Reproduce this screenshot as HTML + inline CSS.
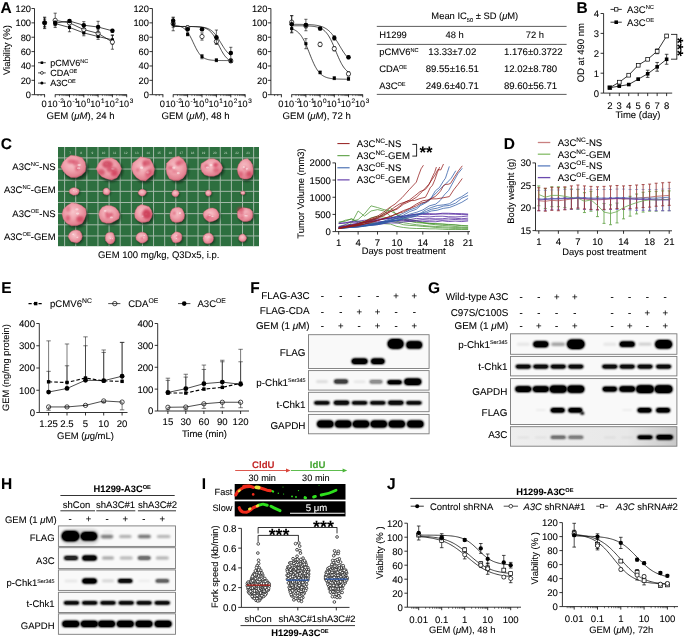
<!DOCTYPE html>
<html><head><meta charset="utf-8"><style>
html,body{margin:0;padding:0;background:#fff;}
svg{display:block;font-family:"Liberation Sans",sans-serif;will-change:transform;}
text{stroke-width:0.08px;text-rendering:geometricPrecision;}
</style></head><body>
<svg width="685" height="638" viewBox="0 0 685 638">
<defs>
<radialGradient id="tum" cx="0.45" cy="0.4" r="0.62">
<stop offset="0" stop-color="#f7c4ca"/><stop offset="0.5" stop-color="#efa2ad"/>
<stop offset="0.85" stop-color="#e28291"/><stop offset="1" stop-color="#cc6277"/></radialGradient>
<radialGradient id="tumd" cx="0.5" cy="0.45" r="0.6">
<stop offset="0" stop-color="#e86f82"/><stop offset="0.6" stop-color="#e0607a"/><stop offset="1" stop-color="#c24a5f"/></radialGradient>
<filter id="bl1" x="-30%" y="-30%" width="160%" height="160%"><feGaussianBlur stdDeviation="0.9"/></filter>
<filter id="bl05" x="-30%" y="-30%" width="160%" height="160%"><feGaussianBlur stdDeviation="0.45"/></filter>
<clipPath id="photoclip"><rect x="58" y="147" width="201" height="99.2"/></clipPath>
<filter id="wb1" x="-40%" y="-80%" width="180%" height="260%"><feGaussianBlur stdDeviation="0.85"/><feComponentTransfer><feFuncA type="linear" slope="1.5"/></feComponentTransfer></filter>
<filter id="wb2" x="-40%" y="-80%" width="180%" height="260%"><feGaussianBlur stdDeviation="1.2"/></filter>
<linearGradient id="a3cbg" x1="0" y1="0" x2="1" y2="0"><stop offset="0" stop-color="#eeeeee"/><stop offset="0.7" stop-color="#e8e8e8"/><stop offset="1" stop-color="#c8c8c8"/></linearGradient>
<filter id="fib" x="-20%" y="-50%" width="140%" height="200%"><feGaussianBlur stdDeviation="0.55"/></filter>
</defs>
<rect x="0" y="0" width="685" height="638" fill="#fff"/>
<text x="0.6" y="12.75" font-size="15.5" font-weight="bold" stroke="#000">A</text>
<line x1="34.5" y1="8.5" x2="34.5" y2="94.7" stroke="#000" stroke-width="0.8"/>
<line x1="31.5" y1="94.7" x2="34.5" y2="94.7" stroke="#000" stroke-width="0.8"/>
<text x="31" y="98.03" font-size="9.3" text-anchor="end" stroke="#000">0</text>
<line x1="31.5" y1="80.33" x2="34.5" y2="80.33" stroke="#000" stroke-width="0.8"/>
<text x="31" y="83.66" font-size="9.3" text-anchor="end" stroke="#000">20</text>
<line x1="31.5" y1="65.97" x2="34.5" y2="65.97" stroke="#000" stroke-width="0.8"/>
<text x="31" y="69.3" font-size="9.3" text-anchor="end" stroke="#000">40</text>
<line x1="31.5" y1="51.6" x2="34.5" y2="51.6" stroke="#000" stroke-width="0.8"/>
<text x="31" y="54.93" font-size="9.3" text-anchor="end" stroke="#000">60</text>
<line x1="31.5" y1="37.23" x2="34.5" y2="37.23" stroke="#000" stroke-width="0.8"/>
<text x="31" y="40.56" font-size="9.3" text-anchor="end" stroke="#000">80</text>
<line x1="31.5" y1="22.87" x2="34.5" y2="22.87" stroke="#000" stroke-width="0.8"/>
<text x="31" y="26.2" font-size="9.3" text-anchor="end" stroke="#000">100</text>
<line x1="31.5" y1="8.5" x2="34.5" y2="8.5" stroke="#000" stroke-width="0.8"/>
<text x="31" y="11.83" font-size="9.3" text-anchor="end" stroke="#000">120</text>
<line x1="34.5" y1="94.7" x2="45" y2="94.7" stroke="#000" stroke-width="0.8"/>
<line x1="44.6" y1="94.7" x2="44.6" y2="97.3" stroke="#000" stroke-width="0.8"/>
<line x1="38.03" y1="94.7" x2="38.03" y2="96.1" stroke="#000" stroke-width="0.6"/>
<line x1="41.06" y1="94.7" x2="41.06" y2="96.1" stroke="#000" stroke-width="0.6"/>
<line x1="55.2" y1="94.7" x2="126.7" y2="94.7" stroke="#000" stroke-width="0.8"/>
<line x1="55.2" y1="94.4" x2="55.2" y2="97.3" stroke="#000" stroke-width="0.8"/>
<line x1="59.5" y1="94.7" x2="59.5" y2="96.1" stroke="#000" stroke-width="0.5"/>
<line x1="62.02" y1="94.7" x2="62.02" y2="96.1" stroke="#000" stroke-width="0.5"/>
<line x1="63.81" y1="94.7" x2="63.81" y2="96.1" stroke="#000" stroke-width="0.5"/>
<line x1="65.2" y1="94.7" x2="65.2" y2="96.1" stroke="#000" stroke-width="0.5"/>
<line x1="66.33" y1="94.7" x2="66.33" y2="96.1" stroke="#000" stroke-width="0.5"/>
<line x1="67.28" y1="94.7" x2="67.28" y2="96.1" stroke="#000" stroke-width="0.5"/>
<line x1="68.11" y1="94.7" x2="68.11" y2="96.1" stroke="#000" stroke-width="0.5"/>
<line x1="68.85" y1="94.7" x2="68.85" y2="96.1" stroke="#000" stroke-width="0.5"/>
<line x1="69.5" y1="94.4" x2="69.5" y2="97.3" stroke="#000" stroke-width="0.8"/>
<line x1="73.8" y1="94.7" x2="73.8" y2="96.1" stroke="#000" stroke-width="0.5"/>
<line x1="76.32" y1="94.7" x2="76.32" y2="96.1" stroke="#000" stroke-width="0.5"/>
<line x1="78.11" y1="94.7" x2="78.11" y2="96.1" stroke="#000" stroke-width="0.5"/>
<line x1="79.5" y1="94.7" x2="79.5" y2="96.1" stroke="#000" stroke-width="0.5"/>
<line x1="80.63" y1="94.7" x2="80.63" y2="96.1" stroke="#000" stroke-width="0.5"/>
<line x1="81.58" y1="94.7" x2="81.58" y2="96.1" stroke="#000" stroke-width="0.5"/>
<line x1="82.41" y1="94.7" x2="82.41" y2="96.1" stroke="#000" stroke-width="0.5"/>
<line x1="83.15" y1="94.7" x2="83.15" y2="96.1" stroke="#000" stroke-width="0.5"/>
<line x1="83.8" y1="94.4" x2="83.8" y2="97.3" stroke="#000" stroke-width="0.8"/>
<line x1="88.1" y1="94.7" x2="88.1" y2="96.1" stroke="#000" stroke-width="0.5"/>
<line x1="90.62" y1="94.7" x2="90.62" y2="96.1" stroke="#000" stroke-width="0.5"/>
<line x1="92.41" y1="94.7" x2="92.41" y2="96.1" stroke="#000" stroke-width="0.5"/>
<line x1="93.8" y1="94.7" x2="93.8" y2="96.1" stroke="#000" stroke-width="0.5"/>
<line x1="94.93" y1="94.7" x2="94.93" y2="96.1" stroke="#000" stroke-width="0.5"/>
<line x1="95.88" y1="94.7" x2="95.88" y2="96.1" stroke="#000" stroke-width="0.5"/>
<line x1="96.71" y1="94.7" x2="96.71" y2="96.1" stroke="#000" stroke-width="0.5"/>
<line x1="97.45" y1="94.7" x2="97.45" y2="96.1" stroke="#000" stroke-width="0.5"/>
<line x1="98.1" y1="94.4" x2="98.1" y2="97.3" stroke="#000" stroke-width="0.8"/>
<line x1="102.4" y1="94.7" x2="102.4" y2="96.1" stroke="#000" stroke-width="0.5"/>
<line x1="104.92" y1="94.7" x2="104.92" y2="96.1" stroke="#000" stroke-width="0.5"/>
<line x1="106.71" y1="94.7" x2="106.71" y2="96.1" stroke="#000" stroke-width="0.5"/>
<line x1="108.1" y1="94.7" x2="108.1" y2="96.1" stroke="#000" stroke-width="0.5"/>
<line x1="109.23" y1="94.7" x2="109.23" y2="96.1" stroke="#000" stroke-width="0.5"/>
<line x1="110.18" y1="94.7" x2="110.18" y2="96.1" stroke="#000" stroke-width="0.5"/>
<line x1="111.01" y1="94.7" x2="111.01" y2="96.1" stroke="#000" stroke-width="0.5"/>
<line x1="111.75" y1="94.7" x2="111.75" y2="96.1" stroke="#000" stroke-width="0.5"/>
<line x1="112.4" y1="94.4" x2="112.4" y2="97.3" stroke="#000" stroke-width="0.8"/>
<line x1="116.7" y1="94.7" x2="116.7" y2="96.1" stroke="#000" stroke-width="0.5"/>
<line x1="119.22" y1="94.7" x2="119.22" y2="96.1" stroke="#000" stroke-width="0.5"/>
<line x1="121.01" y1="94.7" x2="121.01" y2="96.1" stroke="#000" stroke-width="0.5"/>
<line x1="122.4" y1="94.7" x2="122.4" y2="96.1" stroke="#000" stroke-width="0.5"/>
<line x1="123.53" y1="94.7" x2="123.53" y2="96.1" stroke="#000" stroke-width="0.5"/>
<line x1="124.48" y1="94.7" x2="124.48" y2="96.1" stroke="#000" stroke-width="0.5"/>
<line x1="125.31" y1="94.7" x2="125.31" y2="96.1" stroke="#000" stroke-width="0.5"/>
<line x1="126.05" y1="94.7" x2="126.05" y2="96.1" stroke="#000" stroke-width="0.5"/>
<line x1="126.7" y1="94.4" x2="126.7" y2="97.3" stroke="#000" stroke-width="0.8"/>
<text x="44.1" y="107.13" font-size="9.3" text-anchor="middle" stroke="#000">0</text>
<text x="47.4" y="107.06" font-size="9.1" stroke="#000">10<tspan font-size="6.4" dx="0.6" dy="-3.9">-2</tspan></text>
<text x="61.7" y="107.06" font-size="9.1" stroke="#000">10<tspan font-size="6.4" dx="0.6" dy="-3.9">-1</tspan></text>
<text x="76" y="107.06" font-size="9.1" stroke="#000">10<tspan font-size="6.4" dx="0.6" dy="-3.9">0</tspan></text>
<text x="90.3" y="107.06" font-size="9.1" stroke="#000">10<tspan font-size="6.4" dx="0.6" dy="-3.9">1</tspan></text>
<text x="104.6" y="107.06" font-size="9.1" stroke="#000">10<tspan font-size="6.4" dx="0.6" dy="-3.9">2</tspan></text>
<text x="118.9" y="107.06" font-size="9.1" stroke="#000">10<tspan font-size="6.4" dx="0.6" dy="-3.9">3</tspan></text>
<text x="80.6" y="119.44" font-size="9.6" text-anchor="middle" stroke="#000">GEM (<tspan font-style="italic">μM</tspan>), 24 h</text>
<polyline points="55.2,23.58 69.5,27.46 83.8,32.92 98.1,36.52 112.4,39.82" fill="none" stroke="#000" stroke-width="0.7"/>
<polyline points="55.2,20.35 69.5,22.87 83.8,29.62 98.1,33.35 112.4,42.05" fill="none" stroke="#000" stroke-width="0.7"/>
<polyline points="55.2,23.08 69.5,21 83.8,25.24 98.1,27.03 112.4,30.84" fill="none" stroke="#000" stroke-width="0.7"/>
<line x1="55.2" y1="21.43" x2="55.2" y2="25.74" stroke="#000" stroke-width="0.6"/>
<line x1="53.6" y1="21.43" x2="56.8" y2="21.43" stroke="#000" stroke-width="0.6"/>
<line x1="53.6" y1="25.74" x2="56.8" y2="25.74" stroke="#000" stroke-width="0.6"/>
<line x1="69.5" y1="23.15" x2="69.5" y2="31.77" stroke="#000" stroke-width="0.6"/>
<line x1="67.9" y1="23.15" x2="71.1" y2="23.15" stroke="#000" stroke-width="0.6"/>
<line x1="67.9" y1="31.77" x2="71.1" y2="31.77" stroke="#000" stroke-width="0.6"/>
<line x1="83.8" y1="30.05" x2="83.8" y2="35.8" stroke="#000" stroke-width="0.6"/>
<line x1="82.2" y1="30.05" x2="85.4" y2="30.05" stroke="#000" stroke-width="0.6"/>
<line x1="82.2" y1="35.8" x2="85.4" y2="35.8" stroke="#000" stroke-width="0.6"/>
<line x1="98.1" y1="33.64" x2="98.1" y2="39.39" stroke="#000" stroke-width="0.6"/>
<line x1="96.5" y1="33.64" x2="99.7" y2="33.64" stroke="#000" stroke-width="0.6"/>
<line x1="96.5" y1="39.39" x2="99.7" y2="39.39" stroke="#000" stroke-width="0.6"/>
<line x1="112.4" y1="35.51" x2="112.4" y2="44.13" stroke="#000" stroke-width="0.6"/>
<line x1="110.8" y1="35.51" x2="114" y2="35.51" stroke="#000" stroke-width="0.6"/>
<line x1="110.8" y1="44.13" x2="114" y2="44.13" stroke="#000" stroke-width="0.6"/>
<rect x="53.67" y="22.05" width="3.06" height="3.06" fill="#000"/>
<rect x="67.97" y="25.93" width="3.06" height="3.06" fill="#000"/>
<rect x="82.27" y="31.39" width="3.06" height="3.06" fill="#000"/>
<rect x="96.57" y="34.98" width="3.06" height="3.06" fill="#000"/>
<rect x="110.87" y="38.29" width="3.06" height="3.06" fill="#000"/>
<line x1="55.2" y1="13.17" x2="55.2" y2="27.54" stroke="#000" stroke-width="0.6"/>
<line x1="53.6" y1="13.17" x2="56.8" y2="13.17" stroke="#000" stroke-width="0.6"/>
<line x1="53.6" y1="27.54" x2="56.8" y2="27.54" stroke="#000" stroke-width="0.6"/>
<line x1="69.5" y1="20.71" x2="69.5" y2="25.02" stroke="#000" stroke-width="0.6"/>
<line x1="67.9" y1="20.71" x2="71.1" y2="20.71" stroke="#000" stroke-width="0.6"/>
<line x1="67.9" y1="25.02" x2="71.1" y2="25.02" stroke="#000" stroke-width="0.6"/>
<line x1="83.8" y1="26.03" x2="83.8" y2="33.21" stroke="#000" stroke-width="0.6"/>
<line x1="82.2" y1="26.03" x2="85.4" y2="26.03" stroke="#000" stroke-width="0.6"/>
<line x1="82.2" y1="33.21" x2="85.4" y2="33.21" stroke="#000" stroke-width="0.6"/>
<line x1="98.1" y1="29.76" x2="98.1" y2="36.95" stroke="#000" stroke-width="0.6"/>
<line x1="96.5" y1="29.76" x2="99.7" y2="29.76" stroke="#000" stroke-width="0.6"/>
<line x1="96.5" y1="36.95" x2="99.7" y2="36.95" stroke="#000" stroke-width="0.6"/>
<line x1="112.4" y1="34.86" x2="112.4" y2="49.23" stroke="#000" stroke-width="0.6"/>
<line x1="110.8" y1="34.86" x2="114" y2="34.86" stroke="#000" stroke-width="0.6"/>
<line x1="110.8" y1="49.23" x2="114" y2="49.23" stroke="#000" stroke-width="0.6"/>
<circle cx="55.2" cy="20.35" r="2.14" fill="#fff" stroke="#000" stroke-width="0.7"/>
<circle cx="69.5" cy="22.87" r="2.14" fill="#fff" stroke="#000" stroke-width="0.7"/>
<circle cx="83.8" cy="29.62" r="2.14" fill="#fff" stroke="#000" stroke-width="0.7"/>
<circle cx="98.1" cy="33.35" r="2.14" fill="#fff" stroke="#000" stroke-width="0.7"/>
<circle cx="112.4" cy="42.05" r="2.14" fill="#fff" stroke="#000" stroke-width="0.7"/>
<line x1="55.2" y1="20.93" x2="55.2" y2="25.24" stroke="#000" stroke-width="0.6"/>
<line x1="53.6" y1="20.93" x2="56.8" y2="20.93" stroke="#000" stroke-width="0.6"/>
<line x1="53.6" y1="25.24" x2="56.8" y2="25.24" stroke="#000" stroke-width="0.6"/>
<line x1="69.5" y1="19.56" x2="69.5" y2="22.44" stroke="#000" stroke-width="0.6"/>
<line x1="67.9" y1="19.56" x2="71.1" y2="19.56" stroke="#000" stroke-width="0.6"/>
<line x1="67.9" y1="22.44" x2="71.1" y2="22.44" stroke="#000" stroke-width="0.6"/>
<line x1="83.8" y1="21.65" x2="83.8" y2="28.83" stroke="#000" stroke-width="0.6"/>
<line x1="82.2" y1="21.65" x2="85.4" y2="21.65" stroke="#000" stroke-width="0.6"/>
<line x1="82.2" y1="28.83" x2="85.4" y2="28.83" stroke="#000" stroke-width="0.6"/>
<line x1="98.1" y1="21.29" x2="98.1" y2="32.78" stroke="#000" stroke-width="0.6"/>
<line x1="96.5" y1="21.29" x2="99.7" y2="21.29" stroke="#000" stroke-width="0.6"/>
<line x1="96.5" y1="32.78" x2="99.7" y2="32.78" stroke="#000" stroke-width="0.6"/>
<line x1="112.4" y1="29.4" x2="112.4" y2="32.28" stroke="#000" stroke-width="0.6"/>
<line x1="110.8" y1="29.4" x2="114" y2="29.4" stroke="#000" stroke-width="0.6"/>
<line x1="110.8" y1="32.28" x2="114" y2="32.28" stroke="#000" stroke-width="0.6"/>
<circle cx="55.2" cy="23.08" r="2.25" fill="#000"/>
<circle cx="69.5" cy="21" r="2.25" fill="#000"/>
<circle cx="83.8" cy="25.24" r="2.25" fill="#000"/>
<circle cx="98.1" cy="27.03" r="2.25" fill="#000"/>
<circle cx="112.4" cy="30.84" r="2.25" fill="#000"/>
<line x1="44.6" y1="17.84" x2="44.6" y2="27.89" stroke="#000" stroke-width="0.6"/>
<line x1="43" y1="17.84" x2="46.2" y2="17.84" stroke="#000" stroke-width="0.6"/>
<line x1="43" y1="27.89" x2="46.2" y2="27.89" stroke="#000" stroke-width="0.6"/>
<line x1="44.6" y1="17.12" x2="44.6" y2="28.61" stroke="#000" stroke-width="0.6"/>
<line x1="43" y1="17.12" x2="46.2" y2="17.12" stroke="#000" stroke-width="0.6"/>
<line x1="43" y1="28.61" x2="46.2" y2="28.61" stroke="#000" stroke-width="0.6"/>
<line x1="44.6" y1="19.27" x2="44.6" y2="26.46" stroke="#000" stroke-width="0.6"/>
<line x1="43" y1="19.27" x2="46.2" y2="19.27" stroke="#000" stroke-width="0.6"/>
<line x1="43" y1="26.46" x2="46.2" y2="26.46" stroke="#000" stroke-width="0.6"/>
<rect x="43.07" y="21.34" width="3.06" height="3.06" fill="#000"/>
<circle cx="44.6" cy="22.87" r="2.14" fill="#fff" stroke="#000" stroke-width="0.7"/>
<circle cx="44.6" cy="22.87" r="2.25" fill="#000"/>
<text x="6.4" y="53.5" font-size="9.5" text-anchor="middle" stroke="#000" transform="rotate(-90 6.4 50.1)">Viability (%)</text>
<line x1="38" y1="62.7" x2="45.8" y2="62.7" stroke="#000" stroke-width="0.7"/>
<rect x="40.62" y="61.43" width="2.55" height="2.55" fill="#000"/>
<text x="50.2" y="65.92" font-size="9" stroke="#000">pCMV6<tspan font-size="5.5" dy="-3.37">NC</tspan></text>
<line x1="38" y1="72.9" x2="45.8" y2="72.9" stroke="#000" stroke-width="0.7"/>
<circle cx="41.9" cy="72.9" r="1.42" fill="#fff" stroke="#000" stroke-width="0.7"/>
<text x="50.2" y="76.12" font-size="9" stroke="#000">CDA<tspan font-size="5.5" dy="-3.37">OE</tspan></text>
<line x1="38" y1="83.1" x2="45.8" y2="83.1" stroke="#000" stroke-width="0.7"/>
<circle cx="41.9" cy="83.1" r="1.5" fill="#000"/>
<text x="50.2" y="86.32" font-size="9" stroke="#000">A3C<tspan font-size="5.5" dy="-3.37">OE</tspan></text>
<line x1="152.4" y1="8.5" x2="152.4" y2="94.7" stroke="#000" stroke-width="0.8"/>
<line x1="149.4" y1="94.7" x2="152.4" y2="94.7" stroke="#000" stroke-width="0.8"/>
<text x="148.9" y="98.03" font-size="9.3" text-anchor="end" stroke="#000">0</text>
<line x1="149.4" y1="80.33" x2="152.4" y2="80.33" stroke="#000" stroke-width="0.8"/>
<text x="148.9" y="83.66" font-size="9.3" text-anchor="end" stroke="#000">20</text>
<line x1="149.4" y1="65.97" x2="152.4" y2="65.97" stroke="#000" stroke-width="0.8"/>
<text x="148.9" y="69.3" font-size="9.3" text-anchor="end" stroke="#000">40</text>
<line x1="149.4" y1="51.6" x2="152.4" y2="51.6" stroke="#000" stroke-width="0.8"/>
<text x="148.9" y="54.93" font-size="9.3" text-anchor="end" stroke="#000">60</text>
<line x1="149.4" y1="37.23" x2="152.4" y2="37.23" stroke="#000" stroke-width="0.8"/>
<text x="148.9" y="40.56" font-size="9.3" text-anchor="end" stroke="#000">80</text>
<line x1="149.4" y1="22.87" x2="152.4" y2="22.87" stroke="#000" stroke-width="0.8"/>
<text x="148.9" y="26.2" font-size="9.3" text-anchor="end" stroke="#000">100</text>
<line x1="149.4" y1="8.5" x2="152.4" y2="8.5" stroke="#000" stroke-width="0.8"/>
<text x="148.9" y="11.83" font-size="9.3" text-anchor="end" stroke="#000">120</text>
<line x1="152.4" y1="94.7" x2="163.3" y2="94.7" stroke="#000" stroke-width="0.8"/>
<line x1="162.9" y1="94.7" x2="162.9" y2="97.3" stroke="#000" stroke-width="0.8"/>
<line x1="156.08" y1="94.7" x2="156.08" y2="96.1" stroke="#000" stroke-width="0.6"/>
<line x1="159.22" y1="94.7" x2="159.22" y2="96.1" stroke="#000" stroke-width="0.6"/>
<line x1="173.2" y1="94.7" x2="245.2" y2="94.7" stroke="#000" stroke-width="0.8"/>
<line x1="173.2" y1="94.4" x2="173.2" y2="97.3" stroke="#000" stroke-width="0.8"/>
<line x1="177.53" y1="94.7" x2="177.53" y2="96.1" stroke="#000" stroke-width="0.5"/>
<line x1="180.07" y1="94.7" x2="180.07" y2="96.1" stroke="#000" stroke-width="0.5"/>
<line x1="181.87" y1="94.7" x2="181.87" y2="96.1" stroke="#000" stroke-width="0.5"/>
<line x1="183.27" y1="94.7" x2="183.27" y2="96.1" stroke="#000" stroke-width="0.5"/>
<line x1="184.41" y1="94.7" x2="184.41" y2="96.1" stroke="#000" stroke-width="0.5"/>
<line x1="185.37" y1="94.7" x2="185.37" y2="96.1" stroke="#000" stroke-width="0.5"/>
<line x1="186.2" y1="94.7" x2="186.2" y2="96.1" stroke="#000" stroke-width="0.5"/>
<line x1="186.94" y1="94.7" x2="186.94" y2="96.1" stroke="#000" stroke-width="0.5"/>
<line x1="187.6" y1="94.4" x2="187.6" y2="97.3" stroke="#000" stroke-width="0.8"/>
<line x1="191.93" y1="94.7" x2="191.93" y2="96.1" stroke="#000" stroke-width="0.5"/>
<line x1="194.47" y1="94.7" x2="194.47" y2="96.1" stroke="#000" stroke-width="0.5"/>
<line x1="196.27" y1="94.7" x2="196.27" y2="96.1" stroke="#000" stroke-width="0.5"/>
<line x1="197.67" y1="94.7" x2="197.67" y2="96.1" stroke="#000" stroke-width="0.5"/>
<line x1="198.81" y1="94.7" x2="198.81" y2="96.1" stroke="#000" stroke-width="0.5"/>
<line x1="199.77" y1="94.7" x2="199.77" y2="96.1" stroke="#000" stroke-width="0.5"/>
<line x1="200.6" y1="94.7" x2="200.6" y2="96.1" stroke="#000" stroke-width="0.5"/>
<line x1="201.34" y1="94.7" x2="201.34" y2="96.1" stroke="#000" stroke-width="0.5"/>
<line x1="202" y1="94.4" x2="202" y2="97.3" stroke="#000" stroke-width="0.8"/>
<line x1="206.33" y1="94.7" x2="206.33" y2="96.1" stroke="#000" stroke-width="0.5"/>
<line x1="208.87" y1="94.7" x2="208.87" y2="96.1" stroke="#000" stroke-width="0.5"/>
<line x1="210.67" y1="94.7" x2="210.67" y2="96.1" stroke="#000" stroke-width="0.5"/>
<line x1="212.07" y1="94.7" x2="212.07" y2="96.1" stroke="#000" stroke-width="0.5"/>
<line x1="213.21" y1="94.7" x2="213.21" y2="96.1" stroke="#000" stroke-width="0.5"/>
<line x1="214.17" y1="94.7" x2="214.17" y2="96.1" stroke="#000" stroke-width="0.5"/>
<line x1="215" y1="94.7" x2="215" y2="96.1" stroke="#000" stroke-width="0.5"/>
<line x1="215.74" y1="94.7" x2="215.74" y2="96.1" stroke="#000" stroke-width="0.5"/>
<line x1="216.4" y1="94.4" x2="216.4" y2="97.3" stroke="#000" stroke-width="0.8"/>
<line x1="220.73" y1="94.7" x2="220.73" y2="96.1" stroke="#000" stroke-width="0.5"/>
<line x1="223.27" y1="94.7" x2="223.27" y2="96.1" stroke="#000" stroke-width="0.5"/>
<line x1="225.07" y1="94.7" x2="225.07" y2="96.1" stroke="#000" stroke-width="0.5"/>
<line x1="226.47" y1="94.7" x2="226.47" y2="96.1" stroke="#000" stroke-width="0.5"/>
<line x1="227.61" y1="94.7" x2="227.61" y2="96.1" stroke="#000" stroke-width="0.5"/>
<line x1="228.57" y1="94.7" x2="228.57" y2="96.1" stroke="#000" stroke-width="0.5"/>
<line x1="229.4" y1="94.7" x2="229.4" y2="96.1" stroke="#000" stroke-width="0.5"/>
<line x1="230.14" y1="94.7" x2="230.14" y2="96.1" stroke="#000" stroke-width="0.5"/>
<line x1="230.8" y1="94.4" x2="230.8" y2="97.3" stroke="#000" stroke-width="0.8"/>
<line x1="235.13" y1="94.7" x2="235.13" y2="96.1" stroke="#000" stroke-width="0.5"/>
<line x1="237.67" y1="94.7" x2="237.67" y2="96.1" stroke="#000" stroke-width="0.5"/>
<line x1="239.47" y1="94.7" x2="239.47" y2="96.1" stroke="#000" stroke-width="0.5"/>
<line x1="240.87" y1="94.7" x2="240.87" y2="96.1" stroke="#000" stroke-width="0.5"/>
<line x1="242.01" y1="94.7" x2="242.01" y2="96.1" stroke="#000" stroke-width="0.5"/>
<line x1="242.97" y1="94.7" x2="242.97" y2="96.1" stroke="#000" stroke-width="0.5"/>
<line x1="243.8" y1="94.7" x2="243.8" y2="96.1" stroke="#000" stroke-width="0.5"/>
<line x1="244.54" y1="94.7" x2="244.54" y2="96.1" stroke="#000" stroke-width="0.5"/>
<line x1="245.2" y1="94.4" x2="245.2" y2="97.3" stroke="#000" stroke-width="0.8"/>
<text x="162.4" y="107.13" font-size="9.3" text-anchor="middle" stroke="#000">0</text>
<text x="165.4" y="107.06" font-size="9.1" stroke="#000">10<tspan font-size="6.4" dx="0.6" dy="-3.9">-2</tspan></text>
<text x="179.8" y="107.06" font-size="9.1" stroke="#000">10<tspan font-size="6.4" dx="0.6" dy="-3.9">-1</tspan></text>
<text x="194.2" y="107.06" font-size="9.1" stroke="#000">10<tspan font-size="6.4" dx="0.6" dy="-3.9">0</tspan></text>
<text x="208.6" y="107.06" font-size="9.1" stroke="#000">10<tspan font-size="6.4" dx="0.6" dy="-3.9">1</tspan></text>
<text x="223" y="107.06" font-size="9.1" stroke="#000">10<tspan font-size="6.4" dx="0.6" dy="-3.9">2</tspan></text>
<text x="237.4" y="107.06" font-size="9.1" stroke="#000">10<tspan font-size="6.4" dx="0.6" dy="-3.9">3</tspan></text>
<text x="195.6" y="119.44" font-size="9.6" text-anchor="middle" stroke="#000">GEM (<tspan font-style="italic">μM</tspan>), 48 h</text>
<polyline points="173.2,25.3 173.92,25.35 174.64,25.42 175.36,25.49 176.08,25.58 176.8,25.68 177.52,25.8 178.24,25.94 178.96,26.11 179.68,26.31 180.4,26.54 181.12,26.81 181.84,27.13 182.56,27.5 183.28,27.93 184,28.43 184.72,29 185.44,29.65 186.16,30.39 186.88,31.23 187.6,32.16 188.32,33.2 189.04,34.33 189.76,35.57 190.48,36.89 191.2,38.3 191.92,39.76 192.64,41.27 193.36,42.8 194.08,44.33 194.8,45.84 195.52,47.31 196.24,48.71 196.96,50.03 197.68,51.27 198.4,52.4 199.12,53.44 199.84,54.38 200.56,55.21 201.28,55.95 202,56.6 202.72,57.17 203.44,57.67 204.16,58.1 204.88,58.47 205.6,58.79 206.32,59.06 207.04,59.29 207.76,59.49 208.48,59.66 209.2,59.8 209.92,59.92 210.64,60.02 211.36,60.11 212.08,60.18 212.8,60.25 213.52,60.3 214.24,60.34 214.96,60.38 215.68,60.41 216.4,60.44 217.12,60.46 217.84,60.48 218.56,60.5 219.28,60.51 220,60.52 220.72,60.53 221.44,60.54 222.16,60.54 222.88,60.55 223.6,60.55 224.32,60.56 225.04,60.56 225.76,60.56 226.48,60.57 227.2,60.57 227.92,60.57 228.64,60.57 229.36,60.57 230.08,60.57 230.8,60.57" fill="none" stroke="#000" stroke-width="0.7"/>
<polyline points="173.2,26.46 173.92,26.46 174.64,26.46 175.36,26.46 176.08,26.46 176.8,26.46 177.52,26.46 178.24,26.46 178.96,26.46 179.68,26.46 180.4,26.47 181.12,26.47 181.84,26.47 182.56,26.47 183.28,26.47 184,26.47 184.72,26.48 185.44,26.48 186.16,26.48 186.88,26.49 187.6,26.49 188.32,26.5 189.04,26.51 189.76,26.52 190.48,26.53 191.2,26.54 191.92,26.55 192.64,26.57 193.36,26.59 194.08,26.61 194.8,26.64 195.52,26.67 196.24,26.7 196.96,26.75 197.68,26.8 198.4,26.86 199.12,26.92 199.84,27 200.56,27.1 201.28,27.21 202,27.34 202.72,27.49 203.44,27.66 204.16,27.86 204.88,28.1 205.6,28.37 206.32,28.68 207.04,29.04 207.76,29.46 208.48,29.93 209.2,30.47 209.92,31.08 210.64,31.78 211.36,32.55 212.08,33.42 212.8,34.37 213.52,35.41 214.24,36.55 214.96,37.77 215.68,39.07 216.4,40.43 217.12,41.85 217.84,43.3 218.56,44.78 219.28,46.25 220,47.7 220.72,49.12 221.44,50.48 222.16,51.78 222.88,53 223.6,54.14 224.32,55.18 225.04,56.14 225.76,57 226.48,57.78 227.2,58.47 227.92,59.08 228.64,59.62 229.36,60.1 230.08,60.51 230.8,60.87" fill="none" stroke="#000" stroke-width="0.7"/>
<polyline points="173.2,26.46 173.92,26.46 174.64,26.46 175.36,26.46 176.08,26.46 176.8,26.46 177.52,26.46 178.24,26.46 178.96,26.46 179.68,26.46 180.4,26.47 181.12,26.47 181.84,26.47 182.56,26.47 183.28,26.47 184,26.47 184.72,26.48 185.44,26.48 186.16,26.48 186.88,26.49 187.6,26.49 188.32,26.5 189.04,26.5 189.76,26.51 190.48,26.52 191.2,26.53 191.92,26.54 192.64,26.55 193.36,26.57 194.08,26.59 194.8,26.61 195.52,26.63 196.24,26.66 196.96,26.69 197.68,26.72 198.4,26.77 199.12,26.82 199.84,26.87 200.56,26.94 201.28,27.02 202,27.11 202.72,27.21 203.44,27.32 204.16,27.46 204.88,27.62 205.6,27.8 206.32,28 207.04,28.24 207.76,28.51 208.48,28.81 209.2,29.16 209.92,29.55 210.64,30 211.36,30.5 212.08,31.06 212.8,31.68 213.52,32.37 214.24,33.13 214.96,33.96 215.68,34.85 216.4,35.82 217.12,36.84 217.84,37.92 218.56,39.05 219.28,40.22 220,41.41 220.72,42.62 221.44,43.83 222.16,45.02 222.88,46.19 223.6,47.32 224.32,48.4 225.04,49.43 225.76,50.39 226.48,51.29 227.2,52.11 227.92,52.87 228.64,53.56 229.36,54.18 230.08,54.74 230.8,55.24" fill="none" stroke="#000" stroke-width="0.7"/>
<line x1="173.2" y1="19.99" x2="173.2" y2="27.18" stroke="#000" stroke-width="0.6"/>
<line x1="171.6" y1="19.99" x2="174.8" y2="19.99" stroke="#000" stroke-width="0.6"/>
<line x1="171.6" y1="27.18" x2="174.8" y2="27.18" stroke="#000" stroke-width="0.6"/>
<line x1="187.6" y1="25.74" x2="187.6" y2="30.05" stroke="#000" stroke-width="0.6"/>
<line x1="186" y1="25.74" x2="189.2" y2="25.74" stroke="#000" stroke-width="0.6"/>
<line x1="186" y1="30.05" x2="189.2" y2="30.05" stroke="#000" stroke-width="0.6"/>
<line x1="202" y1="32.92" x2="202" y2="40.11" stroke="#000" stroke-width="0.6"/>
<line x1="200.4" y1="32.92" x2="203.6" y2="32.92" stroke="#000" stroke-width="0.6"/>
<line x1="200.4" y1="40.11" x2="203.6" y2="40.11" stroke="#000" stroke-width="0.6"/>
<line x1="216.4" y1="39.39" x2="216.4" y2="43.7" stroke="#000" stroke-width="0.6"/>
<line x1="214.8" y1="39.39" x2="218" y2="39.39" stroke="#000" stroke-width="0.6"/>
<line x1="214.8" y1="43.7" x2="218" y2="43.7" stroke="#000" stroke-width="0.6"/>
<line x1="230.8" y1="59.5" x2="230.8" y2="62.38" stroke="#000" stroke-width="0.6"/>
<line x1="229.2" y1="59.5" x2="232.4" y2="59.5" stroke="#000" stroke-width="0.6"/>
<line x1="229.2" y1="62.38" x2="232.4" y2="62.38" stroke="#000" stroke-width="0.6"/>
<circle cx="173.2" cy="23.58" r="2.14" fill="#fff" stroke="#000" stroke-width="0.7"/>
<circle cx="187.6" cy="27.89" r="2.14" fill="#fff" stroke="#000" stroke-width="0.7"/>
<circle cx="202" cy="36.52" r="2.14" fill="#fff" stroke="#000" stroke-width="0.7"/>
<circle cx="216.4" cy="41.54" r="2.14" fill="#fff" stroke="#000" stroke-width="0.7"/>
<circle cx="230.8" cy="60.94" r="2.14" fill="#fff" stroke="#000" stroke-width="0.7"/>
<line x1="173.2" y1="17.84" x2="173.2" y2="30.77" stroke="#000" stroke-width="0.6"/>
<line x1="171.6" y1="17.84" x2="174.8" y2="17.84" stroke="#000" stroke-width="0.6"/>
<line x1="171.6" y1="30.77" x2="174.8" y2="30.77" stroke="#000" stroke-width="0.6"/>
<line x1="187.6" y1="32.92" x2="187.6" y2="35.8" stroke="#000" stroke-width="0.6"/>
<line x1="186" y1="32.92" x2="189.2" y2="32.92" stroke="#000" stroke-width="0.6"/>
<line x1="186" y1="35.8" x2="189.2" y2="35.8" stroke="#000" stroke-width="0.6"/>
<line x1="202" y1="54.47" x2="202" y2="58.78" stroke="#000" stroke-width="0.6"/>
<line x1="200.4" y1="54.47" x2="203.6" y2="54.47" stroke="#000" stroke-width="0.6"/>
<line x1="200.4" y1="58.78" x2="203.6" y2="58.78" stroke="#000" stroke-width="0.6"/>
<line x1="216.4" y1="58.78" x2="216.4" y2="61.66" stroke="#000" stroke-width="0.6"/>
<line x1="214.8" y1="58.78" x2="218" y2="58.78" stroke="#000" stroke-width="0.6"/>
<line x1="214.8" y1="61.66" x2="218" y2="61.66" stroke="#000" stroke-width="0.6"/>
<line x1="230.8" y1="59.5" x2="230.8" y2="62.38" stroke="#000" stroke-width="0.6"/>
<line x1="229.2" y1="59.5" x2="232.4" y2="59.5" stroke="#000" stroke-width="0.6"/>
<line x1="229.2" y1="62.38" x2="232.4" y2="62.38" stroke="#000" stroke-width="0.6"/>
<rect x="171.67" y="22.77" width="3.06" height="3.06" fill="#000"/>
<rect x="186.07" y="32.83" width="3.06" height="3.06" fill="#000"/>
<rect x="200.47" y="55.1" width="3.06" height="3.06" fill="#000"/>
<rect x="214.87" y="58.69" width="3.06" height="3.06" fill="#000"/>
<rect x="229.27" y="59.41" width="3.06" height="3.06" fill="#000"/>
<line x1="173.2" y1="17.12" x2="173.2" y2="24.3" stroke="#000" stroke-width="0.6"/>
<line x1="171.6" y1="17.12" x2="174.8" y2="17.12" stroke="#000" stroke-width="0.6"/>
<line x1="171.6" y1="24.3" x2="174.8" y2="24.3" stroke="#000" stroke-width="0.6"/>
<line x1="187.6" y1="27.89" x2="187.6" y2="30.77" stroke="#000" stroke-width="0.6"/>
<line x1="186" y1="27.89" x2="189.2" y2="27.89" stroke="#000" stroke-width="0.6"/>
<line x1="186" y1="30.77" x2="189.2" y2="30.77" stroke="#000" stroke-width="0.6"/>
<line x1="202" y1="27.89" x2="202" y2="30.77" stroke="#000" stroke-width="0.6"/>
<line x1="200.4" y1="27.89" x2="203.6" y2="27.89" stroke="#000" stroke-width="0.6"/>
<line x1="200.4" y1="30.77" x2="203.6" y2="30.77" stroke="#000" stroke-width="0.6"/>
<line x1="216.4" y1="30.05" x2="216.4" y2="44.42" stroke="#000" stroke-width="0.6"/>
<line x1="214.8" y1="30.05" x2="218" y2="30.05" stroke="#000" stroke-width="0.6"/>
<line x1="214.8" y1="44.42" x2="218" y2="44.42" stroke="#000" stroke-width="0.6"/>
<line x1="230.8" y1="47.29" x2="230.8" y2="58.78" stroke="#000" stroke-width="0.6"/>
<line x1="229.2" y1="47.29" x2="232.4" y2="47.29" stroke="#000" stroke-width="0.6"/>
<line x1="229.2" y1="58.78" x2="232.4" y2="58.78" stroke="#000" stroke-width="0.6"/>
<circle cx="173.2" cy="20.71" r="2.25" fill="#000"/>
<circle cx="187.6" cy="29.33" r="2.25" fill="#000"/>
<circle cx="202" cy="29.33" r="2.25" fill="#000"/>
<circle cx="216.4" cy="37.23" r="2.25" fill="#000"/>
<circle cx="230.8" cy="53.04" r="2.25" fill="#000"/>
<line x1="270.9" y1="8.5" x2="270.9" y2="94.7" stroke="#000" stroke-width="0.8"/>
<line x1="267.9" y1="94.7" x2="270.9" y2="94.7" stroke="#000" stroke-width="0.8"/>
<text x="267.4" y="98.03" font-size="9.3" text-anchor="end" stroke="#000">0</text>
<line x1="267.9" y1="80.33" x2="270.9" y2="80.33" stroke="#000" stroke-width="0.8"/>
<text x="267.4" y="83.66" font-size="9.3" text-anchor="end" stroke="#000">20</text>
<line x1="267.9" y1="65.97" x2="270.9" y2="65.97" stroke="#000" stroke-width="0.8"/>
<text x="267.4" y="69.3" font-size="9.3" text-anchor="end" stroke="#000">40</text>
<line x1="267.9" y1="51.6" x2="270.9" y2="51.6" stroke="#000" stroke-width="0.8"/>
<text x="267.4" y="54.93" font-size="9.3" text-anchor="end" stroke="#000">60</text>
<line x1="267.9" y1="37.23" x2="270.9" y2="37.23" stroke="#000" stroke-width="0.8"/>
<text x="267.4" y="40.56" font-size="9.3" text-anchor="end" stroke="#000">80</text>
<line x1="267.9" y1="22.87" x2="270.9" y2="22.87" stroke="#000" stroke-width="0.8"/>
<text x="267.4" y="26.2" font-size="9.3" text-anchor="end" stroke="#000">100</text>
<line x1="267.9" y1="8.5" x2="270.9" y2="8.5" stroke="#000" stroke-width="0.8"/>
<text x="267.4" y="11.83" font-size="9.3" text-anchor="end" stroke="#000">120</text>
<line x1="270.9" y1="94.7" x2="281.8" y2="94.7" stroke="#000" stroke-width="0.8"/>
<line x1="281.4" y1="94.7" x2="281.4" y2="97.3" stroke="#000" stroke-width="0.8"/>
<line x1="274.57" y1="94.7" x2="274.57" y2="96.1" stroke="#000" stroke-width="0.6"/>
<line x1="277.72" y1="94.7" x2="277.72" y2="96.1" stroke="#000" stroke-width="0.6"/>
<line x1="291.7" y1="94.7" x2="362.7" y2="94.7" stroke="#000" stroke-width="0.8"/>
<line x1="291.7" y1="94.4" x2="291.7" y2="97.3" stroke="#000" stroke-width="0.8"/>
<line x1="295.97" y1="94.7" x2="295.97" y2="96.1" stroke="#000" stroke-width="0.5"/>
<line x1="298.48" y1="94.7" x2="298.48" y2="96.1" stroke="#000" stroke-width="0.5"/>
<line x1="300.25" y1="94.7" x2="300.25" y2="96.1" stroke="#000" stroke-width="0.5"/>
<line x1="301.63" y1="94.7" x2="301.63" y2="96.1" stroke="#000" stroke-width="0.5"/>
<line x1="302.75" y1="94.7" x2="302.75" y2="96.1" stroke="#000" stroke-width="0.5"/>
<line x1="303.7" y1="94.7" x2="303.7" y2="96.1" stroke="#000" stroke-width="0.5"/>
<line x1="304.52" y1="94.7" x2="304.52" y2="96.1" stroke="#000" stroke-width="0.5"/>
<line x1="305.25" y1="94.7" x2="305.25" y2="96.1" stroke="#000" stroke-width="0.5"/>
<line x1="305.9" y1="94.4" x2="305.9" y2="97.3" stroke="#000" stroke-width="0.8"/>
<line x1="310.17" y1="94.7" x2="310.17" y2="96.1" stroke="#000" stroke-width="0.5"/>
<line x1="312.68" y1="94.7" x2="312.68" y2="96.1" stroke="#000" stroke-width="0.5"/>
<line x1="314.45" y1="94.7" x2="314.45" y2="96.1" stroke="#000" stroke-width="0.5"/>
<line x1="315.83" y1="94.7" x2="315.83" y2="96.1" stroke="#000" stroke-width="0.5"/>
<line x1="316.95" y1="94.7" x2="316.95" y2="96.1" stroke="#000" stroke-width="0.5"/>
<line x1="317.9" y1="94.7" x2="317.9" y2="96.1" stroke="#000" stroke-width="0.5"/>
<line x1="318.72" y1="94.7" x2="318.72" y2="96.1" stroke="#000" stroke-width="0.5"/>
<line x1="319.45" y1="94.7" x2="319.45" y2="96.1" stroke="#000" stroke-width="0.5"/>
<line x1="320.1" y1="94.4" x2="320.1" y2="97.3" stroke="#000" stroke-width="0.8"/>
<line x1="324.37" y1="94.7" x2="324.37" y2="96.1" stroke="#000" stroke-width="0.5"/>
<line x1="326.88" y1="94.7" x2="326.88" y2="96.1" stroke="#000" stroke-width="0.5"/>
<line x1="328.65" y1="94.7" x2="328.65" y2="96.1" stroke="#000" stroke-width="0.5"/>
<line x1="330.03" y1="94.7" x2="330.03" y2="96.1" stroke="#000" stroke-width="0.5"/>
<line x1="331.15" y1="94.7" x2="331.15" y2="96.1" stroke="#000" stroke-width="0.5"/>
<line x1="332.1" y1="94.7" x2="332.1" y2="96.1" stroke="#000" stroke-width="0.5"/>
<line x1="332.92" y1="94.7" x2="332.92" y2="96.1" stroke="#000" stroke-width="0.5"/>
<line x1="333.65" y1="94.7" x2="333.65" y2="96.1" stroke="#000" stroke-width="0.5"/>
<line x1="334.3" y1="94.4" x2="334.3" y2="97.3" stroke="#000" stroke-width="0.8"/>
<line x1="338.57" y1="94.7" x2="338.57" y2="96.1" stroke="#000" stroke-width="0.5"/>
<line x1="341.08" y1="94.7" x2="341.08" y2="96.1" stroke="#000" stroke-width="0.5"/>
<line x1="342.85" y1="94.7" x2="342.85" y2="96.1" stroke="#000" stroke-width="0.5"/>
<line x1="344.23" y1="94.7" x2="344.23" y2="96.1" stroke="#000" stroke-width="0.5"/>
<line x1="345.35" y1="94.7" x2="345.35" y2="96.1" stroke="#000" stroke-width="0.5"/>
<line x1="346.3" y1="94.7" x2="346.3" y2="96.1" stroke="#000" stroke-width="0.5"/>
<line x1="347.12" y1="94.7" x2="347.12" y2="96.1" stroke="#000" stroke-width="0.5"/>
<line x1="347.85" y1="94.7" x2="347.85" y2="96.1" stroke="#000" stroke-width="0.5"/>
<line x1="348.5" y1="94.4" x2="348.5" y2="97.3" stroke="#000" stroke-width="0.8"/>
<line x1="352.77" y1="94.7" x2="352.77" y2="96.1" stroke="#000" stroke-width="0.5"/>
<line x1="355.28" y1="94.7" x2="355.28" y2="96.1" stroke="#000" stroke-width="0.5"/>
<line x1="357.05" y1="94.7" x2="357.05" y2="96.1" stroke="#000" stroke-width="0.5"/>
<line x1="358.43" y1="94.7" x2="358.43" y2="96.1" stroke="#000" stroke-width="0.5"/>
<line x1="359.55" y1="94.7" x2="359.55" y2="96.1" stroke="#000" stroke-width="0.5"/>
<line x1="360.5" y1="94.7" x2="360.5" y2="96.1" stroke="#000" stroke-width="0.5"/>
<line x1="361.32" y1="94.7" x2="361.32" y2="96.1" stroke="#000" stroke-width="0.5"/>
<line x1="362.05" y1="94.7" x2="362.05" y2="96.1" stroke="#000" stroke-width="0.5"/>
<line x1="362.7" y1="94.4" x2="362.7" y2="97.3" stroke="#000" stroke-width="0.8"/>
<text x="280.9" y="107.13" font-size="9.3" text-anchor="middle" stroke="#000">0</text>
<text x="283.9" y="107.06" font-size="9.1" stroke="#000">10<tspan font-size="6.4" dx="0.6" dy="-3.9">-2</tspan></text>
<text x="298.1" y="107.06" font-size="9.1" stroke="#000">10<tspan font-size="6.4" dx="0.6" dy="-3.9">-1</tspan></text>
<text x="312.3" y="107.06" font-size="9.1" stroke="#000">10<tspan font-size="6.4" dx="0.6" dy="-3.9">0</tspan></text>
<text x="326.5" y="107.06" font-size="9.1" stroke="#000">10<tspan font-size="6.4" dx="0.6" dy="-3.9">1</tspan></text>
<text x="340.7" y="107.06" font-size="9.1" stroke="#000">10<tspan font-size="6.4" dx="0.6" dy="-3.9">2</tspan></text>
<text x="354.9" y="107.06" font-size="9.1" stroke="#000">10<tspan font-size="6.4" dx="0.6" dy="-3.9">3</tspan></text>
<text x="316.7" y="119.44" font-size="9.6" text-anchor="middle" stroke="#000">GEM (<tspan font-style="italic">μM</tspan>), 72 h</text>
<polyline points="291.7,28.77 292.41,29 293.12,29.26 293.83,29.56 294.54,29.89 295.25,30.27 295.96,30.69 296.67,31.18 297.38,31.72 298.09,32.32 298.8,33 299.51,33.75 300.22,34.59 300.93,35.51 301.64,36.53 302.35,37.63 303.06,38.83 303.77,40.13 304.48,41.52 305.19,43 305.9,44.56 306.61,46.2 307.32,47.9 308.03,49.64 308.74,51.42 309.45,53.22 310.16,55.01 310.87,56.79 311.58,58.54 312.29,60.23 313,61.87 313.71,63.43 314.42,64.91 315.13,66.3 315.84,67.6 316.55,68.8 317.26,69.91 317.97,70.92 318.68,71.84 319.39,72.68 320.1,73.43 320.81,74.11 321.52,74.72 322.23,75.26 322.94,75.74 323.65,76.16 324.36,76.54 325.07,76.88 325.78,77.17 326.49,77.43 327.2,77.66 327.91,77.86 328.62,78.04 329.33,78.19 330.04,78.33 330.75,78.44 331.46,78.55 332.17,78.64 332.88,78.72 333.59,78.79 334.3,78.85 335.01,78.9 335.72,78.94 336.43,78.98 337.14,79.02 337.85,79.05 338.56,79.08 339.27,79.1 339.98,79.12 340.69,79.14 341.4,79.15 342.11,79.17 342.82,79.18 343.53,79.19 344.24,79.2 344.95,79.2 345.66,79.21 346.37,79.22 347.08,79.22 347.79,79.23 348.5,79.23" fill="none" stroke="#000" stroke-width="0.7"/>
<polyline points="291.7,25.75 292.41,25.75 293.12,25.75 293.83,25.75 294.54,25.76 295.25,25.76 295.96,25.76 296.67,25.77 297.38,25.77 298.09,25.77 298.8,25.78 299.51,25.78 300.22,25.79 300.93,25.8 301.64,25.81 302.35,25.82 303.06,25.83 303.77,25.84 304.48,25.85 305.19,25.87 305.9,25.89 306.61,25.91 307.32,25.94 308.03,25.97 308.74,26 309.45,26.04 310.16,26.09 310.87,26.14 311.58,26.19 312.29,26.26 313,26.34 313.71,26.42 314.42,26.52 315.13,26.64 315.84,26.77 316.55,26.92 317.26,27.09 317.97,27.28 318.68,27.5 319.39,27.75 320.1,28.04 320.81,28.36 321.52,28.72 322.23,29.14 322.94,29.6 323.65,30.12 324.36,30.71 325.07,31.36 325.78,32.09 326.49,32.9 327.2,33.79 327.91,34.77 328.62,35.83 329.33,37 330.04,38.25 330.75,39.59 331.46,41.02 332.17,42.53 332.88,44.11 333.59,45.74 334.3,47.43 335.01,49.15 335.72,50.88 336.43,52.62 337.14,54.33 337.85,56.02 338.56,57.66 339.27,59.24 339.98,60.74 340.69,62.17 341.4,63.51 342.11,64.77 342.82,65.93 343.53,67 344.24,67.98 344.95,68.87 345.66,69.67 346.37,70.4 347.08,71.05 347.79,71.64 348.5,72.16" fill="none" stroke="#000" stroke-width="0.7"/>
<polyline points="291.7,24.32 292.41,24.32 293.12,24.33 293.83,24.33 294.54,24.33 295.25,24.34 295.96,24.34 296.67,24.34 297.38,24.35 298.09,24.36 298.8,24.36 299.51,24.37 300.22,24.38 300.93,24.39 301.64,24.4 302.35,24.41 303.06,24.42 303.77,24.43 304.48,24.45 305.19,24.47 305.9,24.49 306.61,24.51 307.32,24.54 308.03,24.56 308.74,24.6 309.45,24.63 310.16,24.67 310.87,24.72 311.58,24.77 312.29,24.82 313,24.88 313.71,24.95 314.42,25.03 315.13,25.12 315.84,25.22 316.55,25.32 317.26,25.45 317.97,25.58 318.68,25.73 319.39,25.9 320.1,26.08 320.81,26.29 321.52,26.52 322.23,26.78 322.94,27.06 323.65,27.37 324.36,27.71 325.07,28.09 325.78,28.51 326.49,28.96 327.2,29.46 327.91,30 328.62,30.59 329.33,31.23 330.04,31.92 330.75,32.67 331.46,33.46 332.17,34.31 332.88,35.21 333.59,36.17 334.3,37.17 335.01,38.21 335.72,39.3 336.43,40.42 337.14,41.57 337.85,42.75 338.56,43.94 339.27,45.13 339.98,46.33 340.69,47.52 341.4,48.7 342.11,49.85 342.82,50.97 343.53,52.06 344.24,53.1 344.95,54.1 345.66,55.06 346.37,55.96 347.08,56.81 347.79,57.6 348.5,58.35" fill="none" stroke="#000" stroke-width="0.7"/>
<line x1="291.7" y1="15.68" x2="291.7" y2="28.61" stroke="#000" stroke-width="0.6"/>
<line x1="290.1" y1="15.68" x2="293.3" y2="15.68" stroke="#000" stroke-width="0.6"/>
<line x1="290.1" y1="28.61" x2="293.3" y2="28.61" stroke="#000" stroke-width="0.6"/>
<line x1="305.9" y1="23.58" x2="305.9" y2="27.89" stroke="#000" stroke-width="0.6"/>
<line x1="304.3" y1="23.58" x2="307.5" y2="23.58" stroke="#000" stroke-width="0.6"/>
<line x1="304.3" y1="27.89" x2="307.5" y2="27.89" stroke="#000" stroke-width="0.6"/>
<line x1="320.1" y1="42.26" x2="320.1" y2="46.57" stroke="#000" stroke-width="0.6"/>
<line x1="318.5" y1="42.26" x2="321.7" y2="42.26" stroke="#000" stroke-width="0.6"/>
<line x1="318.5" y1="46.57" x2="321.7" y2="46.57" stroke="#000" stroke-width="0.6"/>
<line x1="334.3" y1="46.57" x2="334.3" y2="50.88" stroke="#000" stroke-width="0.6"/>
<line x1="332.7" y1="46.57" x2="335.9" y2="46.57" stroke="#000" stroke-width="0.6"/>
<line x1="332.7" y1="50.88" x2="335.9" y2="50.88" stroke="#000" stroke-width="0.6"/>
<line x1="348.5" y1="71.71" x2="348.5" y2="76.02" stroke="#000" stroke-width="0.6"/>
<line x1="346.9" y1="71.71" x2="350.1" y2="71.71" stroke="#000" stroke-width="0.6"/>
<line x1="346.9" y1="76.02" x2="350.1" y2="76.02" stroke="#000" stroke-width="0.6"/>
<circle cx="291.7" cy="22.15" r="2.14" fill="#fff" stroke="#000" stroke-width="0.7"/>
<circle cx="305.9" cy="25.74" r="2.14" fill="#fff" stroke="#000" stroke-width="0.7"/>
<circle cx="320.1" cy="44.42" r="2.14" fill="#fff" stroke="#000" stroke-width="0.7"/>
<circle cx="334.3" cy="48.73" r="2.14" fill="#fff" stroke="#000" stroke-width="0.7"/>
<circle cx="348.5" cy="73.87" r="2.14" fill="#fff" stroke="#000" stroke-width="0.7"/>
<line x1="291.7" y1="25.02" x2="291.7" y2="32.2" stroke="#000" stroke-width="0.6"/>
<line x1="290.1" y1="25.02" x2="293.3" y2="25.02" stroke="#000" stroke-width="0.6"/>
<line x1="290.1" y1="32.2" x2="293.3" y2="32.2" stroke="#000" stroke-width="0.6"/>
<line x1="305.9" y1="38.67" x2="305.9" y2="48.73" stroke="#000" stroke-width="0.6"/>
<line x1="304.3" y1="38.67" x2="307.5" y2="38.67" stroke="#000" stroke-width="0.6"/>
<line x1="304.3" y1="48.73" x2="307.5" y2="48.73" stroke="#000" stroke-width="0.6"/>
<line x1="320.1" y1="71" x2="320.1" y2="73.87" stroke="#000" stroke-width="0.6"/>
<line x1="318.5" y1="71" x2="321.7" y2="71" stroke="#000" stroke-width="0.6"/>
<line x1="318.5" y1="73.87" x2="321.7" y2="73.87" stroke="#000" stroke-width="0.6"/>
<line x1="334.3" y1="76.74" x2="334.3" y2="79.62" stroke="#000" stroke-width="0.6"/>
<line x1="332.7" y1="76.74" x2="335.9" y2="76.74" stroke="#000" stroke-width="0.6"/>
<line x1="332.7" y1="79.62" x2="335.9" y2="79.62" stroke="#000" stroke-width="0.6"/>
<line x1="348.5" y1="77.46" x2="348.5" y2="80.33" stroke="#000" stroke-width="0.6"/>
<line x1="346.9" y1="77.46" x2="350.1" y2="77.46" stroke="#000" stroke-width="0.6"/>
<line x1="346.9" y1="80.33" x2="350.1" y2="80.33" stroke="#000" stroke-width="0.6"/>
<rect x="290.17" y="27.08" width="3.06" height="3.06" fill="#000"/>
<rect x="304.37" y="42.17" width="3.06" height="3.06" fill="#000"/>
<rect x="318.57" y="70.9" width="3.06" height="3.06" fill="#000"/>
<rect x="332.77" y="76.65" width="3.06" height="3.06" fill="#000"/>
<rect x="346.97" y="77.37" width="3.06" height="3.06" fill="#000"/>
<line x1="291.7" y1="15.68" x2="291.7" y2="32.92" stroke="#000" stroke-width="0.6"/>
<line x1="290.1" y1="15.68" x2="293.3" y2="15.68" stroke="#000" stroke-width="0.6"/>
<line x1="290.1" y1="32.92" x2="293.3" y2="32.92" stroke="#000" stroke-width="0.6"/>
<line x1="305.9" y1="19.27" x2="305.9" y2="30.77" stroke="#000" stroke-width="0.6"/>
<line x1="304.3" y1="19.27" x2="307.5" y2="19.27" stroke="#000" stroke-width="0.6"/>
<line x1="304.3" y1="30.77" x2="307.5" y2="30.77" stroke="#000" stroke-width="0.6"/>
<line x1="320.1" y1="27.18" x2="320.1" y2="30.05" stroke="#000" stroke-width="0.6"/>
<line x1="318.5" y1="27.18" x2="321.7" y2="27.18" stroke="#000" stroke-width="0.6"/>
<line x1="318.5" y1="30.05" x2="321.7" y2="30.05" stroke="#000" stroke-width="0.6"/>
<line x1="334.3" y1="35.8" x2="334.3" y2="40.11" stroke="#000" stroke-width="0.6"/>
<line x1="332.7" y1="35.8" x2="335.9" y2="35.8" stroke="#000" stroke-width="0.6"/>
<line x1="332.7" y1="40.11" x2="335.9" y2="40.11" stroke="#000" stroke-width="0.6"/>
<line x1="348.5" y1="55.91" x2="348.5" y2="58.78" stroke="#000" stroke-width="0.6"/>
<line x1="346.9" y1="55.91" x2="350.1" y2="55.91" stroke="#000" stroke-width="0.6"/>
<line x1="346.9" y1="58.78" x2="350.1" y2="58.78" stroke="#000" stroke-width="0.6"/>
<circle cx="291.7" cy="24.3" r="2.25" fill="#000"/>
<circle cx="305.9" cy="25.02" r="2.25" fill="#000"/>
<circle cx="320.1" cy="28.61" r="2.25" fill="#000"/>
<circle cx="334.3" cy="37.95" r="2.25" fill="#000"/>
<circle cx="348.5" cy="57.35" r="2.25" fill="#000"/>
<line x1="376.8" y1="26.4" x2="566.6" y2="26.4" stroke="#333" stroke-width="0.8"/>
<line x1="376.8" y1="44.4" x2="566.6" y2="44.4" stroke="#333" stroke-width="0.8"/>
<line x1="376.8" y1="94.4" x2="566.6" y2="94.4" stroke="#333" stroke-width="0.8"/>
<text x="474.8" y="18.97" font-size="9.4" text-anchor="middle" stroke="#000">Mean IC<tspan font-size="5.6" dy="2.6">50</tspan><tspan dy="-2.6"> ± SD (</tspan><tspan font-style="italic">μ</tspan>M)</text>
<text x="379.2" y="38.07" font-size="9.4" stroke="#000">H1299</text>
<text x="454.6" y="38.07" font-size="9.4" text-anchor="middle" stroke="#000">48 h</text>
<text x="534.9" y="38.07" font-size="9.4" text-anchor="middle" stroke="#000">72 h</text>
<text x="379.2" y="55.37" font-size="9.4" stroke="#000">pCMV6<tspan font-size="5.6" dy="-3.43">NC</tspan></text>
<text x="452.3" y="55.44" font-size="9.6" text-anchor="middle" stroke="#000">13.33±7.02</text>
<text x="503.9" y="55.44" font-size="9.6" stroke="#000">1.176±0.3722</text>
<text x="379.2" y="72.22" font-size="9.4" stroke="#000">CDA<tspan font-size="5.6" dy="-3.43">OE</tspan></text>
<text x="452.3" y="72.29" font-size="9.6" text-anchor="middle" stroke="#000">89.55±16.51</text>
<text x="503.9" y="72.29" font-size="9.6" stroke="#000">12.02±8.780</text>
<text x="379.2" y="89.07" font-size="9.4" stroke="#000">A3C<tspan font-size="5.6" dy="-3.43">OE</tspan></text>
<text x="452.3" y="89.14" font-size="9.6" text-anchor="middle" stroke="#000">249.6±40.71</text>
<text x="503.9" y="89.14" font-size="9.6" stroke="#000">89.60±56.71</text>
<text x="576.6" y="12.55" font-size="15.5" font-weight="bold" stroke="#000">B</text>
<line x1="603.6" y1="13.5" x2="603.6" y2="93.1" stroke="#000" stroke-width="0.8"/>
<line x1="603.6" y1="93.1" x2="672.2" y2="93.1" stroke="#000" stroke-width="0.8"/>
<line x1="600.6" y1="93.1" x2="603.6" y2="93.1" stroke="#000" stroke-width="0.8"/>
<text x="599" y="96.5" font-size="9.5" text-anchor="end" stroke="#000">0</text>
<line x1="600.6" y1="73.2" x2="603.6" y2="73.2" stroke="#000" stroke-width="0.8"/>
<text x="599" y="76.6" font-size="9.5" text-anchor="end" stroke="#000">1</text>
<line x1="600.6" y1="53.3" x2="603.6" y2="53.3" stroke="#000" stroke-width="0.8"/>
<text x="599" y="56.7" font-size="9.5" text-anchor="end" stroke="#000">2</text>
<line x1="600.6" y1="33.4" x2="603.6" y2="33.4" stroke="#000" stroke-width="0.8"/>
<text x="599" y="36.8" font-size="9.5" text-anchor="end" stroke="#000">3</text>
<line x1="600.6" y1="13.5" x2="603.6" y2="13.5" stroke="#000" stroke-width="0.8"/>
<text x="599" y="16.9" font-size="9.5" text-anchor="end" stroke="#000">4</text>
<line x1="609.8" y1="93.1" x2="609.8" y2="96.1" stroke="#000" stroke-width="0.8"/>
<text x="609.8" y="109.4" font-size="9.5" text-anchor="middle" stroke="#000">2</text>
<line x1="619.27" y1="93.1" x2="619.27" y2="96.1" stroke="#000" stroke-width="0.8"/>
<text x="619.27" y="109.4" font-size="9.5" text-anchor="middle" stroke="#000">3</text>
<line x1="628.74" y1="93.1" x2="628.74" y2="96.1" stroke="#000" stroke-width="0.8"/>
<text x="628.74" y="109.4" font-size="9.5" text-anchor="middle" stroke="#000">4</text>
<line x1="638.21" y1="93.1" x2="638.21" y2="96.1" stroke="#000" stroke-width="0.8"/>
<text x="638.21" y="109.4" font-size="9.5" text-anchor="middle" stroke="#000">5</text>
<line x1="647.68" y1="93.1" x2="647.68" y2="96.1" stroke="#000" stroke-width="0.8"/>
<text x="647.68" y="109.4" font-size="9.5" text-anchor="middle" stroke="#000">6</text>
<line x1="657.15" y1="93.1" x2="657.15" y2="96.1" stroke="#000" stroke-width="0.8"/>
<text x="657.15" y="109.4" font-size="9.5" text-anchor="middle" stroke="#000">7</text>
<line x1="666.62" y1="93.1" x2="666.62" y2="96.1" stroke="#000" stroke-width="0.8"/>
<text x="666.62" y="109.4" font-size="9.5" text-anchor="middle" stroke="#000">8</text>
<text x="637.9" y="118.3" font-size="9.5" text-anchor="middle" stroke="#000">Time (day)</text>
<text x="580.9" y="56.1" font-size="9.5" text-anchor="middle" stroke="#000" transform="rotate(-90 580.9 52.7)">OD at 490 nm</text>
<polyline points="609.8,87.73 619.27,82.16 628.74,75.19 638.21,65.24 647.68,59.27 657.15,51.31 666.62,35.99" fill="none" stroke="#000" stroke-width="0.8"/>
<polyline points="609.8,87.73 619.27,86.13 628.74,84.54 638.21,79.17 647.68,73.8 657.15,66.83 666.62,59.27" fill="none" stroke="#000" stroke-width="0.8"/>
<line x1="609.8" y1="87.33" x2="609.8" y2="88.12" stroke="#000" stroke-width="0.7"/>
<line x1="608" y1="87.33" x2="611.6" y2="87.33" stroke="#000" stroke-width="0.7"/>
<line x1="608" y1="88.12" x2="611.6" y2="88.12" stroke="#000" stroke-width="0.7"/>
<line x1="619.27" y1="81.16" x2="619.27" y2="83.15" stroke="#000" stroke-width="0.7"/>
<line x1="617.47" y1="81.16" x2="621.07" y2="81.16" stroke="#000" stroke-width="0.7"/>
<line x1="617.47" y1="83.15" x2="621.07" y2="83.15" stroke="#000" stroke-width="0.7"/>
<line x1="628.74" y1="74.19" x2="628.74" y2="76.19" stroke="#000" stroke-width="0.7"/>
<line x1="626.94" y1="74.19" x2="630.54" y2="74.19" stroke="#000" stroke-width="0.7"/>
<line x1="626.94" y1="76.19" x2="630.54" y2="76.19" stroke="#000" stroke-width="0.7"/>
<line x1="638.21" y1="64.25" x2="638.21" y2="66.23" stroke="#000" stroke-width="0.7"/>
<line x1="636.41" y1="64.25" x2="640.01" y2="64.25" stroke="#000" stroke-width="0.7"/>
<line x1="636.41" y1="66.23" x2="640.01" y2="66.23" stroke="#000" stroke-width="0.7"/>
<line x1="647.68" y1="58.27" x2="647.68" y2="60.27" stroke="#000" stroke-width="0.7"/>
<line x1="645.88" y1="58.27" x2="649.48" y2="58.27" stroke="#000" stroke-width="0.7"/>
<line x1="645.88" y1="60.27" x2="649.48" y2="60.27" stroke="#000" stroke-width="0.7"/>
<line x1="657.15" y1="48.92" x2="657.15" y2="53.7" stroke="#000" stroke-width="0.7"/>
<line x1="655.35" y1="48.92" x2="658.95" y2="48.92" stroke="#000" stroke-width="0.7"/>
<line x1="655.35" y1="53.7" x2="658.95" y2="53.7" stroke="#000" stroke-width="0.7"/>
<line x1="666.62" y1="34.39" x2="666.62" y2="37.58" stroke="#000" stroke-width="0.7"/>
<line x1="664.82" y1="34.39" x2="668.42" y2="34.39" stroke="#000" stroke-width="0.7"/>
<line x1="664.82" y1="37.58" x2="668.42" y2="37.58" stroke="#000" stroke-width="0.7"/>
<line x1="609.8" y1="87.33" x2="609.8" y2="88.12" stroke="#000" stroke-width="0.7"/>
<line x1="608" y1="87.33" x2="611.6" y2="87.33" stroke="#000" stroke-width="0.7"/>
<line x1="608" y1="88.12" x2="611.6" y2="88.12" stroke="#000" stroke-width="0.7"/>
<line x1="619.27" y1="85.54" x2="619.27" y2="86.73" stroke="#000" stroke-width="0.7"/>
<line x1="617.47" y1="85.54" x2="621.07" y2="85.54" stroke="#000" stroke-width="0.7"/>
<line x1="617.47" y1="86.73" x2="621.07" y2="86.73" stroke="#000" stroke-width="0.7"/>
<line x1="628.74" y1="83.95" x2="628.74" y2="85.14" stroke="#000" stroke-width="0.7"/>
<line x1="626.94" y1="83.95" x2="630.54" y2="83.95" stroke="#000" stroke-width="0.7"/>
<line x1="626.94" y1="85.14" x2="630.54" y2="85.14" stroke="#000" stroke-width="0.7"/>
<line x1="638.21" y1="78.17" x2="638.21" y2="80.16" stroke="#000" stroke-width="0.7"/>
<line x1="636.41" y1="78.17" x2="640.01" y2="78.17" stroke="#000" stroke-width="0.7"/>
<line x1="636.41" y1="80.16" x2="640.01" y2="80.16" stroke="#000" stroke-width="0.7"/>
<line x1="647.68" y1="70.22" x2="647.68" y2="77.38" stroke="#000" stroke-width="0.7"/>
<line x1="645.88" y1="70.22" x2="649.48" y2="70.22" stroke="#000" stroke-width="0.7"/>
<line x1="645.88" y1="77.38" x2="649.48" y2="77.38" stroke="#000" stroke-width="0.7"/>
<line x1="657.15" y1="62.45" x2="657.15" y2="71.21" stroke="#000" stroke-width="0.7"/>
<line x1="655.35" y1="62.45" x2="658.95" y2="62.45" stroke="#000" stroke-width="0.7"/>
<line x1="655.35" y1="71.21" x2="658.95" y2="71.21" stroke="#000" stroke-width="0.7"/>
<line x1="666.62" y1="54.29" x2="666.62" y2="64.25" stroke="#000" stroke-width="0.7"/>
<line x1="664.82" y1="54.29" x2="668.42" y2="54.29" stroke="#000" stroke-width="0.7"/>
<line x1="664.82" y1="64.25" x2="668.42" y2="64.25" stroke="#000" stroke-width="0.7"/>
<rect x="607.91" y="85.84" width="3.78" height="3.78" fill="#fff" stroke="#000" stroke-width="0.7"/>
<rect x="617.38" y="80.27" width="3.78" height="3.78" fill="#fff" stroke="#000" stroke-width="0.7"/>
<rect x="626.85" y="73.3" width="3.78" height="3.78" fill="#fff" stroke="#000" stroke-width="0.7"/>
<rect x="636.32" y="63.35" width="3.78" height="3.78" fill="#fff" stroke="#000" stroke-width="0.7"/>
<rect x="645.79" y="57.38" width="3.78" height="3.78" fill="#fff" stroke="#000" stroke-width="0.7"/>
<rect x="655.26" y="49.42" width="3.78" height="3.78" fill="#fff" stroke="#000" stroke-width="0.7"/>
<rect x="664.73" y="34.1" width="3.78" height="3.78" fill="#fff" stroke="#000" stroke-width="0.7"/>
<rect x="608.01" y="85.94" width="3.57" height="3.57" fill="#000"/>
<rect x="617.49" y="84.35" width="3.57" height="3.57" fill="#000"/>
<rect x="626.96" y="82.76" width="3.57" height="3.57" fill="#000"/>
<rect x="636.42" y="77.39" width="3.57" height="3.57" fill="#000"/>
<rect x="645.89" y="72.01" width="3.57" height="3.57" fill="#000"/>
<rect x="655.37" y="65.05" width="3.57" height="3.57" fill="#000"/>
<rect x="664.84" y="57.48" width="3.57" height="3.57" fill="#000"/>
<line x1="610.5" y1="9.4" x2="621.8" y2="9.4" stroke="#000" stroke-width="0.8"/>
<rect x="614.49" y="7.69" width="3.42" height="3.42" fill="#fff" stroke="#000" stroke-width="0.7"/>
<text x="627" y="12.84" font-size="9.6" stroke="#000">A3C<tspan font-size="5.8" dy="-3.55">NC</tspan></text>
<line x1="610.5" y1="22.2" x2="621.8" y2="22.2" stroke="#000" stroke-width="0.8"/>
<rect x="614.42" y="20.42" width="3.57" height="3.57" fill="#000"/>
<text x="627" y="25.64" font-size="9.6" stroke="#000">A3C<tspan font-size="5.8" dy="-3.55">OE</tspan></text>
<line x1="671" y1="34.4" x2="677.2" y2="34.4" stroke="#000" stroke-width="0.8"/>
<line x1="671" y1="59.2" x2="677.2" y2="59.2" stroke="#000" stroke-width="0.8"/>
<line x1="676.8" y1="34.4" x2="676.8" y2="59.2" stroke="#000" stroke-width="0.8"/>
<text x="680.7" y="55.16" font-size="16.2" font-weight="bold" text-anchor="middle" transform="rotate(90 680.7 46.9)">***</text>
<text x="0.8" y="148.95" font-size="15.5" font-weight="bold" stroke="#000">C</text>
<text x="55.6" y="169.5" font-size="9.5" text-anchor="end" stroke="#000">A3C<tspan font-size="5.8" dy="-3.55">NC</tspan><tspan dy="3.55">-NS</tspan></text>
<text x="55.6" y="192.6" font-size="9.5" text-anchor="end" stroke="#000">A3C<tspan font-size="5.8" dy="-3.55">NC</tspan><tspan dy="3.55">-GEM</tspan></text>
<text x="55.6" y="216.9" font-size="9.5" text-anchor="end" stroke="#000">A3C<tspan font-size="5.8" dy="-3.55">OE</tspan><tspan dy="3.55">-NS</tspan></text>
<text x="55.6" y="239.8" font-size="9.5" text-anchor="end" stroke="#000">A3C<tspan font-size="5.8" dy="-3.55">OE</tspan><tspan dy="3.55">-GEM</tspan></text>
<text x="158.7" y="257.8" font-size="9.5" text-anchor="middle" stroke="#000">GEM 100 mg/kg, Q3Dx5, i.p.</text>
<rect x="58" y="147" width="201" height="99.2" fill="#2d6f3f"/>
<g clip-path="url(#photoclip)">
<line x1="64.6" y1="147" x2="64.6" y2="246.2" stroke="#a3b9a8" stroke-width="1"/>
<line x1="75.72" y1="147" x2="75.72" y2="246.2" stroke="#a3b9a8" stroke-width="1"/>
<line x1="86.84" y1="147" x2="86.84" y2="246.2" stroke="#a3b9a8" stroke-width="1"/>
<line x1="97.96" y1="147" x2="97.96" y2="246.2" stroke="#a3b9a8" stroke-width="1"/>
<line x1="109.08" y1="147" x2="109.08" y2="246.2" stroke="#a3b9a8" stroke-width="1"/>
<line x1="120.2" y1="147" x2="120.2" y2="246.2" stroke="#a3b9a8" stroke-width="1"/>
<line x1="131.32" y1="147" x2="131.32" y2="246.2" stroke="#a3b9a8" stroke-width="1"/>
<line x1="142.44" y1="147" x2="142.44" y2="246.2" stroke="#a3b9a8" stroke-width="1"/>
<line x1="153.56" y1="147" x2="153.56" y2="246.2" stroke="#a3b9a8" stroke-width="1"/>
<line x1="164.68" y1="147" x2="164.68" y2="246.2" stroke="#a3b9a8" stroke-width="1"/>
<line x1="175.8" y1="147" x2="175.8" y2="246.2" stroke="#a3b9a8" stroke-width="1"/>
<line x1="186.92" y1="147" x2="186.92" y2="246.2" stroke="#a3b9a8" stroke-width="1"/>
<line x1="198.04" y1="147" x2="198.04" y2="246.2" stroke="#a3b9a8" stroke-width="1"/>
<line x1="209.16" y1="147" x2="209.16" y2="246.2" stroke="#a3b9a8" stroke-width="1"/>
<line x1="220.28" y1="147" x2="220.28" y2="246.2" stroke="#a3b9a8" stroke-width="1"/>
<line x1="231.4" y1="147" x2="231.4" y2="246.2" stroke="#a3b9a8" stroke-width="1"/>
<line x1="242.52" y1="147" x2="242.52" y2="246.2" stroke="#a3b9a8" stroke-width="1"/>
<line x1="253.64" y1="147" x2="253.64" y2="246.2" stroke="#a3b9a8" stroke-width="1"/>
<line x1="58" y1="157.9" x2="259" y2="157.9" stroke="#a3b9a8" stroke-width="1"/>
<line x1="58" y1="169.05" x2="259" y2="169.05" stroke="#a3b9a8" stroke-width="1"/>
<line x1="58" y1="180.2" x2="259" y2="180.2" stroke="#a3b9a8" stroke-width="1"/>
<line x1="58" y1="191.35" x2="259" y2="191.35" stroke="#a3b9a8" stroke-width="1"/>
<line x1="58" y1="202.5" x2="259" y2="202.5" stroke="#a3b9a8" stroke-width="1"/>
<line x1="58" y1="213.65" x2="259" y2="213.65" stroke="#a3b9a8" stroke-width="1"/>
<line x1="58" y1="224.8" x2="259" y2="224.8" stroke="#a3b9a8" stroke-width="1"/>
<line x1="58" y1="235.95" x2="259" y2="235.95" stroke="#a3b9a8" stroke-width="1"/>
<text x="70.1" y="153.8" font-size="3.2" fill="#c8d8c8" text-anchor="middle">7</text>
<text x="81.22" y="153.8" font-size="3.2" fill="#c8d8c8" text-anchor="middle">8</text>
<text x="92.34" y="153.8" font-size="3.2" fill="#c8d8c8" text-anchor="middle">9</text>
<text x="103.46" y="153.8" font-size="3.2" fill="#c8d8c8" text-anchor="middle">10</text>
<text x="114.58" y="153.8" font-size="3.2" fill="#c8d8c8" text-anchor="middle">11</text>
<text x="125.7" y="153.8" font-size="3.2" fill="#c8d8c8" text-anchor="middle">12</text>
<text x="136.82" y="153.8" font-size="3.2" fill="#c8d8c8" text-anchor="middle">13</text>
<text x="147.94" y="153.8" font-size="3.2" fill="#c8d8c8" text-anchor="middle">14</text>
<text x="159.06" y="153.8" font-size="3.2" fill="#c8d8c8" text-anchor="middle">15</text>
<text x="170.18" y="153.8" font-size="3.2" fill="#c8d8c8" text-anchor="middle">16</text>
<text x="181.3" y="153.8" font-size="3.2" fill="#c8d8c8" text-anchor="middle">17</text>
<text x="192.42" y="153.8" font-size="3.2" fill="#c8d8c8" text-anchor="middle">18</text>
<text x="203.54" y="153.8" font-size="3.2" fill="#c8d8c8" text-anchor="middle">19</text>
<text x="214.66" y="153.8" font-size="3.2" fill="#c8d8c8" text-anchor="middle">20</text>
<text x="225.78" y="153.8" font-size="3.2" fill="#c8d8c8" text-anchor="middle">21</text>
<text x="236.9" y="153.8" font-size="3.2" fill="#c8d8c8" text-anchor="middle">22</text>
<text x="248.02" y="153.8" font-size="3.2" fill="#c8d8c8" text-anchor="middle">23</text>
<ellipse cx="75.9" cy="168.9" rx="12.5" ry="11" fill="#0d2614" opacity="0.75" filter="url(#bl1)"/>
<path d="M85.94,166.7 85.23,171.5 81.55,175.14 76.72,177.58 71.07,177.61 66.58,174.78 63.41,171.15 60.81,166.7 63.02,162.09 66.4,158.42 70.93,155.23 76.67,156.02 82.06,157.69 85.12,161.94Z" fill="url(#tum)" stroke="#d46878" stroke-width="0.4" stroke-linejoin="round" filter="url(#bl05)"/>
<ellipse cx="75.85" cy="162.86" rx="3.27" ry="2.88" fill="#d23c5a" opacity="0.53" filter="url(#bl1)"/>
<ellipse cx="77.28" cy="168.59" rx="2.13" ry="2.71" fill="#d23c5a" opacity="0.56" filter="url(#bl1)"/>
<ellipse cx="71.12" cy="161.54" rx="3.73" ry="2.27" fill="#d23c5a" opacity="0.6" filter="url(#bl1)"/>
<ellipse cx="78.64" cy="168.27" rx="1.75" ry="1.1" fill="#fff" opacity="0.45" filter="url(#bl05)"/>
<ellipse cx="79.16" cy="165.11" rx="1.75" ry="1.1" fill="#fff" opacity="0.45" filter="url(#bl05)"/>
<ellipse cx="110.92" cy="170.9" rx="12" ry="11" fill="#0d2614" opacity="0.75" filter="url(#bl1)"/>
<path d="M121.51,168.7 119.73,173.44 116.94,177.82 111.81,179.99 106.48,178.82 101.9,176.86 98.62,173.28 96.22,168.7 98.29,163.97 101.39,159.95 106.4,158.27 111.67,157.96 116.36,160.24 119.59,164.03Z" fill="url(#tum)" stroke="#d46878" stroke-width="0.4" stroke-linejoin="round" filter="url(#bl05)"/>
<ellipse cx="110.14" cy="169.63" rx="3.66" ry="2.59" fill="#d23c5a" opacity="0.68" filter="url(#bl1)"/>
<ellipse cx="113.79" cy="174.1" rx="3.21" ry="1.79" fill="#d23c5a" opacity="0.65" filter="url(#bl1)"/>
<ellipse cx="115.24" cy="173.15" rx="3.01" ry="2.64" fill="#d23c5a" opacity="0.42" filter="url(#bl1)"/>
<ellipse cx="112.98" cy="168.88" rx="1.68" ry="1.1" fill="#fff" opacity="0.45" filter="url(#bl05)"/>
<ellipse cx="106.42" cy="163.83" rx="1.68" ry="1.1" fill="#fff" opacity="0.45" filter="url(#bl05)"/>
<ellipse cx="144.76" cy="171.1" rx="11" ry="12" fill="#0d2614" opacity="0.75" filter="url(#bl1)"/>
<path d="M154.55,168.7 153.59,174.26 149.46,177.54 145.55,180.89 140.58,180.25 136.48,177.62 133.38,173.76 131.59,168.7 132.57,163.22 136.58,159.92 140.51,156.81 145.29,157.75 150.07,159.03 152.68,163.62Z" fill="url(#tum)" stroke="#d46878" stroke-width="0.4" stroke-linejoin="round" filter="url(#bl05)"/>
<ellipse cx="147.69" cy="174.47" rx="2.65" ry="3.36" fill="#d23c5a" opacity="0.46" filter="url(#bl1)"/>
<ellipse cx="137.79" cy="169.9" rx="1.82" ry="2.01" fill="#d23c5a" opacity="0.49" filter="url(#bl1)"/>
<ellipse cx="144.36" cy="164.57" rx="1.83" ry="3.14" fill="#d23c5a" opacity="0.46" filter="url(#bl1)"/>
<ellipse cx="148.05" cy="172.38" rx="1.54" ry="1.2" fill="#fff" opacity="0.45" filter="url(#bl05)"/>
<ellipse cx="141.66" cy="167.67" rx="1.54" ry="1.2" fill="#fff" opacity="0.45" filter="url(#bl05)"/>
<ellipse cx="178.08" cy="171.1" rx="10.5" ry="12" fill="#0d2614" opacity="0.75" filter="url(#bl1)"/>
<path d="M186.93,168.7 186.05,174.01 183.03,178.21 178.76,180.5 174.02,180.6 169.45,178.66 166.93,173.91 166,168.7 166.65,163.33 170.09,159.66 174.13,157.33 178.89,156.22 182.97,159.29 185.92,163.46Z" fill="url(#tum)" stroke="#d46878" stroke-width="0.4" stroke-linejoin="round" filter="url(#bl05)"/>
<ellipse cx="170.65" cy="167.68" rx="2.65" ry="1.71" fill="#d23c5a" opacity="0.57" filter="url(#bl1)"/>
<ellipse cx="177.95" cy="163.42" rx="2.73" ry="2.46" fill="#d23c5a" opacity="0.59" filter="url(#bl1)"/>
<ellipse cx="174.67" cy="171.18" rx="2.92" ry="1.72" fill="#d23c5a" opacity="0.37" filter="url(#bl1)"/>
<ellipse cx="178.25" cy="173.1" rx="1.47" ry="1.2" fill="#fff" opacity="0.45" filter="url(#bl05)"/>
<ellipse cx="173.79" cy="167.63" rx="1.47" ry="1.2" fill="#fff" opacity="0.45" filter="url(#bl05)"/>
<ellipse cx="213.26" cy="169.5" rx="11" ry="9" fill="#0d2614" opacity="0.75" filter="url(#bl1)"/>
<path d="M222.64,167.7 221.16,171.51 218.23,174.6 213.88,176.24 209.1,176.31 204.55,174.83 201.87,171.5 200.69,167.7 201.21,163.65 205.1,161.13 209.03,158.84 214.03,158.64 218.18,160.85 221.03,163.95Z" fill="url(#tum)" stroke="#d46878" stroke-width="0.4" stroke-linejoin="round" filter="url(#bl05)"/>
<ellipse cx="215.24" cy="165.35" rx="2.09" ry="1.81" fill="#d23c5a" opacity="0.59" filter="url(#bl1)"/>
<ellipse cx="206.59" cy="166.1" rx="2.35" ry="2.31" fill="#d23c5a" opacity="0.5" filter="url(#bl1)"/>
<ellipse cx="215.88" cy="164.72" rx="2.35" ry="2.08" fill="#d23c5a" opacity="0.66" filter="url(#bl1)"/>
<ellipse cx="210.96" cy="165.02" rx="1.54" ry="0.9" fill="#fff" opacity="0.45" filter="url(#bl05)"/>
<ellipse cx="207.33" cy="167.49" rx="1.54" ry="0.9" fill="#fff" opacity="0.45" filter="url(#bl05)"/>
<ellipse cx="246.78" cy="171.3" rx="8" ry="10.5" fill="#0d2614" opacity="0.75" filter="url(#bl1)"/>
<path d="M253.15,169.2 253.02,173.95 250.72,177.8 247.2,178.98 243.78,179.12 240.3,177.76 238.15,173.85 237.16,169.2 238.45,164.74 240.77,161.42 243.77,159.26 247.35,158.54 250.33,161.25 252.55,164.74Z" fill="url(#tum)" stroke="#d46878" stroke-width="0.4" stroke-linejoin="round" filter="url(#bl05)"/>
<ellipse cx="244.76" cy="168.36" rx="1.8" ry="2.82" fill="#d23c5a" opacity="0.4" filter="url(#bl1)"/>
<ellipse cx="241.06" cy="173.85" rx="2.41" ry="2.92" fill="#d23c5a" opacity="0.5" filter="url(#bl1)"/>
<ellipse cx="249.53" cy="173.69" rx="1.56" ry="2.57" fill="#d23c5a" opacity="0.64" filter="url(#bl1)"/>
<ellipse cx="246.8" cy="168.85" rx="1.12" ry="1.05" fill="#fff" opacity="0.45" filter="url(#bl05)"/>
<ellipse cx="243.81" cy="167.17" rx="1.12" ry="1.05" fill="#fff" opacity="0.45" filter="url(#bl05)"/>
<ellipse cx="75.2" cy="192.25" rx="5" ry="3.75" fill="#0d2614" opacity="0.75" filter="url(#bl1)"/>
<path d="M79.21,191.5 78.63,193.03 77.56,194.47 75.48,195.05 73.24,195.31 71.48,194.25 69.64,193.22 69.26,191.5 69.63,189.78 71.11,188.41 73.23,187.64 75.52,187.8 77.3,188.77 79.06,189.82Z" fill="url(#tum)" stroke="#d46878" stroke-width="0.4" stroke-linejoin="round" filter="url(#bl05)"/>
<ellipse cx="72.56" cy="190.75" rx="1.33" ry="0.8" fill="#d23c5a" opacity="0.49" filter="url(#bl1)"/>
<ellipse cx="76.6" cy="191.69" rx="0.7" ry="0.38" fill="#fff" opacity="0.45" filter="url(#bl05)"/>
<ellipse cx="73.61" cy="190.48" rx="0.7" ry="0.38" fill="#fff" opacity="0.45" filter="url(#bl05)"/>
<ellipse cx="107.06" cy="192.3" rx="3.5" ry="3.5" fill="#0d2614" opacity="0.75" filter="url(#bl1)"/>
<path d="M110.18,191.6 109.64,193.11 108.77,194.44 107.26,194.94 105.75,194.87 104.31,194.35 103.21,193.19 103.16,191.6 103.22,190.02 104.19,188.7 105.69,188.04 107.31,188.03 108.53,189.05 109.71,190.05Z" fill="url(#tum)" stroke="#d46878" stroke-width="0.4" stroke-linejoin="round" filter="url(#bl05)"/>
<ellipse cx="142.84" cy="193.3" rx="4" ry="3.5" fill="#0d2614" opacity="0.75" filter="url(#bl1)"/>
<path d="M146.4,192.6 145.58,194.02 144.61,195.25 143.06,195.9 141.31,196.03 139.73,195.31 138.61,194.11 138.05,192.6 138.85,191.19 139.86,190.03 141.36,189.37 143.04,189.37 144.54,190.03 146.04,190.98Z" fill="url(#tum)" stroke="#d46878" stroke-width="0.4" stroke-linejoin="round" filter="url(#bl05)"/>
<ellipse cx="175.96" cy="194.1" rx="3.5" ry="3.5" fill="#0d2614" opacity="0.75" filter="url(#bl1)"/>
<path d="M179.07,193.4 178.37,194.83 177.58,196.14 176.16,196.72 174.64,196.72 173.26,196.08 172.18,194.95 171.86,193.4 172.31,191.91 173.31,190.78 174.64,190.07 176.14,190.17 177.6,190.64 178.65,191.84Z" fill="url(#tum)" stroke="#d46878" stroke-width="0.4" stroke-linejoin="round" filter="url(#bl05)"/>
<ellipse cx="208.98" cy="193.7" rx="3" ry="3" fill="#0d2614" opacity="0.75" filter="url(#bl1)"/>
<path d="M211.45,193.1 211.04,194.33 210.29,195.34 209.16,195.97 207.82,196.07 206.56,195.54 205.84,194.38 205.37,193.1 205.75,191.78 206.65,190.78 207.84,190.23 209.17,190.18 210.42,190.69 211.17,191.81Z" fill="url(#tum)" stroke="#d46878" stroke-width="0.4" stroke-linejoin="round" filter="url(#bl05)"/>
<ellipse cx="243.26" cy="193.37" rx="2.25" ry="1.85" fill="#0d2614" opacity="0.75" filter="url(#bl1)"/>
<path d="M245.21,193 244.92,193.8 244.25,194.39 243.4,194.81 242.39,194.85 241.58,194.36 240.89,193.79 240.67,193 240.77,192.15 241.41,191.47 242.41,191.23 243.43,191.1 244.36,191.49 244.86,192.22Z" fill="url(#tum)" stroke="#d46878" stroke-width="0.4" stroke-linejoin="round" filter="url(#bl05)"/>
<ellipse cx="76.32" cy="216.3" rx="12" ry="11.5" fill="#0d2614" opacity="0.75" filter="url(#bl1)"/>
<path d="M86.34,214 84.64,218.73 82.21,223.39 77.13,225.47 71.58,225.82 66.61,223.36 63.33,219.11 62.01,214 63.49,208.97 67.33,205.51 71.7,202.65 76.89,203.57 81.51,205.46 85.63,208.82Z" fill="url(#tum)" stroke="#d46878" stroke-width="0.4" stroke-linejoin="round" filter="url(#bl05)"/>
<ellipse cx="68.28" cy="209.31" rx="2.11" ry="3.03" fill="#d23c5a" opacity="0.41" filter="url(#bl1)"/>
<ellipse cx="68" cy="217.93" rx="2.15" ry="2.97" fill="#d23c5a" opacity="0.59" filter="url(#bl1)"/>
<ellipse cx="78.92" cy="219.2" rx="3.03" ry="2.9" fill="#d23c5a" opacity="0.36" filter="url(#bl1)"/>
<ellipse cx="77.61" cy="213.54" rx="1.68" ry="1.15" fill="#fff" opacity="0.45" filter="url(#bl05)"/>
<ellipse cx="76.98" cy="209.35" rx="1.68" ry="1.15" fill="#fff" opacity="0.45" filter="url(#bl05)"/>
<ellipse cx="110.48" cy="216.3" rx="10.5" ry="9" fill="#0d2614" opacity="0.75" filter="url(#bl1)"/>
<path d="M119.67,214.5 118.84,218.64 114.94,221.1 111.08,223.06 106.44,223.35 101.95,221.86 99.68,218.26 98.77,214.5 99.67,210.73 102.15,207.35 106.38,205.41 111.1,205.86 115.23,207.59 118.12,210.65Z" fill="url(#tum)" stroke="#d46878" stroke-width="0.4" stroke-linejoin="round" filter="url(#bl05)"/>
<ellipse cx="107.04" cy="213.76" rx="1.82" ry="1.89" fill="#d23c5a" opacity="0.69" filter="url(#bl1)"/>
<ellipse cx="107.77" cy="216.73" rx="1.95" ry="2.13" fill="#d23c5a" opacity="0.61" filter="url(#bl1)"/>
<ellipse cx="110.84" cy="214.65" rx="2.49" ry="2.07" fill="#d23c5a" opacity="0.66" filter="url(#bl1)"/>
<ellipse cx="105.12" cy="210.78" rx="1.47" ry="0.9" fill="#fff" opacity="0.45" filter="url(#bl05)"/>
<ellipse cx="111.41" cy="217.42" rx="1.47" ry="0.9" fill="#fff" opacity="0.45" filter="url(#bl05)"/>
<ellipse cx="144.74" cy="215.7" rx="9" ry="9" fill="#0d2614" opacity="0.75" filter="url(#bl1)"/>
<path d="M152.32,213.9 151.34,217.77 149.08,221.15 145.21,222.29 141.36,222.39 137.92,220.64 135.09,217.85 134.53,213.9 135.5,210.14 137.54,206.68 141.17,204.57 145.25,205.38 149.07,206.66 151.31,210.04Z" fill="url(#tum)" stroke="#d46878" stroke-width="0.4" stroke-linejoin="round" filter="url(#bl05)"/>
<ellipse cx="146.86" cy="214.66" rx="1.82" ry="1.53" fill="#d23c5a" opacity="0.36" filter="url(#bl1)"/>
<ellipse cx="143.09" cy="212.84" rx="1.69" ry="1.71" fill="#d23c5a" opacity="0.46" filter="url(#bl1)"/>
<ellipse cx="146.06" cy="210.69" rx="2.87" ry="1.86" fill="#d23c5a" opacity="0.56" filter="url(#bl1)"/>
<ellipse cx="143.01" cy="216.16" rx="1.26" ry="0.9" fill="#fff" opacity="0.45" filter="url(#bl05)"/>
<ellipse cx="146.19" cy="213.91" rx="1.26" ry="0.9" fill="#fff" opacity="0.45" filter="url(#bl05)"/>
<ellipse cx="178.3" cy="216.5" rx="7.5" ry="7.5" fill="#0d2614" opacity="0.75" filter="url(#bl1)"/>
<path d="M184.58,215 184.07,218.35 182.01,221.16 178.75,222.21 175.38,222.55 172.12,221.24 170.37,218.24 169.88,215 170.59,211.87 172.28,208.96 175.39,207.51 178.88,207.22 182.01,208.85 183.61,211.86Z" fill="url(#tum)" stroke="#d46878" stroke-width="0.4" stroke-linejoin="round" filter="url(#bl05)"/>
<ellipse cx="174.49" cy="213.19" rx="1.42" ry="1.79" fill="#d23c5a" opacity="0.65" filter="url(#bl1)"/>
<ellipse cx="180.1" cy="212.97" rx="1.05" ry="0.75" fill="#fff" opacity="0.45" filter="url(#bl05)"/>
<ellipse cx="179.84" cy="213.37" rx="1.05" ry="0.75" fill="#fff" opacity="0.45" filter="url(#bl05)"/>
<ellipse cx="212.48" cy="216.2" rx="8" ry="7" fill="#0d2614" opacity="0.75" filter="url(#bl1)"/>
<path d="M219.11,214.8 218.64,217.93 215.9,219.96 212.88,221.24 209.34,221.94 206.36,220.11 204.14,217.78 203.11,214.8 203.82,211.69 206.56,209.71 209.46,208.13 212.96,208.04 216.18,209.34 218.12,211.89Z" fill="url(#tum)" stroke="#d46878" stroke-width="0.4" stroke-linejoin="round" filter="url(#bl05)"/>
<ellipse cx="211.96" cy="217.99" rx="1.78" ry="1.51" fill="#d23c5a" opacity="0.39" filter="url(#bl1)"/>
<ellipse cx="209.18" cy="215.96" rx="1.42" ry="1.85" fill="#d23c5a" opacity="0.67" filter="url(#bl1)"/>
<ellipse cx="207.59" cy="217.89" rx="1.76" ry="1.74" fill="#d23c5a" opacity="0.62" filter="url(#bl1)"/>
<ellipse cx="209.56" cy="215.56" rx="1.12" ry="0.7" fill="#fff" opacity="0.45" filter="url(#bl05)"/>
<ellipse cx="212.43" cy="216.38" rx="1.12" ry="0.7" fill="#fff" opacity="0.45" filter="url(#bl05)"/>
<ellipse cx="246.38" cy="216" rx="8" ry="7" fill="#0d2614" opacity="0.75" filter="url(#bl1)"/>
<path d="M252.84,214.6 252.56,217.75 250.41,220.43 246.92,221.59 243.31,221.46 240.38,219.78 237.9,217.63 237.27,214.6 237.67,211.47 239.99,208.99 243.3,207.71 246.8,208.08 250.19,209.02 252.44,211.51Z" fill="url(#tum)" stroke="#d46878" stroke-width="0.4" stroke-linejoin="round" filter="url(#bl05)"/>
<ellipse cx="242.22" cy="217.33" rx="2.12" ry="1.1" fill="#d23c5a" opacity="0.68" filter="url(#bl1)"/>
<ellipse cx="241.89" cy="213.42" rx="2.2" ry="1.57" fill="#d23c5a" opacity="0.54" filter="url(#bl1)"/>
<ellipse cx="246.42" cy="214.3" rx="1.68" ry="1.15" fill="#d23c5a" opacity="0.37" filter="url(#bl1)"/>
<ellipse cx="246.83" cy="215.85" rx="1.12" ry="0.7" fill="#fff" opacity="0.45" filter="url(#bl05)"/>
<ellipse cx="245.45" cy="215.76" rx="1.12" ry="0.7" fill="#fff" opacity="0.45" filter="url(#bl05)"/>
<ellipse cx="76.52" cy="237.7" rx="7" ry="6.5" fill="#0d2614" opacity="0.75" filter="url(#bl1)"/>
<path d="M82.26,236.4 81.5,239.13 79.69,241.4 77.04,243.07 73.94,242.33 71.03,241.49 69.32,239.12 68.14,236.4 69.22,233.64 71.14,231.44 73.86,230.15 76.97,230.03 79.93,231.12 81.58,233.64Z" fill="url(#tum)" stroke="#d46878" stroke-width="0.4" stroke-linejoin="round" filter="url(#bl05)"/>
<ellipse cx="78.12" cy="233.88" rx="1.42" ry="1" fill="#d23c5a" opacity="0.39" filter="url(#bl1)"/>
<ellipse cx="77.35" cy="237.4" rx="0.98" ry="0.65" fill="#fff" opacity="0.45" filter="url(#bl05)"/>
<ellipse cx="73.19" cy="234.26" rx="0.98" ry="0.65" fill="#fff" opacity="0.45" filter="url(#bl05)"/>
<ellipse cx="110.8" cy="239.2" rx="5" ry="6" fill="#0d2614" opacity="0.75" filter="url(#bl1)"/>
<path d="M114.94,238 114.66,240.69 113.26,242.9 111.15,244.05 108.87,243.92 107.04,242.46 105.56,240.57 105.21,238 105.48,235.39 106.85,233.26 108.93,232.39 111.07,232.36 113.24,233.12 114.21,235.57Z" fill="url(#tum)" stroke="#d46878" stroke-width="0.4" stroke-linejoin="round" filter="url(#bl05)"/>
<ellipse cx="111.7" cy="240.35" rx="1.56" ry="1.16" fill="#d23c5a" opacity="0.54" filter="url(#bl1)"/>
<ellipse cx="110.42" cy="238.42" rx="0.7" ry="0.6" fill="#fff" opacity="0.45" filter="url(#bl05)"/>
<ellipse cx="112.38" cy="238.71" rx="0.7" ry="0.6" fill="#fff" opacity="0.45" filter="url(#bl05)"/>
<ellipse cx="142.96" cy="238.6" rx="6" ry="5.5" fill="#0d2614" opacity="0.75" filter="url(#bl1)"/>
<path d="M147.83,237.5 147.68,240.01 145.73,241.79 143.35,242.94 140.62,243.03 138.52,241.5 136.39,239.98 135.86,237.5 136.6,235.12 138.25,233.19 140.67,232.17 143.28,232.37 145.76,233.18 147.06,235.27Z" fill="url(#tum)" stroke="#d46878" stroke-width="0.4" stroke-linejoin="round" filter="url(#bl05)"/>
<ellipse cx="142" cy="238.3" rx="1.39" ry="1.21" fill="#d23c5a" opacity="0.69" filter="url(#bl1)"/>
<ellipse cx="144.35" cy="235.42" rx="0.84" ry="0.55" fill="#fff" opacity="0.45" filter="url(#bl05)"/>
<ellipse cx="143.75" cy="237.84" rx="0.84" ry="0.55" fill="#fff" opacity="0.45" filter="url(#bl05)"/>
<ellipse cx="177.58" cy="238.6" rx="5.5" ry="5.5" fill="#0d2614" opacity="0.75" filter="url(#bl1)"/>
<path d="M181.85,237.5 181.56,239.84 180,241.64 177.85,242.55 175.47,242.89 173.06,242.06 171.87,239.83 170.91,237.5 171.61,235.05 173.45,233.42 175.41,231.87 177.94,232.06 180.33,232.94 181.81,235.04Z" fill="url(#tum)" stroke="#d46878" stroke-width="0.4" stroke-linejoin="round" filter="url(#bl05)"/>
<ellipse cx="178.18" cy="236.64" rx="1.59" ry="1.49" fill="#d23c5a" opacity="0.65" filter="url(#bl1)"/>
<ellipse cx="176.35" cy="238.5" rx="0.77" ry="0.55" fill="#fff" opacity="0.45" filter="url(#bl05)"/>
<ellipse cx="176.62" cy="235.29" rx="0.77" ry="0.55" fill="#fff" opacity="0.45" filter="url(#bl05)"/>
<ellipse cx="209.28" cy="239.6" rx="5.5" ry="5.5" fill="#0d2614" opacity="0.75" filter="url(#bl1)"/>
<path d="M213.55,238.5 213.06,240.75 211.69,242.62 209.57,243.61 207.18,243.86 204.88,242.92 203.42,240.9 202.96,238.5 203.34,236.06 205.06,234.32 207.18,233.16 209.67,232.94 211.78,234.26 213.13,236.22Z" fill="url(#tum)" stroke="#d46878" stroke-width="0.4" stroke-linejoin="round" filter="url(#bl05)"/>
<ellipse cx="210.86" cy="239.71" rx="1.2" ry="1.06" fill="#d23c5a" opacity="0.54" filter="url(#bl1)"/>
<ellipse cx="208.93" cy="236.86" rx="0.77" ry="0.55" fill="#fff" opacity="0.45" filter="url(#bl05)"/>
<ellipse cx="205.66" cy="236.78" rx="0.77" ry="0.55" fill="#fff" opacity="0.45" filter="url(#bl05)"/>
<ellipse cx="243.14" cy="238.8" rx="4" ry="4" fill="#0d2614" opacity="0.75" filter="url(#bl1)"/>
<path d="M246.66,238 245.92,239.65 244.98,241.11 243.35,241.73 241.65,241.74 240.12,240.98 238.94,239.71 238.69,238 239.13,236.38 240.14,235.04 241.65,234.28 243.39,234.11 244.84,235.07 245.86,236.38Z" fill="url(#tum)" stroke="#d46878" stroke-width="0.4" stroke-linejoin="round" filter="url(#bl05)"/>
<ellipse cx="107.5" cy="164.5" rx="5.5" ry="4" fill="#c8304e" opacity="0.75" filter="url(#bl1)"/>
<ellipse cx="101.5" cy="172" rx="3.5" ry="3" fill="#c8304e" opacity="0.6" filter="url(#bl1)"/>
<ellipse cx="114.5" cy="170.5" rx="3" ry="3.5" fill="#c8304e" opacity="0.5" filter="url(#bl1)"/>
<ellipse cx="146.5" cy="163" rx="4" ry="3" fill="#c8304e" opacity="0.55" filter="url(#bl1)"/>
<ellipse cx="150" cy="172" rx="2.5" ry="3" fill="#c8304e" opacity="0.5" filter="url(#bl1)"/>
<ellipse cx="147" cy="214.5" rx="4.5" ry="4.5" fill="#c8304e" opacity="0.8" filter="url(#bl1)"/>
<ellipse cx="80.5" cy="219" rx="3.5" ry="3" fill="#c8304e" opacity="0.55" filter="url(#bl1)"/>
<ellipse cx="240.5" cy="209.5" rx="3.5" ry="2.5" fill="#c8304e" opacity="0.6" filter="url(#bl1)"/>
<ellipse cx="216" cy="170" rx="3" ry="2.5" fill="#c8304e" opacity="0.45" filter="url(#bl1)"/>
<ellipse cx="248" cy="174" rx="3" ry="3" fill="#c8304e" opacity="0.45" filter="url(#bl1)"/>
<ellipse cx="181" cy="162" rx="3" ry="2.5" fill="#c8304e" opacity="0.35" filter="url(#bl1)"/>
</g>
<line x1="335.5" y1="162.9" x2="335.5" y2="231.6" stroke="#000" stroke-width="0.8"/>
<line x1="335.5" y1="231.6" x2="470" y2="231.6" stroke="#000" stroke-width="0.8"/>
<line x1="332.5" y1="231.6" x2="335.5" y2="231.6" stroke="#000" stroke-width="0.8"/>
<text x="330.9" y="235.04" font-size="9.6" text-anchor="end" stroke="#000">0</text>
<line x1="332.5" y1="214.42" x2="335.5" y2="214.42" stroke="#000" stroke-width="0.8"/>
<text x="330.9" y="217.86" font-size="9.6" text-anchor="end" stroke="#000">500</text>
<line x1="332.5" y1="197.25" x2="335.5" y2="197.25" stroke="#000" stroke-width="0.8"/>
<text x="330.9" y="200.69" font-size="9.6" text-anchor="end" stroke="#000">1000</text>
<line x1="332.5" y1="180.07" x2="335.5" y2="180.07" stroke="#000" stroke-width="0.8"/>
<text x="330.9" y="183.51" font-size="9.6" text-anchor="end" stroke="#000">1500</text>
<line x1="332.5" y1="162.9" x2="335.5" y2="162.9" stroke="#000" stroke-width="0.8"/>
<text x="330.9" y="166.34" font-size="9.6" text-anchor="end" stroke="#000">2000</text>
<line x1="338.7" y1="231.6" x2="338.7" y2="234.6" stroke="#000" stroke-width="0.8"/>
<text x="338.7" y="245.84" font-size="9.6" text-anchor="middle" stroke="#000">1</text>
<line x1="358.11" y1="231.6" x2="358.11" y2="234.6" stroke="#000" stroke-width="0.8"/>
<text x="358.11" y="245.84" font-size="9.6" text-anchor="middle" stroke="#000">4</text>
<line x1="377.52" y1="231.6" x2="377.52" y2="234.6" stroke="#000" stroke-width="0.8"/>
<text x="377.52" y="245.84" font-size="9.6" text-anchor="middle" stroke="#000">7</text>
<line x1="396.93" y1="231.6" x2="396.93" y2="234.6" stroke="#000" stroke-width="0.8"/>
<text x="396.93" y="245.84" font-size="9.6" text-anchor="middle" stroke="#000">10</text>
<line x1="422.81" y1="231.6" x2="422.81" y2="234.6" stroke="#000" stroke-width="0.8"/>
<text x="422.81" y="245.84" font-size="9.6" text-anchor="middle" stroke="#000">14</text>
<line x1="448.69" y1="231.6" x2="448.69" y2="234.6" stroke="#000" stroke-width="0.8"/>
<text x="448.69" y="245.84" font-size="9.6" text-anchor="middle" stroke="#000">18</text>
<line x1="468.1" y1="231.6" x2="468.1" y2="234.6" stroke="#000" stroke-width="0.8"/>
<text x="468.1" y="245.84" font-size="9.6" text-anchor="middle" stroke="#000">21</text>
<text x="403.6" y="254.27" font-size="9.4" text-anchor="middle" stroke="#000">Days post treatment</text>
<text x="300.9" y="196.87" font-size="9.4" text-anchor="middle" stroke="#000" transform="rotate(-90 300.9 193.5)">Tumor Volume (mm3)</text>
<line x1="337.4" y1="143.6" x2="349.6" y2="143.6" stroke="#931a1a" stroke-width="1"/>
<text x="356.8" y="147.04" font-size="9.6" stroke="#000">A3C<tspan font-size="6.5" dy="-3.98">NC</tspan><tspan dy="3.98">-NS</tspan></text>
<line x1="337.4" y1="155.7" x2="349.6" y2="155.7" stroke="#4b9631" stroke-width="1"/>
<text x="356.8" y="159.14" font-size="9.6" stroke="#000">A3C<tspan font-size="6.5" dy="-3.98">NC</tspan><tspan dy="3.98">-GEM</tspan></text>
<line x1="337.4" y1="167.8" x2="349.6" y2="167.8" stroke="#2d59a6" stroke-width="1"/>
<text x="356.8" y="171.24" font-size="9.6" stroke="#000">A3C<tspan font-size="6.5" dy="-3.98">OE</tspan><tspan dy="3.98">-NS</tspan></text>
<line x1="337.4" y1="179.9" x2="349.6" y2="179.9" stroke="#4c1f9c" stroke-width="1"/>
<text x="356.8" y="183.34" font-size="9.6" stroke="#000">A3C<tspan font-size="6.5" dy="-3.98">OE</tspan><tspan dy="3.98">-GEM</tspan></text>
<line x1="412.3" y1="144.4" x2="417" y2="144.4" stroke="#000" stroke-width="0.85"/>
<line x1="412.3" y1="156.1" x2="417" y2="156.1" stroke="#000" stroke-width="0.85"/>
<line x1="416.6" y1="144.4" x2="416.6" y2="156.1" stroke="#000" stroke-width="0.85"/>
<text x="426" y="157.87" font-size="16.8" font-weight="bold" text-anchor="middle">**</text>
<polyline points="338.7,228.16 345.17,227.48 351.64,223.01 358.11,210.99 364.58,216.14 371.05,210.99 377.52,209.62 383.99,210.99 390.46,216.14 396.93,218.55 403.4,219.92 409.87,221.29 416.34,221.98 422.81,222.67 429.28,223.36 435.75,223.7 442.22,224.04 448.69,224.73 455.16,225.07 461.63,225.76 468.1,226.1" fill="none" stroke="#4b9631" stroke-width="0.75"/>
<polyline points="338.7,226.45 345.17,224.73 351.64,221.29 358.11,219.58 364.58,213.74 371.05,205.84 377.52,207.56 383.99,209.62 390.46,210.99 396.93,214.42 403.4,217.17 409.87,219.58 416.34,220.61 422.81,222.67 429.28,224.04 435.75,224.73 442.22,225.42 448.69,225.76 455.16,226.45 461.63,227.13 468.1,227.48" fill="none" stroke="#4b9631" stroke-width="0.75"/>
<polyline points="338.7,221.98 345.17,221.29 351.64,218.55 358.11,223.01 364.58,221.29 371.05,217.86 377.52,216.14 383.99,217.17 390.46,218.55 396.93,221.29 403.4,222.67 409.87,223.7 416.34,224.73 422.81,225.42 429.28,226.1 435.75,226.45 442.22,226.79 448.69,227.13 455.16,227.48 461.63,227.82 468.1,228.16" fill="none" stroke="#4b9631" stroke-width="0.75"/>
<polyline points="338.7,223.01 345.17,220.26 351.64,219.23 358.11,221.29 364.58,222.67 371.05,223.36 377.52,223.01 383.99,221.98 390.46,221.29 396.93,222.67 403.4,224.73 409.87,225.42 416.34,225.76 422.81,226.45 429.28,226.79 435.75,227.48 442.22,227.82 448.69,228.16 455.16,228.51 461.63,228.85 468.1,228.85" fill="none" stroke="#4b9631" stroke-width="0.75"/>
<polyline points="338.7,227.48 345.17,226.45 351.64,225.42 358.11,224.73 364.58,224.04 371.05,223.01 377.52,223.36 383.99,223.7 390.46,224.04 396.93,226.45 403.4,227.48 409.87,228.16 416.34,228.51 422.81,228.51 429.28,228.85 435.75,228.85 442.22,229.2 448.69,229.54 455.16,229.54 461.63,229.54 468.1,229.54" fill="none" stroke="#4b9631" stroke-width="0.75"/>
<polyline points="338.7,228.16 345.17,227.13 351.64,226.1 358.11,224.73 364.58,222.67 371.05,220.26 377.52,217.86 383.99,213.74 390.46,207.56 396.93,215.11 403.4,218.55 409.87,221.29 416.34,222.67 422.81,223.01 429.28,223.36 435.75,223.7 442.22,224.04 448.69,224.39 455.16,224.73 461.63,225.42 468.1,225.76" fill="none" stroke="#4b9631" stroke-width="0.75"/>
<polyline points="338.7,227.53 345.17,225.95 351.64,224.3 358.11,223.57 364.58,222.36 371.05,221.14 377.52,220.44 383.99,219.01 390.46,217.81 396.93,216.57 403.4,216.24 409.87,214.98 416.34,214.16 422.81,213.42 429.28,213.54 435.75,214.21 442.22,213.24 448.69,213.26 455.16,213.58 461.63,213.62 468.1,214.09" fill="none" stroke="#4c1f9c" stroke-width="0.75"/>
<polyline points="338.7,226.95 345.17,225.13 351.64,224.5 358.11,223.31 364.58,222.24 371.05,221.46 377.52,220.04 383.99,219.11 390.46,217.75 396.93,217.15 403.4,216.1 409.87,215.33 416.34,214.26 422.81,214.47 429.28,214.65 435.75,213.91 442.22,213.91 448.69,214.07 455.16,214.21 461.63,214.62 468.1,214.7" fill="none" stroke="#4c1f9c" stroke-width="0.75"/>
<polyline points="338.7,223.23 345.17,222.76 351.64,221.44 358.11,221.24 364.58,220.23 371.05,220.16 377.52,219.04 383.99,218.64 390.46,219 396.93,218.27 403.4,217.05 409.87,217.01 416.34,215.99 422.81,216.59 429.28,216.93 435.75,216.35 442.22,216.2 448.69,216.72 455.16,216.91 461.63,216.66 468.1,216.01" fill="none" stroke="#4c1f9c" stroke-width="0.75"/>
<polyline points="338.7,226.87 345.17,226.61 351.64,225.68 358.11,225.08 364.58,224.39 371.05,222.92 377.52,222.86 383.99,221.79 390.46,221.23 396.93,220.82 403.4,219.61 409.87,219.57 416.34,218.4 422.81,218.94 429.28,218.63 435.75,218.84 442.22,218.78 448.69,218.06 455.16,218.23 461.63,218.75 468.1,218.15" fill="none" stroke="#4c1f9c" stroke-width="0.75"/>
<polyline points="338.7,223.65 345.17,223.1 351.64,222.31 358.11,222.22 364.58,222.49 371.05,221.29 377.52,221.81 383.99,221.49 390.46,220.69 396.93,220.88 403.4,220.65 409.87,220.62 416.34,220.34 422.81,219.84 429.28,220.19 435.75,219.82 442.22,220.05 448.69,219.97 455.16,219.45 461.63,219.94 468.1,219.84" fill="none" stroke="#4c1f9c" stroke-width="0.75"/>
<polyline points="338.7,227.44 345.17,227.45 351.64,226.88 358.11,225.53 364.58,225.07 371.05,225.11 377.52,224.64 383.99,223.56 390.46,222.84 396.93,223.1 403.4,221.82 409.87,221.39 416.34,221.19 422.81,221.38 429.28,221.7 435.75,221.77 442.22,220.82 448.69,221.56 455.16,221.08 461.63,221.55 468.1,220.96" fill="none" stroke="#4c1f9c" stroke-width="0.75"/>
<polyline points="338.7,228.16 345.17,227.56 351.64,227.1 358.11,226.45 364.58,225.47 371.05,224.03 377.52,223.01 383.99,221.1 390.46,218.72 396.93,216.14 403.4,213.19 409.87,209.82 416.34,207.56 421.3,204.05 426.26,201.59 431.22,197.8 435.32,190.85 439.42,187.6 443.51,180.9 445.45,178.22 447.4,172.35 449.34,166.4" fill="none" stroke="#2d59a6" stroke-width="0.75"/>
<polyline points="338.7,227.82 345.17,227.27 351.64,226.85 358.11,226.1 364.58,225.35 371.05,224.35 377.52,223.36 383.99,221.47 390.46,220.04 396.93,217.86 403.4,215.18 409.87,211.53 416.34,209.27 420.65,205.44 424.97,203.2 429.28,200.69 433.59,195.56 437.91,191.25 442.22,186.94 446.75,182.97 451.28,178.18 455.81,170.7" fill="none" stroke="#2d59a6" stroke-width="0.75"/>
<polyline points="338.7,228.51 345.17,228.08 351.64,227.22 358.11,226.79 364.58,225.78 371.05,224.71 377.52,224.04 383.99,222.57 390.46,220.26 396.93,218.55 403.4,216.51 409.87,214.11 416.34,212.36 422.81,209.93 429.28,205.88 435.75,204.12 440.06,200.63 444.38,194.82 448.69,190.38 453.22,182.1 457.75,173.86 462.28,168.29" fill="none" stroke="#2d59a6" stroke-width="0.75"/>
<polyline points="338.7,228.16 345.17,227.75 351.64,227.41 358.11,227.13 364.58,226.21 371.05,225.33 377.52,224.73 383.99,223.34 390.46,221.61 396.93,220.26 403.4,218.13 409.87,216.39 416.34,215.11 421.3,212.71 426.26,209.55 431.22,207.52 437.26,205.55 443.3,204.89 449.34,203.81 455.59,199.69 461.85,196.54 468.1,192.41" fill="none" stroke="#2d59a6" stroke-width="0.75"/>
<polyline points="338.7,228.34 345.17,227.8 351.64,227.27 358.11,226.79 364.58,226.18 371.05,225.12 377.52,224.39 383.99,222.79 390.46,221.57 396.93,220.61 403.4,218.89 409.87,217.76 416.34,216.14 421.3,213.52 426.26,211.43 431.22,209.27 437.26,208.13 443.3,206.08 449.34,205.49 455.59,203.15 461.85,198.2 468.1,195.53" fill="none" stroke="#2d59a6" stroke-width="0.75"/>
<polyline points="338.7,227.99 345.17,227.69 351.64,227.04 358.11,226.62 364.58,225.77 371.05,225.05 377.52,224.04 383.99,222.41 390.46,221.07 396.93,219.58 403.4,217.73 409.87,215.62 416.34,214.42 421.3,213.64 426.26,212.9 431.22,210.99 437.26,210.19 443.3,208.37 449.34,207.56 455.59,205.15 461.85,202.26 468.1,198.42" fill="none" stroke="#2d59a6" stroke-width="0.75"/>
<polyline points="338.7,228.51 345.17,226.87 351.64,225.45 358.11,224.04 364.58,221.46 371.05,218.37 377.52,216.14 383.34,212.4 389.17,207.82 394.99,204.12 402.11,197.62 409.22,189.67 416.34,182.1 418.71,175.12 421.08,168.82 423.46,165.2" fill="none" stroke="#931a1a" stroke-width="0.75"/>
<polyline points="338.7,228.16 345.17,226.88 351.64,225.93 358.11,224.73 364.58,222.61 371.05,220.77 377.52,218.55 383.99,215.59 390.46,211.68 396.93,208.24 401.03,204.86 405.13,202.08 409.22,200.2 414.61,196.02 420.01,191.62 425.4,189.42 427.34,186.99 429.28,184.23 431.22,179.7 432.95,175.69 434.67,172.33 436.4,167.02" fill="none" stroke="#931a1a" stroke-width="0.75"/>
<polyline points="338.7,227.82 345.17,226.57 351.64,225.12 358.11,223.7 364.58,221.42 371.05,219.35 377.52,217.17 383.99,214.79 390.46,211.37 396.93,209.27 403.4,204.25 409.87,201.37 416.34,197.25 422.59,191.23 428.85,184.21 435.1,174.92 437.91,169.48 440.71,169.99 443.51,164" fill="none" stroke="#931a1a" stroke-width="0.75"/>
<polyline points="338.7,228.34 345.17,227.29 351.64,226.36 358.11,225.42 364.58,223.82 371.05,221.76 377.52,220.26 383.99,218.61 390.46,216.37 396.93,213.74 403.4,210.61 409.87,208.25 416.34,204.12 422.59,200.82 428.85,199.79 435.1,196.6 437.91,194.03 440.71,190.78 443.51,185.57 445.89,184.33 448.26,184.26 450.63,183.3 454.51,176.91 458.39,170.9 462.28,165.82" fill="none" stroke="#931a1a" stroke-width="0.75"/>
<polyline points="338.7,228.68 345.17,227.61 351.64,226.56 358.11,225.76 364.58,223.93 371.05,222.55 377.52,220.61 383.99,218.34 390.46,216.43 396.93,213.74 403.4,211.91 409.87,208.52 416.34,205.84 421.08,203.07 425.83,202.04 430.57,198.97 436.83,198.79 443.08,197.81 449.34,196.6 453.65,189.92 457.96,184.45 462.28,178.49" fill="none" stroke="#931a1a" stroke-width="0.75"/>
<polyline points="338.7,228.16 345.17,226.86 351.64,225.52 358.11,224.39 364.58,222.29 371.05,219.77 377.52,217.86 383.34,213.63 389.17,211.23 394.99,206.87 399.73,203.88 404.48,202.23 409.22,200.69 414.61,200.49 420.01,198.52 425.4,197.25 427.77,192.86 430.14,187.85 432.51,185.23 434.89,179.68 437.26,172.77 439.63,167.02" fill="none" stroke="#931a1a" stroke-width="0.75"/>
<text x="503.8" y="149.05" font-size="15.5" font-weight="bold" stroke="#000">D</text>
<line x1="535.5" y1="162.91" x2="535.5" y2="230.8" stroke="#000" stroke-width="0.8"/>
<line x1="535.5" y1="230.8" x2="672" y2="230.8" stroke="#000" stroke-width="0.8"/>
<line x1="532.5" y1="230.6" x2="535.5" y2="230.6" stroke="#000" stroke-width="0.8"/>
<text x="531.1" y="234.04" font-size="9.6" text-anchor="end" stroke="#000">15</text>
<line x1="532.5" y1="208.03" x2="535.5" y2="208.03" stroke="#000" stroke-width="0.8"/>
<text x="531.1" y="211.47" font-size="9.6" text-anchor="end" stroke="#000">20</text>
<line x1="532.5" y1="185.47" x2="535.5" y2="185.47" stroke="#000" stroke-width="0.8"/>
<text x="531.1" y="188.91" font-size="9.6" text-anchor="end" stroke="#000">25</text>
<line x1="532.5" y1="162.91" x2="535.5" y2="162.91" stroke="#000" stroke-width="0.8"/>
<text x="531.1" y="166.34" font-size="9.6" text-anchor="end" stroke="#000">30</text>
<line x1="538.8" y1="230.8" x2="538.8" y2="233.8" stroke="#000" stroke-width="0.8"/>
<text x="538.8" y="244.84" font-size="9.6" text-anchor="middle" stroke="#000">1</text>
<line x1="558.36" y1="230.8" x2="558.36" y2="233.8" stroke="#000" stroke-width="0.8"/>
<text x="558.36" y="244.84" font-size="9.6" text-anchor="middle" stroke="#000">4</text>
<line x1="577.92" y1="230.8" x2="577.92" y2="233.8" stroke="#000" stroke-width="0.8"/>
<text x="577.92" y="244.84" font-size="9.6" text-anchor="middle" stroke="#000">7</text>
<line x1="597.48" y1="230.8" x2="597.48" y2="233.8" stroke="#000" stroke-width="0.8"/>
<text x="597.48" y="244.84" font-size="9.6" text-anchor="middle" stroke="#000">10</text>
<line x1="623.56" y1="230.8" x2="623.56" y2="233.8" stroke="#000" stroke-width="0.8"/>
<text x="623.56" y="244.84" font-size="9.6" text-anchor="middle" stroke="#000">14</text>
<line x1="649.64" y1="230.8" x2="649.64" y2="233.8" stroke="#000" stroke-width="0.8"/>
<text x="649.64" y="244.84" font-size="9.6" text-anchor="middle" stroke="#000">18</text>
<line x1="669.2" y1="230.8" x2="669.2" y2="233.8" stroke="#000" stroke-width="0.8"/>
<text x="669.2" y="244.84" font-size="9.6" text-anchor="middle" stroke="#000">21</text>
<text x="604.3" y="254.67" font-size="9.4" text-anchor="middle" stroke="#000">Days post treatment</text>
<text x="510.8" y="194.57" font-size="9.4" text-anchor="middle" stroke="#000" transform="rotate(-90 510.8 191.2)">Body weight (g)</text>
<line x1="537.8" y1="142.5" x2="550.3" y2="142.5" stroke="#c98080" stroke-width="1.3"/>
<text x="557.7" y="145.94" font-size="9.6" stroke="#000">A3C<tspan font-size="6.5" dy="-3.98">NC</tspan><tspan dy="3.98">-NS</tspan></text>
<line x1="537.8" y1="154.2" x2="550.3" y2="154.2" stroke="#86bd6a" stroke-width="1.3"/>
<text x="557.7" y="157.64" font-size="9.6" stroke="#000">A3C<tspan font-size="6.5" dy="-3.98">NC</tspan><tspan dy="3.98">-GEM</tspan></text>
<line x1="537.8" y1="165.9" x2="550.3" y2="165.9" stroke="#5d7fbf" stroke-width="1.3"/>
<text x="557.7" y="169.34" font-size="9.6" stroke="#000">A3C<tspan font-size="6.5" dy="-3.98">OE</tspan><tspan dy="3.98">-NS</tspan></text>
<line x1="537.8" y1="177.6" x2="550.3" y2="177.6" stroke="#6a4aae" stroke-width="1.3"/>
<text x="557.7" y="181.04" font-size="9.6" stroke="#000">A3C<tspan font-size="6.5" dy="-3.98">OE</tspan><tspan dy="3.98">-GEM</tspan></text>
<line x1="538.8" y1="185.92" x2="538.8" y2="205.78" stroke="#62a246" stroke-width="0.85"/>
<line x1="537.3" y1="185.92" x2="540.3" y2="185.92" stroke="#62a246" stroke-width="0.85"/>
<line x1="537.3" y1="205.78" x2="540.3" y2="205.78" stroke="#62a246" stroke-width="0.85"/>
<line x1="538.8" y1="199.01" x2="538.8" y2="210.74" stroke="#7356c4" stroke-width="0.85"/>
<line x1="537.3" y1="199.01" x2="540.3" y2="199.01" stroke="#7356c4" stroke-width="0.85"/>
<line x1="537.3" y1="210.74" x2="540.3" y2="210.74" stroke="#7356c4" stroke-width="0.85"/>
<line x1="537.3" y1="190.43" x2="540.3" y2="190.43" stroke="#8299d0" stroke-width="0.8"/>
<line x1="538.8" y1="187.73" x2="538.8" y2="210.74" stroke="#9a3434" stroke-width="0.85"/>
<line x1="537.3" y1="187.73" x2="540.3" y2="187.73" stroke="#9a3434" stroke-width="0.85"/>
<line x1="537.3" y1="210.74" x2="540.3" y2="210.74" stroke="#9a3434" stroke-width="0.85"/>
<line x1="545.32" y1="188.63" x2="545.32" y2="208.49" stroke="#62a246" stroke-width="0.85"/>
<line x1="543.82" y1="188.63" x2="546.82" y2="188.63" stroke="#62a246" stroke-width="0.85"/>
<line x1="543.82" y1="208.49" x2="546.82" y2="208.49" stroke="#62a246" stroke-width="0.85"/>
<line x1="545.32" y1="198.56" x2="545.32" y2="210.29" stroke="#7356c4" stroke-width="0.85"/>
<line x1="543.82" y1="198.56" x2="546.82" y2="198.56" stroke="#7356c4" stroke-width="0.85"/>
<line x1="543.82" y1="210.29" x2="546.82" y2="210.29" stroke="#7356c4" stroke-width="0.85"/>
<line x1="543.82" y1="190.43" x2="546.82" y2="190.43" stroke="#8299d0" stroke-width="0.8"/>
<line x1="545.32" y1="188.18" x2="545.32" y2="211.19" stroke="#9a3434" stroke-width="0.85"/>
<line x1="543.82" y1="188.18" x2="546.82" y2="188.18" stroke="#9a3434" stroke-width="0.85"/>
<line x1="543.82" y1="211.19" x2="546.82" y2="211.19" stroke="#9a3434" stroke-width="0.85"/>
<line x1="551.84" y1="186.82" x2="551.84" y2="206.68" stroke="#62a246" stroke-width="0.85"/>
<line x1="550.34" y1="186.82" x2="553.34" y2="186.82" stroke="#62a246" stroke-width="0.85"/>
<line x1="550.34" y1="206.68" x2="553.34" y2="206.68" stroke="#62a246" stroke-width="0.85"/>
<line x1="551.84" y1="198.11" x2="551.84" y2="209.84" stroke="#7356c4" stroke-width="0.85"/>
<line x1="550.34" y1="198.11" x2="553.34" y2="198.11" stroke="#7356c4" stroke-width="0.85"/>
<line x1="550.34" y1="209.84" x2="553.34" y2="209.84" stroke="#7356c4" stroke-width="0.85"/>
<line x1="550.34" y1="189.98" x2="553.34" y2="189.98" stroke="#8299d0" stroke-width="0.8"/>
<line x1="551.84" y1="187.28" x2="551.84" y2="210.29" stroke="#9a3434" stroke-width="0.85"/>
<line x1="550.34" y1="187.28" x2="553.34" y2="187.28" stroke="#9a3434" stroke-width="0.85"/>
<line x1="550.34" y1="210.29" x2="553.34" y2="210.29" stroke="#9a3434" stroke-width="0.85"/>
<line x1="558.36" y1="186.82" x2="558.36" y2="206.68" stroke="#62a246" stroke-width="0.85"/>
<line x1="556.86" y1="186.82" x2="559.86" y2="186.82" stroke="#62a246" stroke-width="0.85"/>
<line x1="556.86" y1="206.68" x2="559.86" y2="206.68" stroke="#62a246" stroke-width="0.85"/>
<line x1="558.36" y1="198.11" x2="558.36" y2="209.84" stroke="#7356c4" stroke-width="0.85"/>
<line x1="556.86" y1="198.11" x2="559.86" y2="198.11" stroke="#7356c4" stroke-width="0.85"/>
<line x1="556.86" y1="209.84" x2="559.86" y2="209.84" stroke="#7356c4" stroke-width="0.85"/>
<line x1="556.86" y1="189.98" x2="559.86" y2="189.98" stroke="#8299d0" stroke-width="0.8"/>
<line x1="558.36" y1="187.73" x2="558.36" y2="210.74" stroke="#9a3434" stroke-width="0.85"/>
<line x1="556.86" y1="187.73" x2="559.86" y2="187.73" stroke="#9a3434" stroke-width="0.85"/>
<line x1="556.86" y1="210.74" x2="559.86" y2="210.74" stroke="#9a3434" stroke-width="0.85"/>
<line x1="564.88" y1="187.73" x2="564.88" y2="207.58" stroke="#62a246" stroke-width="0.85"/>
<line x1="563.38" y1="187.73" x2="566.38" y2="187.73" stroke="#62a246" stroke-width="0.85"/>
<line x1="563.38" y1="207.58" x2="566.38" y2="207.58" stroke="#62a246" stroke-width="0.85"/>
<line x1="564.88" y1="197.66" x2="564.88" y2="209.39" stroke="#7356c4" stroke-width="0.85"/>
<line x1="563.38" y1="197.66" x2="566.38" y2="197.66" stroke="#7356c4" stroke-width="0.85"/>
<line x1="563.38" y1="209.39" x2="566.38" y2="209.39" stroke="#7356c4" stroke-width="0.85"/>
<line x1="563.38" y1="189.53" x2="566.38" y2="189.53" stroke="#8299d0" stroke-width="0.8"/>
<line x1="564.88" y1="186.82" x2="564.88" y2="209.84" stroke="#9a3434" stroke-width="0.85"/>
<line x1="563.38" y1="186.82" x2="566.38" y2="186.82" stroke="#9a3434" stroke-width="0.85"/>
<line x1="563.38" y1="209.84" x2="566.38" y2="209.84" stroke="#9a3434" stroke-width="0.85"/>
<line x1="571.4" y1="189.08" x2="571.4" y2="208.94" stroke="#62a246" stroke-width="0.85"/>
<line x1="569.9" y1="189.08" x2="572.9" y2="189.08" stroke="#62a246" stroke-width="0.85"/>
<line x1="569.9" y1="208.94" x2="572.9" y2="208.94" stroke="#62a246" stroke-width="0.85"/>
<line x1="571.4" y1="197.66" x2="571.4" y2="209.39" stroke="#7356c4" stroke-width="0.85"/>
<line x1="569.9" y1="197.66" x2="572.9" y2="197.66" stroke="#7356c4" stroke-width="0.85"/>
<line x1="569.9" y1="209.39" x2="572.9" y2="209.39" stroke="#7356c4" stroke-width="0.85"/>
<line x1="569.9" y1="189.53" x2="572.9" y2="189.53" stroke="#8299d0" stroke-width="0.8"/>
<line x1="571.4" y1="185.92" x2="571.4" y2="208.94" stroke="#9a3434" stroke-width="0.85"/>
<line x1="569.9" y1="185.92" x2="572.9" y2="185.92" stroke="#9a3434" stroke-width="0.85"/>
<line x1="569.9" y1="208.94" x2="572.9" y2="208.94" stroke="#9a3434" stroke-width="0.85"/>
<line x1="577.92" y1="189.53" x2="577.92" y2="209.39" stroke="#62a246" stroke-width="0.85"/>
<line x1="576.42" y1="189.53" x2="579.42" y2="189.53" stroke="#62a246" stroke-width="0.85"/>
<line x1="576.42" y1="209.39" x2="579.42" y2="209.39" stroke="#62a246" stroke-width="0.85"/>
<line x1="577.92" y1="197.2" x2="577.92" y2="208.94" stroke="#7356c4" stroke-width="0.85"/>
<line x1="576.42" y1="197.2" x2="579.42" y2="197.2" stroke="#7356c4" stroke-width="0.85"/>
<line x1="576.42" y1="208.94" x2="579.42" y2="208.94" stroke="#7356c4" stroke-width="0.85"/>
<line x1="576.42" y1="189.08" x2="579.42" y2="189.08" stroke="#8299d0" stroke-width="0.8"/>
<line x1="577.92" y1="185.02" x2="577.92" y2="208.03" stroke="#9a3434" stroke-width="0.85"/>
<line x1="576.42" y1="185.02" x2="579.42" y2="185.02" stroke="#9a3434" stroke-width="0.85"/>
<line x1="576.42" y1="208.03" x2="579.42" y2="208.03" stroke="#9a3434" stroke-width="0.85"/>
<line x1="584.44" y1="192.69" x2="584.44" y2="212.55" stroke="#62a246" stroke-width="0.85"/>
<line x1="582.94" y1="192.69" x2="585.94" y2="192.69" stroke="#62a246" stroke-width="0.85"/>
<line x1="582.94" y1="212.55" x2="585.94" y2="212.55" stroke="#62a246" stroke-width="0.85"/>
<line x1="584.44" y1="197.66" x2="584.44" y2="209.39" stroke="#7356c4" stroke-width="0.85"/>
<line x1="582.94" y1="197.66" x2="585.94" y2="197.66" stroke="#7356c4" stroke-width="0.85"/>
<line x1="582.94" y1="209.39" x2="585.94" y2="209.39" stroke="#7356c4" stroke-width="0.85"/>
<line x1="582.94" y1="189.08" x2="585.94" y2="189.08" stroke="#8299d0" stroke-width="0.8"/>
<line x1="584.44" y1="185.92" x2="584.44" y2="208.94" stroke="#9a3434" stroke-width="0.85"/>
<line x1="582.94" y1="185.92" x2="585.94" y2="185.92" stroke="#9a3434" stroke-width="0.85"/>
<line x1="582.94" y1="208.94" x2="585.94" y2="208.94" stroke="#9a3434" stroke-width="0.85"/>
<line x1="590.96" y1="191.34" x2="590.96" y2="211.19" stroke="#62a246" stroke-width="0.85"/>
<line x1="589.46" y1="191.34" x2="592.46" y2="191.34" stroke="#62a246" stroke-width="0.85"/>
<line x1="589.46" y1="211.19" x2="592.46" y2="211.19" stroke="#62a246" stroke-width="0.85"/>
<line x1="590.96" y1="198.11" x2="590.96" y2="209.84" stroke="#7356c4" stroke-width="0.85"/>
<line x1="589.46" y1="198.11" x2="592.46" y2="198.11" stroke="#7356c4" stroke-width="0.85"/>
<line x1="589.46" y1="209.84" x2="592.46" y2="209.84" stroke="#7356c4" stroke-width="0.85"/>
<line x1="589.46" y1="189.53" x2="592.46" y2="189.53" stroke="#8299d0" stroke-width="0.8"/>
<line x1="590.96" y1="186.37" x2="590.96" y2="209.39" stroke="#9a3434" stroke-width="0.85"/>
<line x1="589.46" y1="186.37" x2="592.46" y2="186.37" stroke="#9a3434" stroke-width="0.85"/>
<line x1="589.46" y1="209.39" x2="592.46" y2="209.39" stroke="#9a3434" stroke-width="0.85"/>
<line x1="597.48" y1="196.75" x2="597.48" y2="216.61" stroke="#62a246" stroke-width="0.85"/>
<line x1="595.98" y1="196.75" x2="598.98" y2="196.75" stroke="#62a246" stroke-width="0.85"/>
<line x1="595.98" y1="216.61" x2="598.98" y2="216.61" stroke="#62a246" stroke-width="0.85"/>
<line x1="597.48" y1="198.11" x2="597.48" y2="209.84" stroke="#7356c4" stroke-width="0.85"/>
<line x1="595.98" y1="198.11" x2="598.98" y2="198.11" stroke="#7356c4" stroke-width="0.85"/>
<line x1="595.98" y1="209.84" x2="598.98" y2="209.84" stroke="#7356c4" stroke-width="0.85"/>
<line x1="595.98" y1="189.53" x2="598.98" y2="189.53" stroke="#8299d0" stroke-width="0.8"/>
<line x1="597.48" y1="186.82" x2="597.48" y2="209.84" stroke="#9a3434" stroke-width="0.85"/>
<line x1="595.98" y1="186.82" x2="598.98" y2="186.82" stroke="#9a3434" stroke-width="0.85"/>
<line x1="595.98" y1="209.84" x2="598.98" y2="209.84" stroke="#9a3434" stroke-width="0.85"/>
<line x1="604" y1="203.52" x2="604" y2="223.38" stroke="#62a246" stroke-width="0.85"/>
<line x1="602.5" y1="203.52" x2="605.5" y2="203.52" stroke="#62a246" stroke-width="0.85"/>
<line x1="602.5" y1="223.38" x2="605.5" y2="223.38" stroke="#62a246" stroke-width="0.85"/>
<line x1="604" y1="198.11" x2="604" y2="209.84" stroke="#7356c4" stroke-width="0.85"/>
<line x1="602.5" y1="198.11" x2="605.5" y2="198.11" stroke="#7356c4" stroke-width="0.85"/>
<line x1="602.5" y1="209.84" x2="605.5" y2="209.84" stroke="#7356c4" stroke-width="0.85"/>
<line x1="602.5" y1="189.53" x2="605.5" y2="189.53" stroke="#8299d0" stroke-width="0.8"/>
<line x1="604" y1="186.37" x2="604" y2="209.39" stroke="#9a3434" stroke-width="0.85"/>
<line x1="602.5" y1="186.37" x2="605.5" y2="186.37" stroke="#9a3434" stroke-width="0.85"/>
<line x1="602.5" y1="209.39" x2="605.5" y2="209.39" stroke="#9a3434" stroke-width="0.85"/>
<line x1="610.52" y1="204.88" x2="610.52" y2="224.73" stroke="#62a246" stroke-width="0.85"/>
<line x1="609.02" y1="204.88" x2="612.02" y2="204.88" stroke="#62a246" stroke-width="0.85"/>
<line x1="609.02" y1="224.73" x2="612.02" y2="224.73" stroke="#62a246" stroke-width="0.85"/>
<line x1="610.52" y1="197.66" x2="610.52" y2="209.39" stroke="#7356c4" stroke-width="0.85"/>
<line x1="609.02" y1="197.66" x2="612.02" y2="197.66" stroke="#7356c4" stroke-width="0.85"/>
<line x1="609.02" y1="209.39" x2="612.02" y2="209.39" stroke="#7356c4" stroke-width="0.85"/>
<line x1="609.02" y1="189.53" x2="612.02" y2="189.53" stroke="#8299d0" stroke-width="0.8"/>
<line x1="610.52" y1="185.92" x2="610.52" y2="208.94" stroke="#9a3434" stroke-width="0.85"/>
<line x1="609.02" y1="185.92" x2="612.02" y2="185.92" stroke="#9a3434" stroke-width="0.85"/>
<line x1="609.02" y1="208.94" x2="612.02" y2="208.94" stroke="#9a3434" stroke-width="0.85"/>
<line x1="617.04" y1="203.07" x2="617.04" y2="222.93" stroke="#62a246" stroke-width="0.85"/>
<line x1="615.54" y1="203.07" x2="618.54" y2="203.07" stroke="#62a246" stroke-width="0.85"/>
<line x1="615.54" y1="222.93" x2="618.54" y2="222.93" stroke="#62a246" stroke-width="0.85"/>
<line x1="617.04" y1="197.66" x2="617.04" y2="209.39" stroke="#7356c4" stroke-width="0.85"/>
<line x1="615.54" y1="197.66" x2="618.54" y2="197.66" stroke="#7356c4" stroke-width="0.85"/>
<line x1="615.54" y1="209.39" x2="618.54" y2="209.39" stroke="#7356c4" stroke-width="0.85"/>
<line x1="615.54" y1="189.08" x2="618.54" y2="189.08" stroke="#8299d0" stroke-width="0.8"/>
<line x1="617.04" y1="185.47" x2="617.04" y2="208.49" stroke="#9a3434" stroke-width="0.85"/>
<line x1="615.54" y1="185.47" x2="618.54" y2="185.47" stroke="#9a3434" stroke-width="0.85"/>
<line x1="615.54" y1="208.49" x2="618.54" y2="208.49" stroke="#9a3434" stroke-width="0.85"/>
<line x1="623.56" y1="199.01" x2="623.56" y2="218.87" stroke="#62a246" stroke-width="0.85"/>
<line x1="622.06" y1="199.01" x2="625.06" y2="199.01" stroke="#62a246" stroke-width="0.85"/>
<line x1="622.06" y1="218.87" x2="625.06" y2="218.87" stroke="#62a246" stroke-width="0.85"/>
<line x1="623.56" y1="197.66" x2="623.56" y2="209.39" stroke="#7356c4" stroke-width="0.85"/>
<line x1="622.06" y1="197.66" x2="625.06" y2="197.66" stroke="#7356c4" stroke-width="0.85"/>
<line x1="622.06" y1="209.39" x2="625.06" y2="209.39" stroke="#7356c4" stroke-width="0.85"/>
<line x1="622.06" y1="189.08" x2="625.06" y2="189.08" stroke="#8299d0" stroke-width="0.8"/>
<line x1="623.56" y1="185.92" x2="623.56" y2="208.94" stroke="#9a3434" stroke-width="0.85"/>
<line x1="622.06" y1="185.92" x2="625.06" y2="185.92" stroke="#9a3434" stroke-width="0.85"/>
<line x1="622.06" y1="208.94" x2="625.06" y2="208.94" stroke="#9a3434" stroke-width="0.85"/>
<line x1="630.08" y1="196.3" x2="630.08" y2="216.16" stroke="#62a246" stroke-width="0.85"/>
<line x1="628.58" y1="196.3" x2="631.58" y2="196.3" stroke="#62a246" stroke-width="0.85"/>
<line x1="628.58" y1="216.16" x2="631.58" y2="216.16" stroke="#62a246" stroke-width="0.85"/>
<line x1="630.08" y1="198.11" x2="630.08" y2="209.84" stroke="#7356c4" stroke-width="0.85"/>
<line x1="628.58" y1="198.11" x2="631.58" y2="198.11" stroke="#7356c4" stroke-width="0.85"/>
<line x1="628.58" y1="209.84" x2="631.58" y2="209.84" stroke="#7356c4" stroke-width="0.85"/>
<line x1="628.58" y1="189.53" x2="631.58" y2="189.53" stroke="#8299d0" stroke-width="0.8"/>
<line x1="630.08" y1="185.47" x2="630.08" y2="208.49" stroke="#9a3434" stroke-width="0.85"/>
<line x1="628.58" y1="185.47" x2="631.58" y2="185.47" stroke="#9a3434" stroke-width="0.85"/>
<line x1="628.58" y1="208.49" x2="631.58" y2="208.49" stroke="#9a3434" stroke-width="0.85"/>
<line x1="636.6" y1="194.04" x2="636.6" y2="213.9" stroke="#62a246" stroke-width="0.85"/>
<line x1="635.1" y1="194.04" x2="638.1" y2="194.04" stroke="#62a246" stroke-width="0.85"/>
<line x1="635.1" y1="213.9" x2="638.1" y2="213.9" stroke="#62a246" stroke-width="0.85"/>
<line x1="636.6" y1="198.56" x2="636.6" y2="210.29" stroke="#7356c4" stroke-width="0.85"/>
<line x1="635.1" y1="198.56" x2="638.1" y2="198.56" stroke="#7356c4" stroke-width="0.85"/>
<line x1="635.1" y1="210.29" x2="638.1" y2="210.29" stroke="#7356c4" stroke-width="0.85"/>
<line x1="635.1" y1="189.53" x2="638.1" y2="189.53" stroke="#8299d0" stroke-width="0.8"/>
<line x1="636.6" y1="185.02" x2="636.6" y2="208.03" stroke="#9a3434" stroke-width="0.85"/>
<line x1="635.1" y1="185.02" x2="638.1" y2="185.02" stroke="#9a3434" stroke-width="0.85"/>
<line x1="635.1" y1="208.03" x2="638.1" y2="208.03" stroke="#9a3434" stroke-width="0.85"/>
<line x1="643.12" y1="192.24" x2="643.12" y2="212.1" stroke="#62a246" stroke-width="0.85"/>
<line x1="641.62" y1="192.24" x2="644.62" y2="192.24" stroke="#62a246" stroke-width="0.85"/>
<line x1="641.62" y1="212.1" x2="644.62" y2="212.1" stroke="#62a246" stroke-width="0.85"/>
<line x1="643.12" y1="198.56" x2="643.12" y2="210.29" stroke="#7356c4" stroke-width="0.85"/>
<line x1="641.62" y1="198.56" x2="644.62" y2="198.56" stroke="#7356c4" stroke-width="0.85"/>
<line x1="641.62" y1="210.29" x2="644.62" y2="210.29" stroke="#7356c4" stroke-width="0.85"/>
<line x1="641.62" y1="189.53" x2="644.62" y2="189.53" stroke="#8299d0" stroke-width="0.8"/>
<line x1="643.12" y1="184.57" x2="643.12" y2="207.58" stroke="#9a3434" stroke-width="0.85"/>
<line x1="641.62" y1="184.57" x2="644.62" y2="184.57" stroke="#9a3434" stroke-width="0.85"/>
<line x1="641.62" y1="207.58" x2="644.62" y2="207.58" stroke="#9a3434" stroke-width="0.85"/>
<line x1="649.64" y1="191.34" x2="649.64" y2="211.19" stroke="#62a246" stroke-width="0.85"/>
<line x1="648.14" y1="191.34" x2="651.14" y2="191.34" stroke="#62a246" stroke-width="0.85"/>
<line x1="648.14" y1="211.19" x2="651.14" y2="211.19" stroke="#62a246" stroke-width="0.85"/>
<line x1="649.64" y1="198.56" x2="649.64" y2="210.29" stroke="#7356c4" stroke-width="0.85"/>
<line x1="648.14" y1="198.56" x2="651.14" y2="198.56" stroke="#7356c4" stroke-width="0.85"/>
<line x1="648.14" y1="210.29" x2="651.14" y2="210.29" stroke="#7356c4" stroke-width="0.85"/>
<line x1="648.14" y1="189.53" x2="651.14" y2="189.53" stroke="#8299d0" stroke-width="0.8"/>
<line x1="649.64" y1="184.12" x2="649.64" y2="207.13" stroke="#9a3434" stroke-width="0.85"/>
<line x1="648.14" y1="184.12" x2="651.14" y2="184.12" stroke="#9a3434" stroke-width="0.85"/>
<line x1="648.14" y1="207.13" x2="651.14" y2="207.13" stroke="#9a3434" stroke-width="0.85"/>
<line x1="656.16" y1="191.34" x2="656.16" y2="211.19" stroke="#62a246" stroke-width="0.85"/>
<line x1="654.66" y1="191.34" x2="657.66" y2="191.34" stroke="#62a246" stroke-width="0.85"/>
<line x1="654.66" y1="211.19" x2="657.66" y2="211.19" stroke="#62a246" stroke-width="0.85"/>
<line x1="656.16" y1="199.01" x2="656.16" y2="210.74" stroke="#7356c4" stroke-width="0.85"/>
<line x1="654.66" y1="199.01" x2="657.66" y2="199.01" stroke="#7356c4" stroke-width="0.85"/>
<line x1="654.66" y1="210.74" x2="657.66" y2="210.74" stroke="#7356c4" stroke-width="0.85"/>
<line x1="654.66" y1="189.53" x2="657.66" y2="189.53" stroke="#8299d0" stroke-width="0.8"/>
<line x1="656.16" y1="183.21" x2="656.16" y2="206.23" stroke="#9a3434" stroke-width="0.85"/>
<line x1="654.66" y1="183.21" x2="657.66" y2="183.21" stroke="#9a3434" stroke-width="0.85"/>
<line x1="654.66" y1="206.23" x2="657.66" y2="206.23" stroke="#9a3434" stroke-width="0.85"/>
<line x1="662.68" y1="190.89" x2="662.68" y2="210.74" stroke="#62a246" stroke-width="0.85"/>
<line x1="661.18" y1="190.89" x2="664.18" y2="190.89" stroke="#62a246" stroke-width="0.85"/>
<line x1="661.18" y1="210.74" x2="664.18" y2="210.74" stroke="#62a246" stroke-width="0.85"/>
<line x1="662.68" y1="199.01" x2="662.68" y2="210.74" stroke="#7356c4" stroke-width="0.85"/>
<line x1="661.18" y1="199.01" x2="664.18" y2="199.01" stroke="#7356c4" stroke-width="0.85"/>
<line x1="661.18" y1="210.74" x2="664.18" y2="210.74" stroke="#7356c4" stroke-width="0.85"/>
<line x1="661.18" y1="189.08" x2="664.18" y2="189.08" stroke="#8299d0" stroke-width="0.8"/>
<line x1="662.68" y1="182.76" x2="662.68" y2="205.78" stroke="#9a3434" stroke-width="0.85"/>
<line x1="661.18" y1="182.76" x2="664.18" y2="182.76" stroke="#9a3434" stroke-width="0.85"/>
<line x1="661.18" y1="205.78" x2="664.18" y2="205.78" stroke="#9a3434" stroke-width="0.85"/>
<line x1="669.2" y1="190.89" x2="669.2" y2="210.74" stroke="#62a246" stroke-width="0.85"/>
<line x1="667.7" y1="190.89" x2="670.7" y2="190.89" stroke="#62a246" stroke-width="0.85"/>
<line x1="667.7" y1="210.74" x2="670.7" y2="210.74" stroke="#62a246" stroke-width="0.85"/>
<line x1="669.2" y1="199.01" x2="669.2" y2="210.74" stroke="#7356c4" stroke-width="0.85"/>
<line x1="667.7" y1="199.01" x2="670.7" y2="199.01" stroke="#7356c4" stroke-width="0.85"/>
<line x1="667.7" y1="210.74" x2="670.7" y2="210.74" stroke="#7356c4" stroke-width="0.85"/>
<line x1="667.7" y1="188.63" x2="670.7" y2="188.63" stroke="#8299d0" stroke-width="0.8"/>
<line x1="669.2" y1="182.31" x2="669.2" y2="205.33" stroke="#9a3434" stroke-width="0.85"/>
<line x1="667.7" y1="182.31" x2="670.7" y2="182.31" stroke="#9a3434" stroke-width="0.85"/>
<line x1="667.7" y1="205.33" x2="670.7" y2="205.33" stroke="#9a3434" stroke-width="0.85"/>
<polyline points="538.8,200.81 545.32,201.27 551.84,200.36 558.36,200.81 564.88,199.91 571.4,199.01 577.92,198.11 584.44,199.01 590.96,199.46 597.48,199.91 604,199.46 610.52,199.01 617.04,198.56 623.56,199.01 630.08,198.56 636.6,198.11 643.12,197.66 649.64,197.2 656.16,196.3 662.68,195.85 669.2,195.4" fill="none" stroke="#b55a5a" stroke-width="0.8"/>
<polyline points="538.8,194.5 545.32,197.2 551.84,195.4 558.36,195.4 564.88,196.3 571.4,197.66 577.92,198.11 584.44,201.27 590.96,199.91 597.48,205.33 604,212.1 610.52,213.45 617.04,211.65 623.56,207.58 630.08,204.88 636.6,202.62 643.12,200.81 649.64,199.91 656.16,199.91 662.68,199.46 669.2,199.46" fill="none" stroke="#6aa84f" stroke-width="0.8"/>
<polyline points="538.8,199.01 545.32,199.01 551.84,198.56 558.36,198.56 564.88,198.11 571.4,198.11 577.92,197.66 584.44,197.66 590.96,198.11 597.48,198.11 604,198.11 610.52,198.11 617.04,197.66 623.56,197.66 630.08,198.11 636.6,198.11 643.12,198.11 649.64,198.11 656.16,198.11 662.68,197.66 669.2,197.2" fill="none" stroke="#4c6fb0" stroke-width="0.8"/>
<polyline points="538.8,199.91 545.32,199.46 551.84,199.01 558.36,199.01 564.88,198.56 571.4,198.56 577.92,198.11 584.44,198.56 590.96,199.01 597.48,199.01 604,199.01 610.52,198.56 617.04,198.56 623.56,198.56 630.08,199.01 636.6,199.46 643.12,199.46 649.64,199.46 656.16,199.91 662.68,199.91 669.2,199.91" fill="none" stroke="#5d3aa5" stroke-width="0.8"/>
<text x="1.2" y="292.55" font-size="15.5" font-weight="bold" stroke="#000">E</text>
<line x1="28.5" y1="303.6" x2="43" y2="303.6" stroke="#000" stroke-width="1.1" stroke-dasharray="3.2,1.8"/>
<rect x="34" y="301.9" width="3.4" height="3.4" fill="#000"/>
<text x="50" y="307.04" font-size="9.6" stroke="#000">pCMV6<tspan font-size="6.8" dy="-4.17">NC</tspan></text>
<line x1="108.2" y1="303.6" x2="120.4" y2="303.6" stroke="#000" stroke-width="0.7"/>
<circle cx="114.8" cy="303.6" r="2.2" fill="none" stroke="#000" stroke-width="0.7"/>
<text x="128.2" y="307.04" font-size="9.6" stroke="#000">CDA<tspan font-size="6.8" dy="-4.17">OE</tspan></text>
<line x1="178" y1="303.6" x2="190.4" y2="303.6" stroke="#000" stroke-width="0.7"/>
<circle cx="184.2" cy="303.6" r="2.3" fill="#000"/>
<text x="197.4" y="307.04" font-size="9.6" stroke="#000">A3C<tspan font-size="6.8" dy="-4.17">OE</tspan></text>
<text x="5.9" y="370.93" font-size="9.3" text-anchor="middle" stroke="#000" transform="rotate(-90 5.9 367.6)">GEM (ng/mg protein)</text>
<line x1="39.3" y1="323.5" x2="39.3" y2="412.5" stroke="#000" stroke-width="0.8"/>
<line x1="39.3" y1="412.5" x2="127.5" y2="412.5" stroke="#000" stroke-width="0.8"/>
<line x1="36.3" y1="412.5" x2="39.3" y2="412.5" stroke="#000" stroke-width="0.8"/>
<text x="35" y="415.94" font-size="9.6" text-anchor="end" stroke="#000">0</text>
<line x1="36.3" y1="390.25" x2="39.3" y2="390.25" stroke="#000" stroke-width="0.8"/>
<text x="35" y="393.69" font-size="9.6" text-anchor="end" stroke="#000">100</text>
<line x1="36.3" y1="368" x2="39.3" y2="368" stroke="#000" stroke-width="0.8"/>
<text x="35" y="371.44" font-size="9.6" text-anchor="end" stroke="#000">200</text>
<line x1="36.3" y1="345.75" x2="39.3" y2="345.75" stroke="#000" stroke-width="0.8"/>
<text x="35" y="349.19" font-size="9.6" text-anchor="end" stroke="#000">300</text>
<line x1="36.3" y1="323.5" x2="39.3" y2="323.5" stroke="#000" stroke-width="0.8"/>
<text x="35" y="326.94" font-size="9.6" text-anchor="end" stroke="#000">400</text>
<line x1="48.6" y1="412.5" x2="48.6" y2="415.5" stroke="#000" stroke-width="0.8"/>
<text x="48.6" y="426.54" font-size="9.6" text-anchor="middle" stroke="#000">1.25</text>
<line x1="67" y1="412.5" x2="67" y2="415.5" stroke="#000" stroke-width="0.8"/>
<text x="67" y="426.54" font-size="9.6" text-anchor="middle" stroke="#000">2.5</text>
<line x1="85.5" y1="412.5" x2="85.5" y2="415.5" stroke="#000" stroke-width="0.8"/>
<text x="85.5" y="426.54" font-size="9.6" text-anchor="middle" stroke="#000">5</text>
<line x1="103.7" y1="412.5" x2="103.7" y2="415.5" stroke="#000" stroke-width="0.8"/>
<text x="103.7" y="426.54" font-size="9.6" text-anchor="middle" stroke="#000">10</text>
<line x1="122.1" y1="412.5" x2="122.1" y2="415.5" stroke="#000" stroke-width="0.8"/>
<text x="122.1" y="426.54" font-size="9.6" text-anchor="middle" stroke="#000">20</text>
<text x="85.5" y="438.9" font-size="9.5" text-anchor="middle" stroke="#000">GEM (<tspan font-style="italic">μ</tspan>g/mL)</text>
<line x1="48.6" y1="381.8" x2="48.6" y2="371.34" stroke="#222" stroke-width="0.6"/>
<line x1="46.4" y1="371.34" x2="50.8" y2="371.34" stroke="#222" stroke-width="0.6"/>
<line x1="67" y1="382.46" x2="67" y2="365.77" stroke="#222" stroke-width="0.6"/>
<line x1="64.8" y1="365.77" x2="69.2" y2="365.77" stroke="#222" stroke-width="0.6"/>
<line x1="85.5" y1="378.01" x2="85.5" y2="345.75" stroke="#222" stroke-width="0.6"/>
<line x1="83.3" y1="345.75" x2="87.7" y2="345.75" stroke="#222" stroke-width="0.6"/>
<line x1="103.7" y1="380.9" x2="103.7" y2="352.43" stroke="#222" stroke-width="0.6"/>
<line x1="101.5" y1="352.43" x2="105.9" y2="352.43" stroke="#222" stroke-width="0.6"/>
<line x1="122.1" y1="381.35" x2="122.1" y2="342.41" stroke="#222" stroke-width="0.6"/>
<line x1="119.9" y1="342.41" x2="124.3" y2="342.41" stroke="#222" stroke-width="0.6"/>
<line x1="48.6" y1="392.03" x2="48.6" y2="340.86" stroke="#222" stroke-width="0.6"/>
<line x1="46.4" y1="340.86" x2="50.8" y2="340.86" stroke="#222" stroke-width="0.6"/>
<line x1="67" y1="388.47" x2="67" y2="343.97" stroke="#222" stroke-width="0.6"/>
<line x1="64.8" y1="343.97" x2="69.2" y2="343.97" stroke="#222" stroke-width="0.6"/>
<line x1="85.5" y1="380.24" x2="85.5" y2="336.85" stroke="#222" stroke-width="0.6"/>
<line x1="83.3" y1="336.85" x2="87.7" y2="336.85" stroke="#222" stroke-width="0.6"/>
<line x1="103.7" y1="380.68" x2="103.7" y2="349.98" stroke="#222" stroke-width="0.6"/>
<line x1="101.5" y1="349.98" x2="105.9" y2="349.98" stroke="#222" stroke-width="0.6"/>
<line x1="122.1" y1="376.23" x2="122.1" y2="342.41" stroke="#222" stroke-width="0.6"/>
<line x1="119.9" y1="342.41" x2="124.3" y2="342.41" stroke="#222" stroke-width="0.6"/>
<line x1="48.6" y1="406.94" x2="48.6" y2="410.27" stroke="#222" stroke-width="0.6"/>
<line x1="46.4" y1="410.27" x2="50.8" y2="410.27" stroke="#222" stroke-width="0.6"/>
<line x1="67" y1="406.94" x2="67" y2="406.94" stroke="#222" stroke-width="0.6"/>
<line x1="64.8" y1="406.94" x2="69.2" y2="406.94" stroke="#222" stroke-width="0.6"/>
<line x1="85.5" y1="405.38" x2="85.5" y2="405.38" stroke="#222" stroke-width="0.6"/>
<line x1="83.3" y1="405.38" x2="87.7" y2="405.38" stroke="#222" stroke-width="0.6"/>
<line x1="103.7" y1="400.93" x2="103.7" y2="402.71" stroke="#222" stroke-width="0.6"/>
<line x1="101.5" y1="402.71" x2="105.9" y2="402.71" stroke="#222" stroke-width="0.6"/>
<line x1="122.1" y1="402.04" x2="122.1" y2="409.83" stroke="#222" stroke-width="0.6"/>
<line x1="119.9" y1="409.83" x2="124.3" y2="409.83" stroke="#222" stroke-width="0.6"/>
<polyline points="48.6,381.8 67,382.46 85.5,378.01 103.7,380.9 122.1,381.35" fill="none" stroke="#000" stroke-width="1.1" stroke-dasharray="3.6,2"/>
<polyline points="48.6,392.03 67,388.47 85.5,380.24 103.7,380.68 122.1,376.23" fill="none" stroke="#000" stroke-width="0.7"/>
<polyline points="48.6,406.94 67,406.94 85.5,405.38 103.7,400.93 122.1,402.04" fill="none" stroke="#000" stroke-width="0.7"/>
<rect x="46.9" y="380.1" width="3.4" height="3.4" fill="#000"/>
<rect x="65.3" y="380.76" width="3.4" height="3.4" fill="#000"/>
<rect x="83.8" y="376.31" width="3.4" height="3.4" fill="#000"/>
<rect x="102" y="379.2" width="3.4" height="3.4" fill="#000"/>
<rect x="120.4" y="379.65" width="3.4" height="3.4" fill="#000"/>
<circle cx="48.6" cy="392.03" r="2.4" fill="#000"/>
<circle cx="67" cy="388.47" r="2.4" fill="#000"/>
<circle cx="85.5" cy="380.24" r="2.4" fill="#000"/>
<circle cx="103.7" cy="380.68" r="2.4" fill="#000"/>
<circle cx="122.1" cy="376.23" r="2.4" fill="#000"/>
<circle cx="48.6" cy="406.94" r="2.15" fill="none" stroke="#000" stroke-width="0.7"/>
<circle cx="67" cy="406.94" r="2.15" fill="none" stroke="#000" stroke-width="0.7"/>
<circle cx="85.5" cy="405.38" r="2.15" fill="none" stroke="#000" stroke-width="0.7"/>
<circle cx="103.7" cy="400.93" r="2.15" fill="none" stroke="#000" stroke-width="0.7"/>
<circle cx="122.1" cy="402.04" r="2.15" fill="none" stroke="#000" stroke-width="0.7"/>
<line x1="157.7" y1="323.5" x2="157.7" y2="411" stroke="#000" stroke-width="0.8"/>
<line x1="157.7" y1="411" x2="249" y2="411" stroke="#000" stroke-width="0.8"/>
<line x1="154.7" y1="411" x2="157.7" y2="411" stroke="#000" stroke-width="0.8"/>
<text x="153.4" y="414.44" font-size="9.6" text-anchor="end" stroke="#000">0</text>
<line x1="154.7" y1="389.12" x2="157.7" y2="389.12" stroke="#000" stroke-width="0.8"/>
<text x="153.4" y="392.56" font-size="9.6" text-anchor="end" stroke="#000">100</text>
<line x1="154.7" y1="367.25" x2="157.7" y2="367.25" stroke="#000" stroke-width="0.8"/>
<text x="153.4" y="370.69" font-size="9.6" text-anchor="end" stroke="#000">200</text>
<line x1="154.7" y1="345.38" x2="157.7" y2="345.38" stroke="#000" stroke-width="0.8"/>
<text x="153.4" y="348.81" font-size="9.6" text-anchor="end" stroke="#000">300</text>
<line x1="154.7" y1="323.5" x2="157.7" y2="323.5" stroke="#000" stroke-width="0.8"/>
<text x="153.4" y="326.94" font-size="9.6" text-anchor="end" stroke="#000">400</text>
<line x1="167.9" y1="411" x2="167.9" y2="414" stroke="#000" stroke-width="0.8"/>
<text x="167.9" y="425.04" font-size="9.6" text-anchor="middle" stroke="#000">15</text>
<line x1="185.8" y1="411" x2="185.8" y2="414" stroke="#000" stroke-width="0.8"/>
<text x="185.8" y="425.04" font-size="9.6" text-anchor="middle" stroke="#000">30</text>
<line x1="203.9" y1="411" x2="203.9" y2="414" stroke="#000" stroke-width="0.8"/>
<text x="203.9" y="425.04" font-size="9.6" text-anchor="middle" stroke="#000">60</text>
<line x1="222.3" y1="411" x2="222.3" y2="414" stroke="#000" stroke-width="0.8"/>
<text x="222.3" y="425.04" font-size="9.6" text-anchor="middle" stroke="#000">90</text>
<line x1="240.6" y1="411" x2="240.6" y2="414" stroke="#000" stroke-width="0.8"/>
<text x="240.6" y="425.04" font-size="9.6" text-anchor="middle" stroke="#000">120</text>
<text x="204.4" y="437.4" font-size="9.5" text-anchor="middle" stroke="#000">Time (min)</text>
<line x1="167.9" y1="393.06" x2="167.9" y2="380.38" stroke="#222" stroke-width="0.6"/>
<line x1="165.7" y1="380.38" x2="170.1" y2="380.38" stroke="#222" stroke-width="0.6"/>
<line x1="185.8" y1="393.06" x2="185.8" y2="377.09" stroke="#222" stroke-width="0.6"/>
<line x1="183.6" y1="377.09" x2="188" y2="377.09" stroke="#222" stroke-width="0.6"/>
<line x1="203.9" y1="389.12" x2="203.9" y2="369.44" stroke="#222" stroke-width="0.6"/>
<line x1="201.7" y1="369.44" x2="206.1" y2="369.44" stroke="#222" stroke-width="0.6"/>
<line x1="222.3" y1="387.38" x2="222.3" y2="361.78" stroke="#222" stroke-width="0.6"/>
<line x1="220.1" y1="361.78" x2="224.5" y2="361.78" stroke="#222" stroke-width="0.6"/>
<line x1="240.6" y1="383.22" x2="240.6" y2="361.78" stroke="#222" stroke-width="0.6"/>
<line x1="238.4" y1="361.78" x2="242.8" y2="361.78" stroke="#222" stroke-width="0.6"/>
<line x1="167.9" y1="392.41" x2="167.9" y2="378.19" stroke="#222" stroke-width="0.6"/>
<line x1="165.7" y1="378.19" x2="170.1" y2="378.19" stroke="#222" stroke-width="0.6"/>
<line x1="185.8" y1="388.69" x2="185.8" y2="374.25" stroke="#222" stroke-width="0.6"/>
<line x1="183.6" y1="374.25" x2="188" y2="374.25" stroke="#222" stroke-width="0.6"/>
<line x1="203.9" y1="383.66" x2="203.9" y2="365.06" stroke="#222" stroke-width="0.6"/>
<line x1="201.7" y1="365.06" x2="206.1" y2="365.06" stroke="#222" stroke-width="0.6"/>
<line x1="222.3" y1="382.12" x2="222.3" y2="360.25" stroke="#222" stroke-width="0.6"/>
<line x1="220.1" y1="360.25" x2="224.5" y2="360.25" stroke="#222" stroke-width="0.6"/>
<line x1="240.6" y1="384.31" x2="240.6" y2="349.31" stroke="#222" stroke-width="0.6"/>
<line x1="238.4" y1="349.31" x2="242.8" y2="349.31" stroke="#222" stroke-width="0.6"/>
<line x1="167.9" y1="407.28" x2="167.9" y2="409.91" stroke="#222" stroke-width="0.6"/>
<line x1="165.7" y1="409.91" x2="170.1" y2="409.91" stroke="#222" stroke-width="0.6"/>
<line x1="185.8" y1="407.06" x2="185.8" y2="409.91" stroke="#222" stroke-width="0.6"/>
<line x1="183.6" y1="409.91" x2="188" y2="409.91" stroke="#222" stroke-width="0.6"/>
<line x1="203.9" y1="403.78" x2="203.9" y2="408.38" stroke="#222" stroke-width="0.6"/>
<line x1="201.7" y1="408.38" x2="206.1" y2="408.38" stroke="#222" stroke-width="0.6"/>
<line x1="222.3" y1="402.25" x2="222.3" y2="407.72" stroke="#222" stroke-width="0.6"/>
<line x1="220.1" y1="407.72" x2="224.5" y2="407.72" stroke="#222" stroke-width="0.6"/>
<line x1="240.6" y1="402.25" x2="240.6" y2="407.72" stroke="#222" stroke-width="0.6"/>
<line x1="238.4" y1="407.72" x2="242.8" y2="407.72" stroke="#222" stroke-width="0.6"/>
<polyline points="167.9,393.06 185.8,393.06 203.9,389.12 222.3,387.38 240.6,383.22" fill="none" stroke="#000" stroke-width="1.1" stroke-dasharray="3.6,2"/>
<polyline points="167.9,392.41 185.8,388.69 203.9,383.66 222.3,382.12 240.6,384.31" fill="none" stroke="#000" stroke-width="0.7"/>
<polyline points="167.9,407.28 185.8,407.06 203.9,403.78 222.3,402.25 240.6,402.25" fill="none" stroke="#000" stroke-width="0.7"/>
<rect x="166.2" y="391.36" width="3.4" height="3.4" fill="#000"/>
<rect x="184.1" y="391.36" width="3.4" height="3.4" fill="#000"/>
<rect x="202.2" y="387.43" width="3.4" height="3.4" fill="#000"/>
<rect x="220.6" y="385.68" width="3.4" height="3.4" fill="#000"/>
<rect x="238.9" y="381.52" width="3.4" height="3.4" fill="#000"/>
<circle cx="167.9" cy="392.41" r="2.4" fill="#000"/>
<circle cx="185.8" cy="388.69" r="2.4" fill="#000"/>
<circle cx="203.9" cy="383.66" r="2.4" fill="#000"/>
<circle cx="222.3" cy="382.12" r="2.4" fill="#000"/>
<circle cx="240.6" cy="384.31" r="2.4" fill="#000"/>
<circle cx="167.9" cy="407.28" r="2.15" fill="none" stroke="#000" stroke-width="0.7"/>
<circle cx="185.8" cy="407.06" r="2.15" fill="none" stroke="#000" stroke-width="0.7"/>
<circle cx="203.9" cy="403.78" r="2.15" fill="none" stroke="#000" stroke-width="0.7"/>
<circle cx="222.3" cy="402.25" r="2.15" fill="none" stroke="#000" stroke-width="0.7"/>
<circle cx="240.6" cy="402.25" r="2.15" fill="none" stroke="#000" stroke-width="0.7"/>
<text x="250.2" y="292.55" font-size="15.5" font-weight="bold" stroke="#000">F</text>
<text x="309.6" y="299.14" font-size="9.9" text-anchor="end" stroke="#000">FLAG-A3C</text>
<text x="309.6" y="314.14" font-size="9.9" text-anchor="end" stroke="#000">FLAG-CDA</text>
<text x="309.6" y="329.14" font-size="9.9" text-anchor="end" stroke="#000">GEM (1 <tspan font-style="italic">μ</tspan>M)</text>
<text x="322.4" y="298.8" font-size="9.5" text-anchor="middle" stroke="#000">-</text>
<text x="340.8" y="298.8" font-size="9.5" text-anchor="middle" stroke="#000">-</text>
<text x="359.2" y="298.8" font-size="9.5" text-anchor="middle" stroke="#000">-</text>
<text x="377.6" y="298.8" font-size="9.5" text-anchor="middle" stroke="#000">-</text>
<text x="396" y="298.8" font-size="9.5" text-anchor="middle" stroke="#000">+</text>
<text x="414.4" y="298.8" font-size="9.5" text-anchor="middle" stroke="#000">+</text>
<text x="322.4" y="314.8" font-size="9.5" text-anchor="middle" stroke="#000">-</text>
<text x="340.8" y="314.8" font-size="9.5" text-anchor="middle" stroke="#000">-</text>
<text x="359.2" y="314.8" font-size="9.5" text-anchor="middle" stroke="#000">+</text>
<text x="377.6" y="314.8" font-size="9.5" text-anchor="middle" stroke="#000">+</text>
<text x="396" y="314.8" font-size="9.5" text-anchor="middle" stroke="#000">-</text>
<text x="414.4" y="314.8" font-size="9.5" text-anchor="middle" stroke="#000">-</text>
<text x="322.4" y="328.8" font-size="9.5" text-anchor="middle" stroke="#000">-</text>
<text x="340.8" y="328.8" font-size="9.5" text-anchor="middle" stroke="#000">+</text>
<text x="359.2" y="328.8" font-size="9.5" text-anchor="middle" stroke="#000">-</text>
<text x="377.6" y="328.8" font-size="9.5" text-anchor="middle" stroke="#000">+</text>
<text x="396" y="328.8" font-size="9.5" text-anchor="middle" stroke="#000">-</text>
<text x="414.4" y="328.8" font-size="9.5" text-anchor="middle" stroke="#000">+</text>
<rect x="308.5" y="334.7" width="120.6" height="33.8" fill="#f9f9f9" stroke="#7a7a7a" stroke-width="0.9"/>
<rect x="308.5" y="370.6" width="120.6" height="19.5" fill="#f9f9f9" stroke="#7a7a7a" stroke-width="0.9"/>
<rect x="308.5" y="392.3" width="120.6" height="19.4" fill="#f9f9f9" stroke="#7a7a7a" stroke-width="0.9"/>
<rect x="308.5" y="414.4" width="120.6" height="19.4" fill="#f9f9f9" stroke="#7a7a7a" stroke-width="0.9"/>
<text x="305.5" y="356.14" font-size="9.9" text-anchor="end" stroke="#000">FLAG</text>
<text x="305.5" y="385.74" font-size="9.9" text-anchor="end" stroke="#000">p-Chk1<tspan font-size="5.4" dy="-3.31">Ser345</tspan></text>
<text x="305.5" y="407.94" font-size="9.9" text-anchor="end" stroke="#000">t-Chk1</text>
<text x="305.5" y="429.04" font-size="9.9" text-anchor="end" stroke="#000">GAPDH</text>
<rect x="351.7" y="358.4" width="15.8" height="5.6" rx="2.8" fill="#000" opacity="1" filter="url(#wb1)"/>
<rect x="371.05" y="358.4" width="13.5" height="5.6" rx="2.8" fill="#000" opacity="1" filter="url(#wb1)"/>
<rect x="387.6" y="339.1" width="16" height="9.6" rx="4.8" fill="#000" opacity="1" filter="url(#wb1)"/>
<rect x="406.3" y="341.3" width="15.8" height="7.2" rx="3.6" fill="#000" opacity="1" filter="url(#wb1)"/>
<rect x="316" y="380.3" width="12" height="2.6" rx="1.3" fill="#000" opacity="0.12" filter="url(#wb2)"/>
<rect x="334" y="379.4" width="14" height="4" rx="2" fill="#000" opacity="0.75" filter="url(#wb1)"/>
<rect x="353.6" y="380.6" width="12" height="2.4" rx="1.2" fill="#000" opacity="0.08" filter="url(#wb2)"/>
<rect x="369.5" y="380.1" width="13" height="3.4" rx="1.7" fill="#000" opacity="0.42" filter="url(#wb1)"/>
<rect x="387.35" y="380.3" width="14.5" height="4" rx="2" fill="#000" opacity="1" filter="url(#wb1)"/>
<rect x="404.3" y="378.4" width="17" height="6.6" rx="3.3" fill="#000" opacity="1" filter="url(#wb1)"/>
<rect x="314.1" y="401.15" width="15.6" height="3.3" rx="1.65" fill="#000" opacity="0.95" filter="url(#wb1)"/>
<rect x="333.7" y="400.85" width="15.6" height="3.9" rx="1.95" fill="#000" opacity="0.95" filter="url(#wb1)"/>
<rect x="351.8" y="401.15" width="15.6" height="3.3" rx="1.65" fill="#000" opacity="0.95" filter="url(#wb1)"/>
<rect x="370" y="401.15" width="15.6" height="3.3" rx="1.65" fill="#000" opacity="0.95" filter="url(#wb1)"/>
<rect x="388" y="400.85" width="15.6" height="3.9" rx="1.95" fill="#000" opacity="0.95" filter="url(#wb1)"/>
<rect x="406.1" y="401.15" width="15.6" height="3.3" rx="1.65" fill="#000" opacity="0.95" filter="url(#wb1)"/>
<rect x="317.05" y="420.5" width="16.5" height="7" rx="3.5" fill="#000" opacity="1" filter="url(#wb1)"/>
<rect x="334.95" y="420.5" width="16.5" height="7" rx="3.5" fill="#000" opacity="1" filter="url(#wb1)"/>
<rect x="352.75" y="420.5" width="16.5" height="7" rx="3.5" fill="#000" opacity="1" filter="url(#wb1)"/>
<rect x="370.55" y="420.5" width="16.5" height="7" rx="3.5" fill="#000" opacity="1" filter="url(#wb1)"/>
<rect x="388.55" y="420.5" width="16.5" height="7" rx="3.5" fill="#000" opacity="1" filter="url(#wb1)"/>
<rect x="407.05" y="420.5" width="16.5" height="7" rx="3.5" fill="#000" opacity="1" filter="url(#wb1)"/>
<text x="427.9" y="292.65" font-size="15.5" font-weight="bold" stroke="#000">G</text>
<text x="508.3" y="299.64" font-size="9.9" text-anchor="end" stroke="#000">Wild-type A3C</text>
<text x="508.3" y="315.84" font-size="9.9" text-anchor="end" stroke="#000">C97S/C100S</text>
<text x="508.3" y="329.04" font-size="9.9" text-anchor="end" stroke="#000">GEM (1 <tspan font-style="italic">μ</tspan>M)</text>
<text x="521" y="299.5" font-size="9.5" text-anchor="middle" stroke="#000">-</text>
<text x="538.8" y="299.5" font-size="9.5" text-anchor="middle" stroke="#000">-</text>
<text x="556.7" y="299.5" font-size="9.5" text-anchor="middle" stroke="#000">+</text>
<text x="574.8" y="299.5" font-size="9.5" text-anchor="middle" stroke="#000">+</text>
<text x="612" y="299.5" font-size="9.5" text-anchor="middle" stroke="#000">-</text>
<text x="629.7" y="299.5" font-size="9.5" text-anchor="middle" stroke="#000">-</text>
<text x="647.4" y="299.5" font-size="9.5" text-anchor="middle" stroke="#000">-</text>
<text x="665.2" y="299.5" font-size="9.5" text-anchor="middle" stroke="#000">-</text>
<text x="521" y="315.7" font-size="9.5" text-anchor="middle" stroke="#000">-</text>
<text x="538.8" y="315.7" font-size="9.5" text-anchor="middle" stroke="#000">-</text>
<text x="556.7" y="315.7" font-size="9.5" text-anchor="middle" stroke="#000">-</text>
<text x="574.8" y="315.7" font-size="9.5" text-anchor="middle" stroke="#000">-</text>
<text x="612" y="315.7" font-size="9.5" text-anchor="middle" stroke="#000">-</text>
<text x="629.7" y="315.7" font-size="9.5" text-anchor="middle" stroke="#000">-</text>
<text x="647.4" y="315.7" font-size="9.5" text-anchor="middle" stroke="#000">+</text>
<text x="665.2" y="315.7" font-size="9.5" text-anchor="middle" stroke="#000">+</text>
<text x="521" y="328.9" font-size="9.5" text-anchor="middle" stroke="#000">-</text>
<text x="538.8" y="328.9" font-size="9.5" text-anchor="middle" stroke="#000">+</text>
<text x="556.7" y="328.9" font-size="9.5" text-anchor="middle" stroke="#000">-</text>
<text x="574.8" y="328.9" font-size="9.5" text-anchor="middle" stroke="#000">+</text>
<text x="612" y="328.9" font-size="9.5" text-anchor="middle" stroke="#000">-</text>
<text x="629.7" y="328.9" font-size="9.5" text-anchor="middle" stroke="#000">+</text>
<text x="647.4" y="328.9" font-size="9.5" text-anchor="middle" stroke="#000">-</text>
<text x="665.2" y="328.9" font-size="9.5" text-anchor="middle" stroke="#000">+</text>
<rect x="510.5" y="333.8" width="166.4" height="20.5" fill="#f9f9f9" stroke="#7a7a7a" stroke-width="0.9"/>
<rect x="510.5" y="356.4" width="166.4" height="19.5" fill="#f9f9f9" stroke="#7a7a7a" stroke-width="0.9"/>
<rect x="510.5" y="378.6" width="166.4" height="45.9" fill="#f9f9f9" stroke="#7a7a7a" stroke-width="0.9"/>
<rect x="510.5" y="426.7" width="166.4" height="19.5" fill="url(#a3cbg)" stroke="#7a7a7a" stroke-width="0.9"/>
<text x="507.4" y="347.54" font-size="9.9" text-anchor="end" stroke="#000">p-Chk1<tspan font-size="5.4" dy="-3.31">Ser345</tspan></text>
<text x="507.4" y="369.74" font-size="9.9" text-anchor="end" stroke="#000">t-Chk1</text>
<text x="507.4" y="395.14" font-size="9.9" text-anchor="end" stroke="#000">GAPDH</text>
<text x="507.4" y="415.94" font-size="9.9" text-anchor="end" stroke="#000">FLAG</text>
<text x="507.4" y="438.34" font-size="9.9" text-anchor="end" stroke="#000">A3C</text>
<rect x="516.8" y="342.7" width="13" height="3" rx="1.5" fill="#000" opacity="0.08" filter="url(#wb2)"/>
<rect x="533.3" y="341.2" width="15" height="6" rx="3" fill="#000" opacity="1" filter="url(#wb1)"/>
<rect x="551.2" y="342.5" width="14" height="3.4" rx="1.7" fill="#000" opacity="0.36" filter="url(#wb2)"/>
<rect x="567.05" y="339.45" width="17.5" height="9.5" rx="4.75" fill="#000" opacity="1" filter="url(#wb1)"/>
<rect x="603.3" y="342.7" width="13" height="3" rx="1.5" fill="#000" opacity="0.08" filter="url(#wb2)"/>
<rect x="619.7" y="341.55" width="15" height="5.3" rx="2.65" fill="#000" opacity="1" filter="url(#wb1)"/>
<rect x="638.5" y="342.8" width="13" height="2.8" rx="1.4" fill="#000" opacity="0.18" filter="url(#wb2)"/>
<rect x="655.1" y="339.95" width="17" height="8.5" rx="4.25" fill="#000" opacity="1" filter="url(#wb1)"/>
<rect x="515.7" y="364.8" width="15.2" height="3.6" rx="1.8" fill="#000" opacity="0.95" filter="url(#wb1)"/>
<rect x="533.2" y="364.8" width="15.2" height="3.6" rx="1.8" fill="#000" opacity="0.95" filter="url(#wb1)"/>
<rect x="550.6" y="364.8" width="15.2" height="3.6" rx="1.8" fill="#000" opacity="0.95" filter="url(#wb1)"/>
<rect x="568.2" y="364.8" width="15.2" height="3.6" rx="1.8" fill="#000" opacity="0.95" filter="url(#wb1)"/>
<rect x="602.2" y="364.8" width="15.2" height="3.6" rx="1.8" fill="#000" opacity="0.95" filter="url(#wb1)"/>
<rect x="619.6" y="364.8" width="15.2" height="3.6" rx="1.8" fill="#000" opacity="0.95" filter="url(#wb1)"/>
<rect x="637.4" y="364.8" width="15.2" height="3.6" rx="1.8" fill="#000" opacity="0.95" filter="url(#wb1)"/>
<rect x="656" y="364.8" width="15.2" height="3.6" rx="1.8" fill="#000" opacity="0.95" filter="url(#wb1)"/>
<rect x="515.3" y="386.3" width="16" height="5.6" rx="2.8" fill="#000" opacity="1" filter="url(#wb1)"/>
<rect x="532.8" y="386.3" width="16" height="5.6" rx="2.8" fill="#000" opacity="1" filter="url(#wb1)"/>
<rect x="549.7" y="385.45" width="17" height="7.3" rx="3.65" fill="#000" opacity="1" filter="url(#wb1)"/>
<rect x="567.3" y="385.45" width="17" height="7.3" rx="3.65" fill="#000" opacity="1" filter="url(#wb1)"/>
<rect x="602.55" y="386.8" width="14.5" height="4.6" rx="2.3" fill="#000" opacity="1" filter="url(#wb1)"/>
<rect x="619.35" y="386.35" width="15.7" height="5.5" rx="2.75" fill="#000" opacity="1" filter="url(#wb1)"/>
<rect x="636.15" y="385.15" width="17.7" height="7.9" rx="3.95" fill="#000" opacity="1" filter="url(#wb1)"/>
<rect x="654.75" y="385.15" width="17.7" height="7.9" rx="3.95" fill="#000" opacity="1" filter="url(#wb1)"/>
<rect x="550.7" y="408.1" width="14" height="4.4" rx="2.2" fill="#000" opacity="1" filter="url(#wb1)"/>
<rect x="568.3" y="408.1" width="14" height="4.4" rx="2.2" fill="#000" opacity="1" filter="url(#wb1)"/>
<rect x="637.5" y="408.1" width="14" height="4.4" rx="2.2" fill="#000" opacity="1" filter="url(#wb1)"/>
<rect x="656.1" y="408.1" width="14" height="4.4" rx="2.2" fill="#000" opacity="1" filter="url(#wb1)"/>
<rect x="535.8" y="409.3" width="10" height="1.4" rx="0.7" fill="#000" opacity="0.07" filter="url(#wb2)"/>
<rect x="622.2" y="409.3" width="10" height="1.4" rx="0.7" fill="#000" opacity="0.07" filter="url(#wb2)"/>
<rect x="580.55" y="411.9" width="3.5" height="2.6" rx="1.3" fill="#000" opacity="0.9" filter="url(#wb1)"/>
<rect x="550.7" y="435.7" width="15" height="3" rx="1.5" fill="#000" opacity="0.5" filter="url(#wb1)"/>
<rect x="568.3" y="435.7" width="15" height="3" rx="1.5" fill="#000" opacity="0.45" filter="url(#wb1)"/>
<rect x="637.5" y="435.4" width="15" height="3.6" rx="1.8" fill="#000" opacity="1" filter="url(#wb1)"/>
<rect x="656.35" y="435" width="16.5" height="4.4" rx="2.2" fill="#000" opacity="1" filter="url(#wb1)"/>
<rect x="517.3" y="436.5" width="12" height="2" rx="1" fill="#000" opacity="0.05" filter="url(#wb2)"/>
<rect x="534.8" y="436.5" width="12" height="2" rx="1" fill="#000" opacity="0.05" filter="url(#wb2)"/>
<rect x="603.8" y="436.5" width="12" height="2" rx="1" fill="#000" opacity="0.05" filter="url(#wb2)"/>
<rect x="621.2" y="436.5" width="12" height="2" rx="1" fill="#000" opacity="0.05" filter="url(#wb2)"/>
<text x="1" y="489.15" font-size="15.5" font-weight="bold" stroke="#000">H</text>
<text x="122.2" y="492.23" font-size="9.3" text-anchor="middle" font-weight="bold" stroke="#000">H1299-A3C<tspan font-size="5.6" dy="-3.43">OE</tspan></text>
<line x1="60.4" y1="495.5" x2="174.7" y2="495.5" stroke="#000" stroke-width="0.8"/>
<text x="76.5" y="507.7" font-size="9.5" text-anchor="middle" stroke="#000">shCon</text>
<text x="115.6" y="507.7" font-size="9.5" text-anchor="middle" stroke="#000">shA3C#1</text>
<text x="157.6" y="507.7" font-size="9.5" text-anchor="middle" stroke="#000">shA3C#2</text>
<line x1="60.4" y1="510.8" x2="95" y2="510.8" stroke="#000" stroke-width="0.8"/>
<line x1="96.3" y1="510.8" x2="135.3" y2="510.8" stroke="#000" stroke-width="0.8"/>
<line x1="137.9" y1="510.8" x2="176" y2="510.8" stroke="#000" stroke-width="0.8"/>
<text x="56.6" y="522.5" font-size="9.5" text-anchor="end" stroke="#000">GEM (1 <tspan font-style="italic">μ</tspan>M)</text>
<text x="70.2" y="522.1" font-size="9.5" text-anchor="middle" stroke="#000">-</text>
<text x="88.6" y="522.1" font-size="9.5" text-anchor="middle" stroke="#000">+</text>
<text x="107" y="522.1" font-size="9.5" text-anchor="middle" stroke="#000">-</text>
<text x="125.4" y="522.1" font-size="9.5" text-anchor="middle" stroke="#000">+</text>
<text x="143.8" y="522.1" font-size="9.5" text-anchor="middle" stroke="#000">-</text>
<text x="162.2" y="522.1" font-size="9.5" text-anchor="middle" stroke="#000">+</text>
<rect x="58.4" y="525.9" width="117.1" height="20.5" fill="#f9f9f9" stroke="#7a7a7a" stroke-width="0.9"/>
<rect x="58.4" y="547.7" width="117.1" height="20.9" fill="#f9f9f9" stroke="#7a7a7a" stroke-width="0.9"/>
<rect x="58.4" y="569.9" width="117.1" height="20.5" fill="#f9f9f9" stroke="#7a7a7a" stroke-width="0.9"/>
<rect x="58.4" y="592.3" width="117.1" height="20.2" fill="#f9f9f9" stroke="#7a7a7a" stroke-width="0.9"/>
<rect x="58.4" y="613.8" width="117.1" height="20.5" fill="#f9f9f9" stroke="#7a7a7a" stroke-width="0.9"/>
<text x="54.6" y="541.3" font-size="9.5" text-anchor="end" stroke="#000">FLAG</text>
<text x="54.6" y="564.1" font-size="9.5" text-anchor="end" stroke="#000">A3C</text>
<text x="54.6" y="586.4" font-size="9.5" text-anchor="end" stroke="#000">p-Chk1<tspan font-size="5.4" dy="-3.31">Ser345</tspan></text>
<text x="54.6" y="607" font-size="9.5" text-anchor="end" stroke="#000">t-Chk1</text>
<text x="54.6" y="628.5" font-size="9.5" text-anchor="end" stroke="#000">GAPDH</text>
<rect x="60" y="528.5" width="40" height="16" rx="8" fill="#000" opacity="0.12" filter="url(#wb2)"/>
<rect x="61.7" y="531" width="17.6" height="10.2" rx="5.1" fill="#000" opacity="1" filter="url(#wb1)"/>
<rect x="80.7" y="531.9" width="16.4" height="8.6" rx="4.3" fill="#000" opacity="1" filter="url(#wb1)"/>
<rect x="100.75" y="534.8" width="12.5" height="3.6" rx="1.8" fill="#000" opacity="0.5" filter="url(#wb2)"/>
<rect x="119.05" y="535.1" width="12.5" height="3" rx="1.5" fill="#000" opacity="0.3" filter="url(#wb2)"/>
<rect x="137.9" y="534.7" width="13" height="3.6" rx="1.8" fill="#000" opacity="0.55" filter="url(#wb2)"/>
<rect x="156.85" y="535.1" width="13.5" height="3" rx="1.5" fill="#000" opacity="0.28" filter="url(#wb2)"/>
<rect x="103" y="530.75" width="10" height="1.5" rx="0.75" fill="#000" opacity="0.08" filter="url(#wb2)"/>
<rect x="64" y="555.9" width="14" height="4.2" rx="2.1" fill="#000" opacity="0.85" filter="url(#wb1)"/>
<rect x="82.25" y="555.5" width="14.5" height="5" rx="2.5" fill="#000" opacity="0.97" filter="url(#wb1)"/>
<rect x="102" y="556.5" width="12" height="3" rx="1.5" fill="#000" opacity="0.35" filter="url(#wb2)"/>
<rect x="119.7" y="556.5" width="13" height="3" rx="1.5" fill="#000" opacity="0.28" filter="url(#wb2)"/>
<rect x="137.7" y="556.2" width="13" height="3.6" rx="1.8" fill="#000" opacity="0.55" filter="url(#wb1)"/>
<rect x="155.8" y="556.5" width="13" height="3" rx="1.5" fill="#000" opacity="0.3" filter="url(#wb2)"/>
<rect x="64.5" y="579.65" width="13" height="2.5" rx="1.25" fill="#000" opacity="0.08" filter="url(#wb2)"/>
<rect x="82.25" y="578.4" width="14.5" height="5" rx="2.5" fill="#000" opacity="1" filter="url(#wb1)"/>
<rect x="102" y="579.6" width="12" height="2.6" rx="1.3" fill="#000" opacity="0.15" filter="url(#wb2)"/>
<rect x="117.95" y="579" width="14.5" height="3.8" rx="1.9" fill="#000" opacity="0.95" filter="url(#wb1)"/>
<rect x="138.2" y="579.7" width="12" height="2.4" rx="1.2" fill="#000" opacity="0.05" filter="url(#wb2)"/>
<rect x="155.55" y="579.3" width="13.5" height="3.2" rx="1.6" fill="#000" opacity="0.6" filter="url(#wb1)"/>
<rect x="63.8" y="601.2" width="15.4" height="3.2" rx="1.6" fill="#000" opacity="0.95" filter="url(#wb1)"/>
<rect x="82" y="601.2" width="15.4" height="3.2" rx="1.6" fill="#000" opacity="0.95" filter="url(#wb1)"/>
<rect x="100.3" y="601.2" width="15.4" height="3.2" rx="1.6" fill="#000" opacity="0.95" filter="url(#wb1)"/>
<rect x="118.5" y="601.2" width="15.4" height="3.2" rx="1.6" fill="#000" opacity="0.95" filter="url(#wb1)"/>
<rect x="136.4" y="601.2" width="15.4" height="3.2" rx="1.6" fill="#000" opacity="0.95" filter="url(#wb1)"/>
<rect x="154.5" y="601.2" width="15.4" height="3.2" rx="1.6" fill="#000" opacity="0.95" filter="url(#wb1)"/>
<rect x="62.3" y="620.8" width="17" height="6.2" rx="3.1" fill="#000" opacity="1" filter="url(#wb1)"/>
<rect x="80.8" y="620.8" width="17" height="6.2" rx="3.1" fill="#000" opacity="1" filter="url(#wb1)"/>
<rect x="98.1" y="620.8" width="17" height="6.2" rx="3.1" fill="#000" opacity="1" filter="url(#wb1)"/>
<rect x="116.8" y="620.8" width="17" height="6.2" rx="3.1" fill="#000" opacity="1" filter="url(#wb1)"/>
<rect x="135.5" y="620.8" width="17" height="6.2" rx="3.1" fill="#000" opacity="1" filter="url(#wb1)"/>
<rect x="154.6" y="620.8" width="17" height="6.2" rx="3.1" fill="#000" opacity="1" filter="url(#wb1)"/>
<text x="204" y="489.15" font-size="15.5" text-anchor="middle" font-weight="bold" stroke="#000">I</text>
<text x="263.3" y="467.74" font-size="9.6" text-anchor="middle" font-weight="bold" fill="#c42a2a" stroke="#c42a2a">CldU</text>
<text x="317.6" y="467.74" font-size="9.6" text-anchor="middle" font-weight="bold" fill="#44a532" stroke="#44a532">IdU</text>
<line x1="235.2" y1="470.5" x2="287.5" y2="470.5" stroke="#d9453a" stroke-width="0.9"/>
<path d="M286.0,468.4 L290.6,470.5 L286.0,472.6 Z" fill="#d9453a"/>
<line x1="291" y1="470.5" x2="344" y2="470.5" stroke="#4cb53a" stroke-width="0.9"/>
<path d="M342.6,468.4 L347.2,470.5 L342.6,472.6 Z" fill="#4cb53a"/>
<text x="262.2" y="480.89" font-size="9.2" text-anchor="middle" stroke="#000">30 min</text>
<text x="315.9" y="480.89" font-size="9.2" text-anchor="middle" stroke="#000">30 min</text>
<rect x="234.7" y="484" width="110.8" height="15.6" fill="#000"/>
<rect x="234.7" y="501.3" width="110.8" height="15.1" fill="#000"/>
<text x="232.4" y="494.89" font-size="9.2" text-anchor="end" stroke="#000">Fast</text>
<text x="232.4" y="511.29" font-size="9.2" text-anchor="end" stroke="#000">Slow</text>
<g filter="url(#fib)" stroke-linecap="round" fill="none">
<path d="M235.8,495 Q237.5,490.5 240.5,489.3 L243.5,487.5 Q247,485.8 251,486.5 L253.5,487.5 M259.5,487.8 Q264,489 267,490.2 L270.5,490.8" stroke="#f02a1a" stroke-width="3.0"/>
<path d="M244,486.6 L249.5,486.2" stroke="#f02a1a" stroke-width="3.6"/>
<path d="M256.2,487.2 L258.8,487.6" stroke="#e8e23a" stroke-width="3.6"/>
<path d="M238.8,491.2 L239.8,490.3" stroke="#e8e23a" stroke-width="2.2"/>
<circle cx="253.2" cy="494.4" r="1.3" fill="#f02a1a"/>
<path d="M272.4,491.0 L273.2,491.6" stroke="#2ee01e" stroke-width="2.0"/>
<circle cx="278.3" cy="493.2" r="0.7" fill="#2ee01e"/>
<circle cx="283.6" cy="494" r="0.6" fill="#2ee01e"/>
<circle cx="298.5" cy="490.6" r="0.7" fill="#2ee01e"/>
<circle cx="292" cy="496.4" r="0.9" fill="#2ee01e"/>
<circle cx="296" cy="497" r="0.9" fill="#2ee01e"/>
<circle cx="283" cy="487" r="0.5" fill="#2ee01e"/>
<circle cx="319" cy="485.3" r="0.5" fill="#2ee01e"/>
<path d="M305.0,497.6 L305.6,497.8 M313.6,497.0 L315.4,496.4 M321.2,495.0 L325,494.2 Q329,493.4 332,492 L336,490.2" stroke="#2ee01e" stroke-width="2.9"/>
<path d="M239.2,507.6 Q240,511 243,512 L246.5,512.2 Q249,511.5 251,509.6 L253.5,507.6 Q255.5,506.4 257.5,506.2" stroke="#f02a1a" stroke-width="3.0"/>
<path d="M258.5,505.3 L262,504.4 M263.8,504.4 L267.2,505.2 M271,506.2 L274,507.8 Q277.5,509.5 280,510.6" stroke="#2ee01e" stroke-width="3.0"/>
<path d="M249.3,509.2 L250.2,508.7" stroke="#e8e23a" stroke-width="2.6"/>
<path d="M257.0,506.0 L258.0,505.6" stroke="#e8e23a" stroke-width="2.6"/>
</g>
<line x1="290" y1="513.2" x2="344.6" y2="513.2" stroke="#fff" stroke-width="1.1"/>
<text x="316.5" y="510.64" font-size="9.6" text-anchor="middle" fill="#fff" stroke="#fff">5 μm</text>
<line x1="241.4" y1="528.36" x2="241.4" y2="607.4" stroke="#000" stroke-width="0.8"/>
<line x1="241.4" y1="607.4" x2="349.5" y2="607.4" stroke="#000" stroke-width="0.8"/>
<line x1="238.2" y1="607.4" x2="241.4" y2="607.4" stroke="#000" stroke-width="0.8"/>
<text x="236.5" y="610.91" font-size="9.8" text-anchor="end" stroke="#000">0.0</text>
<line x1="238.2" y1="587.64" x2="241.4" y2="587.64" stroke="#000" stroke-width="0.8"/>
<text x="236.5" y="591.15" font-size="9.8" text-anchor="end" stroke="#000">0.2</text>
<line x1="238.2" y1="567.88" x2="241.4" y2="567.88" stroke="#000" stroke-width="0.8"/>
<text x="236.5" y="571.39" font-size="9.8" text-anchor="end" stroke="#000">0.4</text>
<line x1="238.2" y1="548.12" x2="241.4" y2="548.12" stroke="#000" stroke-width="0.8"/>
<text x="236.5" y="551.63" font-size="9.8" text-anchor="end" stroke="#000">0.6</text>
<line x1="238.2" y1="528.36" x2="241.4" y2="528.36" stroke="#000" stroke-width="0.8"/>
<text x="236.5" y="531.87" font-size="9.8" text-anchor="end" stroke="#000">0.8</text>
<line x1="258.1" y1="607.4" x2="258.1" y2="610.4" stroke="#000" stroke-width="0.8"/>
<line x1="297.8" y1="607.4" x2="297.8" y2="610.4" stroke="#000" stroke-width="0.8"/>
<line x1="336.3" y1="607.4" x2="336.3" y2="610.4" stroke="#000" stroke-width="0.8"/>
<text x="214.3" y="570.03" font-size="9.3" text-anchor="middle" stroke="#000" transform="rotate(-90 214.3 566.7)">Fork speed (kb/min)</text>
<text x="258.1" y="621.57" font-size="9.4" text-anchor="middle" stroke="#000">shCon</text>
<text x="297.8" y="621.57" font-size="9.4" text-anchor="middle" stroke="#000">shA3C#1</text>
<text x="336.3" y="621.57" font-size="9.4" text-anchor="middle" stroke="#000">shA3C#2</text>
<line x1="240.5" y1="625.6" x2="355" y2="625.6" stroke="#000" stroke-width="0.8"/>
<text x="299.9" y="636.03" font-size="9.3" text-anchor="middle" font-weight="bold" stroke="#000">H1299-A3C<tspan font-size="5.6" dy="-3.43">OE</tspan></text>
<line x1="258.1" y1="527.5" x2="337.2" y2="527.5" stroke="#000" stroke-width="0.8"/>
<line x1="258.1" y1="527.5" x2="258.1" y2="533.5" stroke="#000" stroke-width="0.8"/>
<line x1="337" y1="527.5" x2="337" y2="533.4" stroke="#000" stroke-width="0.8"/>
<line x1="258.1" y1="535.4" x2="298.6" y2="535.4" stroke="#000" stroke-width="0.8"/>
<line x1="258.1" y1="535.4" x2="258.1" y2="541.9" stroke="#000" stroke-width="0.8"/>
<line x1="298.4" y1="535.4" x2="298.4" y2="541.2" stroke="#000" stroke-width="0.8"/>
<text x="279.1" y="540.83" font-size="17.9" font-weight="bold" text-anchor="middle">***</text>
<text x="323.5" y="532.63" font-size="17.9" font-weight="bold" text-anchor="middle">***</text>
<circle cx="265.58" cy="589.21" r="1.35" fill="#fff" stroke="#1a1a1a" stroke-width="0.75"/>
<circle cx="253.45" cy="582.29" r="1.35" fill="#fff" stroke="#1a1a1a" stroke-width="0.75"/>
<circle cx="248.11" cy="588.98" r="1.35" fill="#fff" stroke="#1a1a1a" stroke-width="0.75"/>
<circle cx="257.49" cy="589.66" r="1.35" fill="#fff" stroke="#1a1a1a" stroke-width="0.75"/>
<circle cx="252.35" cy="593.7" r="1.35" fill="#fff" stroke="#1a1a1a" stroke-width="0.75"/>
<circle cx="252.73" cy="588.88" r="1.35" fill="#fff" stroke="#1a1a1a" stroke-width="0.75"/>
<circle cx="262.73" cy="575.09" r="1.35" fill="#fff" stroke="#1a1a1a" stroke-width="0.75"/>
<circle cx="262.65" cy="583.2" r="1.35" fill="#fff" stroke="#1a1a1a" stroke-width="0.75"/>
<circle cx="255.33" cy="576.09" r="1.35" fill="#fff" stroke="#1a1a1a" stroke-width="0.75"/>
<circle cx="267.69" cy="584.91" r="1.35" fill="#fff" stroke="#1a1a1a" stroke-width="0.75"/>
<circle cx="247.33" cy="583.49" r="1.35" fill="#fff" stroke="#1a1a1a" stroke-width="0.75"/>
<circle cx="258.06" cy="585.51" r="1.35" fill="#fff" stroke="#1a1a1a" stroke-width="0.75"/>
<circle cx="261.47" cy="597.34" r="1.35" fill="#fff" stroke="#1a1a1a" stroke-width="0.75"/>
<circle cx="264.77" cy="578.39" r="1.35" fill="#fff" stroke="#1a1a1a" stroke-width="0.75"/>
<circle cx="256.38" cy="582.35" r="1.35" fill="#fff" stroke="#1a1a1a" stroke-width="0.75"/>
<circle cx="266.1" cy="582.43" r="1.35" fill="#fff" stroke="#1a1a1a" stroke-width="0.75"/>
<circle cx="256.22" cy="597.45" r="1.35" fill="#fff" stroke="#1a1a1a" stroke-width="0.75"/>
<circle cx="253.04" cy="597.66" r="1.35" fill="#fff" stroke="#1a1a1a" stroke-width="0.75"/>
<circle cx="266.17" cy="593.46" r="1.35" fill="#fff" stroke="#1a1a1a" stroke-width="0.75"/>
<circle cx="260.9" cy="590.76" r="1.35" fill="#fff" stroke="#1a1a1a" stroke-width="0.75"/>
<circle cx="250.93" cy="584.37" r="1.35" fill="#fff" stroke="#1a1a1a" stroke-width="0.75"/>
<circle cx="260.54" cy="587.53" r="1.35" fill="#fff" stroke="#1a1a1a" stroke-width="0.75"/>
<circle cx="249.56" cy="582.19" r="1.35" fill="#fff" stroke="#1a1a1a" stroke-width="0.75"/>
<circle cx="255.6" cy="591.93" r="1.35" fill="#fff" stroke="#1a1a1a" stroke-width="0.75"/>
<circle cx="265.07" cy="584.34" r="1.35" fill="#fff" stroke="#1a1a1a" stroke-width="0.75"/>
<circle cx="259.93" cy="583.5" r="1.35" fill="#fff" stroke="#1a1a1a" stroke-width="0.75"/>
<circle cx="263.52" cy="592.06" r="1.35" fill="#fff" stroke="#1a1a1a" stroke-width="0.75"/>
<circle cx="257.18" cy="565.73" r="1.35" fill="#fff" stroke="#1a1a1a" stroke-width="0.75"/>
<circle cx="260.88" cy="581.81" r="1.35" fill="#fff" stroke="#1a1a1a" stroke-width="0.75"/>
<circle cx="258.68" cy="573.92" r="1.35" fill="#fff" stroke="#1a1a1a" stroke-width="0.75"/>
<circle cx="248.48" cy="591.79" r="1.35" fill="#fff" stroke="#1a1a1a" stroke-width="0.75"/>
<circle cx="258.5" cy="592.55" r="1.35" fill="#fff" stroke="#1a1a1a" stroke-width="0.75"/>
<circle cx="268.38" cy="589.87" r="1.35" fill="#fff" stroke="#1a1a1a" stroke-width="0.75"/>
<circle cx="255.47" cy="588.03" r="1.35" fill="#fff" stroke="#1a1a1a" stroke-width="0.75"/>
<circle cx="264.41" cy="580.99" r="1.35" fill="#fff" stroke="#1a1a1a" stroke-width="0.75"/>
<circle cx="261.73" cy="584.92" r="1.35" fill="#fff" stroke="#1a1a1a" stroke-width="0.75"/>
<circle cx="251.36" cy="590.62" r="1.35" fill="#fff" stroke="#1a1a1a" stroke-width="0.75"/>
<circle cx="262.06" cy="593.85" r="1.35" fill="#fff" stroke="#1a1a1a" stroke-width="0.75"/>
<circle cx="266.65" cy="591.12" r="1.35" fill="#fff" stroke="#1a1a1a" stroke-width="0.75"/>
<circle cx="254.21" cy="573.58" r="1.35" fill="#fff" stroke="#1a1a1a" stroke-width="0.75"/>
<circle cx="260.6" cy="592.97" r="1.35" fill="#fff" stroke="#1a1a1a" stroke-width="0.75"/>
<circle cx="254.91" cy="584.95" r="1.35" fill="#fff" stroke="#1a1a1a" stroke-width="0.75"/>
<circle cx="268.61" cy="583.17" r="1.35" fill="#fff" stroke="#1a1a1a" stroke-width="0.75"/>
<circle cx="258.26" cy="596.57" r="1.35" fill="#fff" stroke="#1a1a1a" stroke-width="0.75"/>
<circle cx="249.72" cy="586.73" r="1.35" fill="#fff" stroke="#1a1a1a" stroke-width="0.75"/>
<circle cx="260.79" cy="572.34" r="1.35" fill="#fff" stroke="#1a1a1a" stroke-width="0.75"/>
<circle cx="258.56" cy="598.71" r="1.35" fill="#fff" stroke="#1a1a1a" stroke-width="0.75"/>
<circle cx="253.96" cy="589.7" r="1.35" fill="#fff" stroke="#1a1a1a" stroke-width="0.75"/>
<circle cx="262.97" cy="588.03" r="1.35" fill="#fff" stroke="#1a1a1a" stroke-width="0.75"/>
<circle cx="256.93" cy="593.03" r="1.35" fill="#fff" stroke="#1a1a1a" stroke-width="0.75"/>
<circle cx="267.38" cy="582.44" r="1.35" fill="#fff" stroke="#1a1a1a" stroke-width="0.75"/>
<circle cx="267.36" cy="587.67" r="1.35" fill="#fff" stroke="#1a1a1a" stroke-width="0.75"/>
<circle cx="263.61" cy="596.45" r="1.35" fill="#fff" stroke="#1a1a1a" stroke-width="0.75"/>
<circle cx="251.7" cy="578.72" r="1.35" fill="#fff" stroke="#1a1a1a" stroke-width="0.75"/>
<circle cx="251.05" cy="580.57" r="1.35" fill="#fff" stroke="#1a1a1a" stroke-width="0.75"/>
<circle cx="259.75" cy="577.27" r="1.35" fill="#fff" stroke="#1a1a1a" stroke-width="0.75"/>
<circle cx="257.11" cy="570.31" r="1.35" fill="#fff" stroke="#1a1a1a" stroke-width="0.75"/>
<circle cx="257.9" cy="583.82" r="1.35" fill="#fff" stroke="#1a1a1a" stroke-width="0.75"/>
<circle cx="252.59" cy="586.11" r="1.35" fill="#fff" stroke="#1a1a1a" stroke-width="0.75"/>
<circle cx="260.03" cy="595.66" r="1.35" fill="#fff" stroke="#1a1a1a" stroke-width="0.75"/>
<circle cx="258.7" cy="581.17" r="1.35" fill="#fff" stroke="#1a1a1a" stroke-width="0.75"/>
<circle cx="264.93" cy="591.74" r="1.35" fill="#fff" stroke="#1a1a1a" stroke-width="0.75"/>
<circle cx="262.37" cy="590.65" r="1.35" fill="#fff" stroke="#1a1a1a" stroke-width="0.75"/>
<circle cx="253.61" cy="595.49" r="1.35" fill="#fff" stroke="#1a1a1a" stroke-width="0.75"/>
<circle cx="250.19" cy="593.91" r="1.35" fill="#fff" stroke="#1a1a1a" stroke-width="0.75"/>
<circle cx="257.35" cy="591.2" r="1.35" fill="#fff" stroke="#1a1a1a" stroke-width="0.75"/>
<circle cx="256.7" cy="572.6" r="1.35" fill="#fff" stroke="#1a1a1a" stroke-width="0.75"/>
<circle cx="260.61" cy="598.77" r="1.35" fill="#fff" stroke="#1a1a1a" stroke-width="0.75"/>
<circle cx="252.15" cy="596.42" r="1.35" fill="#fff" stroke="#1a1a1a" stroke-width="0.75"/>
<circle cx="263.07" cy="585" r="1.35" fill="#fff" stroke="#1a1a1a" stroke-width="0.75"/>
<circle cx="260.75" cy="570.27" r="1.35" fill="#fff" stroke="#1a1a1a" stroke-width="0.75"/>
<circle cx="262.84" cy="581.58" r="1.35" fill="#fff" stroke="#1a1a1a" stroke-width="0.75"/>
<circle cx="254.45" cy="598.28" r="1.35" fill="#fff" stroke="#1a1a1a" stroke-width="0.75"/>
<circle cx="256.12" cy="600.37" r="1.35" fill="#fff" stroke="#1a1a1a" stroke-width="0.75"/>
<circle cx="253.68" cy="583.87" r="1.35" fill="#fff" stroke="#1a1a1a" stroke-width="0.75"/>
<circle cx="251.29" cy="592.53" r="1.35" fill="#fff" stroke="#1a1a1a" stroke-width="0.75"/>
<circle cx="255.7" cy="594.75" r="1.35" fill="#fff" stroke="#1a1a1a" stroke-width="0.75"/>
<circle cx="257.37" cy="576.87" r="1.35" fill="#fff" stroke="#1a1a1a" stroke-width="0.75"/>
<circle cx="253.15" cy="575.23" r="1.35" fill="#fff" stroke="#1a1a1a" stroke-width="0.75"/>
<circle cx="247.26" cy="585.76" r="1.35" fill="#fff" stroke="#1a1a1a" stroke-width="0.75"/>
<circle cx="266.36" cy="584.94" r="1.35" fill="#fff" stroke="#1a1a1a" stroke-width="0.75"/>
<circle cx="251.85" cy="583.09" r="1.35" fill="#fff" stroke="#1a1a1a" stroke-width="0.75"/>
<circle cx="259.16" cy="567.84" r="1.35" fill="#fff" stroke="#1a1a1a" stroke-width="0.75"/>
<circle cx="254.33" cy="581.13" r="1.35" fill="#fff" stroke="#1a1a1a" stroke-width="0.75"/>
<circle cx="263.75" cy="582.22" r="1.35" fill="#fff" stroke="#1a1a1a" stroke-width="0.75"/>
<circle cx="255.46" cy="581.91" r="1.35" fill="#fff" stroke="#1a1a1a" stroke-width="0.75"/>
<circle cx="259.21" cy="596.92" r="1.35" fill="#fff" stroke="#1a1a1a" stroke-width="0.75"/>
<circle cx="259.49" cy="572.7" r="1.35" fill="#fff" stroke="#1a1a1a" stroke-width="0.75"/>
<circle cx="262.49" cy="577.15" r="1.35" fill="#fff" stroke="#1a1a1a" stroke-width="0.75"/>
<circle cx="248.13" cy="582.1" r="1.35" fill="#fff" stroke="#1a1a1a" stroke-width="0.75"/>
<circle cx="256.87" cy="598.56" r="1.35" fill="#fff" stroke="#1a1a1a" stroke-width="0.75"/>
<circle cx="254" cy="591.88" r="1.35" fill="#fff" stroke="#1a1a1a" stroke-width="0.75"/>
<circle cx="255.33" cy="578.55" r="1.35" fill="#fff" stroke="#1a1a1a" stroke-width="0.75"/>
<circle cx="260.01" cy="597.93" r="1.35" fill="#fff" stroke="#1a1a1a" stroke-width="0.75"/>
<circle cx="259.71" cy="588.65" r="1.35" fill="#fff" stroke="#1a1a1a" stroke-width="0.75"/>
<circle cx="260.93" cy="576.32" r="1.35" fill="#fff" stroke="#1a1a1a" stroke-width="0.75"/>
<circle cx="261.93" cy="595.72" r="1.35" fill="#fff" stroke="#1a1a1a" stroke-width="0.75"/>
<circle cx="256.48" cy="567.57" r="1.35" fill="#fff" stroke="#1a1a1a" stroke-width="0.75"/>
<circle cx="251.2" cy="581.86" r="1.35" fill="#fff" stroke="#1a1a1a" stroke-width="0.75"/>
<circle cx="250.93" cy="588.38" r="1.35" fill="#fff" stroke="#1a1a1a" stroke-width="0.75"/>
<circle cx="248.73" cy="584.19" r="1.35" fill="#fff" stroke="#1a1a1a" stroke-width="0.75"/>
<circle cx="266.64" cy="580.79" r="1.35" fill="#fff" stroke="#1a1a1a" stroke-width="0.75"/>
<circle cx="269.26" cy="586.1" r="1.35" fill="#fff" stroke="#1a1a1a" stroke-width="0.75"/>
<circle cx="256.44" cy="574.63" r="1.35" fill="#fff" stroke="#1a1a1a" stroke-width="0.75"/>
<circle cx="252.64" cy="592.06" r="1.35" fill="#fff" stroke="#1a1a1a" stroke-width="0.75"/>
<circle cx="249.54" cy="590.38" r="1.35" fill="#fff" stroke="#1a1a1a" stroke-width="0.75"/>
<circle cx="258.68" cy="576.03" r="1.35" fill="#fff" stroke="#1a1a1a" stroke-width="0.75"/>
<circle cx="253.93" cy="586.92" r="1.35" fill="#fff" stroke="#1a1a1a" stroke-width="0.75"/>
<circle cx="254.44" cy="593.41" r="1.35" fill="#fff" stroke="#1a1a1a" stroke-width="0.75"/>
<circle cx="253.6" cy="577.26" r="1.35" fill="#fff" stroke="#1a1a1a" stroke-width="0.75"/>
<circle cx="258.66" cy="569.92" r="1.35" fill="#fff" stroke="#1a1a1a" stroke-width="0.75"/>
<circle cx="256.17" cy="590.6" r="1.35" fill="#fff" stroke="#1a1a1a" stroke-width="0.75"/>
<circle cx="254.94" cy="596.06" r="1.35" fill="#fff" stroke="#1a1a1a" stroke-width="0.75"/>
<circle cx="256.88" cy="588.26" r="1.35" fill="#fff" stroke="#1a1a1a" stroke-width="0.75"/>
<circle cx="268.6" cy="588.37" r="1.35" fill="#fff" stroke="#1a1a1a" stroke-width="0.75"/>
<circle cx="262.45" cy="589.53" r="1.35" fill="#fff" stroke="#1a1a1a" stroke-width="0.75"/>
<circle cx="255.39" cy="570.86" r="1.35" fill="#fff" stroke="#1a1a1a" stroke-width="0.75"/>
<circle cx="264.04" cy="594.24" r="1.35" fill="#fff" stroke="#1a1a1a" stroke-width="0.75"/>
<circle cx="261.88" cy="573.01" r="1.35" fill="#fff" stroke="#1a1a1a" stroke-width="0.75"/>
<circle cx="257.14" cy="595.51" r="1.35" fill="#fff" stroke="#1a1a1a" stroke-width="0.75"/>
<circle cx="249.23" cy="592.85" r="1.35" fill="#fff" stroke="#1a1a1a" stroke-width="0.75"/>
<circle cx="256.86" cy="580.99" r="1.35" fill="#fff" stroke="#1a1a1a" stroke-width="0.75"/>
<circle cx="254.7" cy="574.86" r="1.35" fill="#fff" stroke="#1a1a1a" stroke-width="0.75"/>
<circle cx="261.07" cy="578.35" r="1.35" fill="#fff" stroke="#1a1a1a" stroke-width="0.75"/>
<circle cx="255.49" cy="583.99" r="1.35" fill="#fff" stroke="#1a1a1a" stroke-width="0.75"/>
<circle cx="264.36" cy="585.9" r="1.35" fill="#fff" stroke="#1a1a1a" stroke-width="0.75"/>
<circle cx="256.72" cy="585.81" r="1.35" fill="#fff" stroke="#1a1a1a" stroke-width="0.75"/>
<circle cx="265.4" cy="581.61" r="1.35" fill="#fff" stroke="#1a1a1a" stroke-width="0.75"/>
<circle cx="264.44" cy="588.59" r="1.35" fill="#fff" stroke="#1a1a1a" stroke-width="0.75"/>
<circle cx="259.36" cy="584.64" r="1.35" fill="#fff" stroke="#1a1a1a" stroke-width="0.75"/>
<circle cx="259.71" cy="581.64" r="1.35" fill="#fff" stroke="#1a1a1a" stroke-width="0.75"/>
<circle cx="258.5" cy="587.14" r="1.35" fill="#fff" stroke="#1a1a1a" stroke-width="0.75"/>
<circle cx="259.62" cy="579.48" r="1.35" fill="#fff" stroke="#1a1a1a" stroke-width="0.75"/>
<circle cx="257.84" cy="581.71" r="1.35" fill="#fff" stroke="#1a1a1a" stroke-width="0.75"/>
<circle cx="258.58" cy="560.27" r="1.35" fill="#fff" stroke="#1a1a1a" stroke-width="0.75"/>
<circle cx="269.21" cy="584.18" r="1.35" fill="#fff" stroke="#1a1a1a" stroke-width="0.75"/>
<circle cx="259.23" cy="590.48" r="1.35" fill="#fff" stroke="#1a1a1a" stroke-width="0.75"/>
<circle cx="263.67" cy="590.08" r="1.35" fill="#fff" stroke="#1a1a1a" stroke-width="0.75"/>
<circle cx="248.1" cy="587.26" r="1.35" fill="#fff" stroke="#1a1a1a" stroke-width="0.75"/>
<circle cx="252.22" cy="577.55" r="1.35" fill="#fff" stroke="#1a1a1a" stroke-width="0.75"/>
<circle cx="266.74" cy="589.82" r="1.35" fill="#fff" stroke="#1a1a1a" stroke-width="0.75"/>
<circle cx="266.39" cy="583.58" r="1.35" fill="#fff" stroke="#1a1a1a" stroke-width="0.75"/>
<circle cx="258.67" cy="563.58" r="1.35" fill="#fff" stroke="#1a1a1a" stroke-width="0.75"/>
<circle cx="259.35" cy="600.5" r="1.35" fill="#fff" stroke="#1a1a1a" stroke-width="0.75"/>
<circle cx="265.26" cy="594.77" r="1.35" fill="#fff" stroke="#1a1a1a" stroke-width="0.75"/>
<circle cx="252.3" cy="584.96" r="1.35" fill="#fff" stroke="#1a1a1a" stroke-width="0.75"/>
<circle cx="261.56" cy="583.46" r="1.35" fill="#fff" stroke="#1a1a1a" stroke-width="0.75"/>
<circle cx="249.55" cy="585.01" r="1.35" fill="#fff" stroke="#1a1a1a" stroke-width="0.75"/>
<circle cx="252.78" cy="590.5" r="1.35" fill="#fff" stroke="#1a1a1a" stroke-width="0.75"/>
<circle cx="252.6" cy="580.73" r="1.35" fill="#fff" stroke="#1a1a1a" stroke-width="0.75"/>
<circle cx="256.62" cy="584.6" r="1.35" fill="#fff" stroke="#1a1a1a" stroke-width="0.75"/>
<circle cx="264.09" cy="591.13" r="1.35" fill="#fff" stroke="#1a1a1a" stroke-width="0.75"/>
<circle cx="263.67" cy="583.89" r="1.35" fill="#fff" stroke="#1a1a1a" stroke-width="0.75"/>
<circle cx="250.53" cy="591.35" r="1.35" fill="#fff" stroke="#1a1a1a" stroke-width="0.75"/>
<circle cx="252.44" cy="587.97" r="1.35" fill="#fff" stroke="#1a1a1a" stroke-width="0.75"/>
<circle cx="258.44" cy="588.98" r="1.35" fill="#fff" stroke="#1a1a1a" stroke-width="0.75"/>
<circle cx="265.27" cy="587.67" r="1.35" fill="#fff" stroke="#1a1a1a" stroke-width="0.75"/>
<circle cx="257.82" cy="600.96" r="1.35" fill="#fff" stroke="#1a1a1a" stroke-width="0.75"/>
<circle cx="254.45" cy="590.89" r="1.35" fill="#fff" stroke="#1a1a1a" stroke-width="0.75"/>
<circle cx="252.47" cy="576.46" r="1.35" fill="#fff" stroke="#1a1a1a" stroke-width="0.75"/>
<circle cx="257.86" cy="553.06" r="1.35" fill="#fff" stroke="#1a1a1a" stroke-width="0.75"/>
<circle cx="258.25" cy="543.87" r="1.35" fill="#fff" stroke="#1a1a1a" stroke-width="0.75"/>
<circle cx="298.89" cy="590.38" r="1.35" fill="#fff" stroke="#1a1a1a" stroke-width="0.75"/>
<circle cx="301.76" cy="578.95" r="1.35" fill="#fff" stroke="#1a1a1a" stroke-width="0.75"/>
<circle cx="303.91" cy="568.36" r="1.35" fill="#fff" stroke="#1a1a1a" stroke-width="0.75"/>
<circle cx="293.36" cy="569.37" r="1.35" fill="#fff" stroke="#1a1a1a" stroke-width="0.75"/>
<circle cx="297.49" cy="562.79" r="1.35" fill="#fff" stroke="#1a1a1a" stroke-width="0.75"/>
<circle cx="291.88" cy="595.9" r="1.35" fill="#fff" stroke="#1a1a1a" stroke-width="0.75"/>
<circle cx="290.15" cy="581.92" r="1.35" fill="#fff" stroke="#1a1a1a" stroke-width="0.75"/>
<circle cx="296.6" cy="581.79" r="1.35" fill="#fff" stroke="#1a1a1a" stroke-width="0.75"/>
<circle cx="298.91" cy="571.79" r="1.35" fill="#fff" stroke="#1a1a1a" stroke-width="0.75"/>
<circle cx="287.95" cy="566.93" r="1.35" fill="#fff" stroke="#1a1a1a" stroke-width="0.75"/>
<circle cx="299.08" cy="566.96" r="1.35" fill="#fff" stroke="#1a1a1a" stroke-width="0.75"/>
<circle cx="304.21" cy="593.27" r="1.35" fill="#fff" stroke="#1a1a1a" stroke-width="0.75"/>
<circle cx="289.3" cy="571.17" r="1.35" fill="#fff" stroke="#1a1a1a" stroke-width="0.75"/>
<circle cx="296.13" cy="593.73" r="1.35" fill="#fff" stroke="#1a1a1a" stroke-width="0.75"/>
<circle cx="290.96" cy="576.43" r="1.35" fill="#fff" stroke="#1a1a1a" stroke-width="0.75"/>
<circle cx="295.11" cy="565.86" r="1.35" fill="#fff" stroke="#1a1a1a" stroke-width="0.75"/>
<circle cx="307.91" cy="579.8" r="1.35" fill="#fff" stroke="#1a1a1a" stroke-width="0.75"/>
<circle cx="297.8" cy="576.27" r="1.35" fill="#fff" stroke="#1a1a1a" stroke-width="0.75"/>
<circle cx="307.41" cy="569.98" r="1.35" fill="#fff" stroke="#1a1a1a" stroke-width="0.75"/>
<circle cx="294.3" cy="576.79" r="1.35" fill="#fff" stroke="#1a1a1a" stroke-width="0.75"/>
<circle cx="287.44" cy="579.17" r="1.35" fill="#fff" stroke="#1a1a1a" stroke-width="0.75"/>
<circle cx="305.42" cy="562.35" r="1.35" fill="#fff" stroke="#1a1a1a" stroke-width="0.75"/>
<circle cx="290.87" cy="567.38" r="1.35" fill="#fff" stroke="#1a1a1a" stroke-width="0.75"/>
<circle cx="304.03" cy="581.3" r="1.35" fill="#fff" stroke="#1a1a1a" stroke-width="0.75"/>
<circle cx="296.99" cy="549.77" r="1.35" fill="#fff" stroke="#1a1a1a" stroke-width="0.75"/>
<circle cx="289.81" cy="590.15" r="1.35" fill="#fff" stroke="#1a1a1a" stroke-width="0.75"/>
<circle cx="300.25" cy="568.77" r="1.35" fill="#fff" stroke="#1a1a1a" stroke-width="0.75"/>
<circle cx="299.59" cy="581.01" r="1.35" fill="#fff" stroke="#1a1a1a" stroke-width="0.75"/>
<circle cx="307.27" cy="576.88" r="1.35" fill="#fff" stroke="#1a1a1a" stroke-width="0.75"/>
<circle cx="303.44" cy="570.94" r="1.35" fill="#fff" stroke="#1a1a1a" stroke-width="0.75"/>
<circle cx="303.8" cy="575.95" r="1.35" fill="#fff" stroke="#1a1a1a" stroke-width="0.75"/>
<circle cx="295.64" cy="571.63" r="1.35" fill="#fff" stroke="#1a1a1a" stroke-width="0.75"/>
<circle cx="299.55" cy="594.1" r="1.35" fill="#fff" stroke="#1a1a1a" stroke-width="0.75"/>
<circle cx="293.04" cy="593.91" r="1.35" fill="#fff" stroke="#1a1a1a" stroke-width="0.75"/>
<circle cx="293.02" cy="571.87" r="1.35" fill="#fff" stroke="#1a1a1a" stroke-width="0.75"/>
<circle cx="306.45" cy="588.25" r="1.35" fill="#fff" stroke="#1a1a1a" stroke-width="0.75"/>
<circle cx="295.05" cy="588.9" r="1.35" fill="#fff" stroke="#1a1a1a" stroke-width="0.75"/>
<circle cx="301.93" cy="593.51" r="1.35" fill="#fff" stroke="#1a1a1a" stroke-width="0.75"/>
<circle cx="302.24" cy="565.12" r="1.35" fill="#fff" stroke="#1a1a1a" stroke-width="0.75"/>
<circle cx="291.54" cy="570.51" r="1.35" fill="#fff" stroke="#1a1a1a" stroke-width="0.75"/>
<circle cx="289.8" cy="562.97" r="1.35" fill="#fff" stroke="#1a1a1a" stroke-width="0.75"/>
<circle cx="291.52" cy="587.98" r="1.35" fill="#fff" stroke="#1a1a1a" stroke-width="0.75"/>
<circle cx="305.1" cy="578.24" r="1.35" fill="#fff" stroke="#1a1a1a" stroke-width="0.75"/>
<circle cx="303.62" cy="590.08" r="1.35" fill="#fff" stroke="#1a1a1a" stroke-width="0.75"/>
<circle cx="301.69" cy="570.31" r="1.35" fill="#fff" stroke="#1a1a1a" stroke-width="0.75"/>
<circle cx="293.63" cy="561.77" r="1.35" fill="#fff" stroke="#1a1a1a" stroke-width="0.75"/>
<circle cx="300.3" cy="587.49" r="1.35" fill="#fff" stroke="#1a1a1a" stroke-width="0.75"/>
<circle cx="302.45" cy="562.07" r="1.35" fill="#fff" stroke="#1a1a1a" stroke-width="0.75"/>
<circle cx="296.73" cy="568" r="1.35" fill="#fff" stroke="#1a1a1a" stroke-width="0.75"/>
<circle cx="293.14" cy="580.1" r="1.35" fill="#fff" stroke="#1a1a1a" stroke-width="0.75"/>
<circle cx="297.2" cy="598.71" r="1.35" fill="#fff" stroke="#1a1a1a" stroke-width="0.75"/>
<circle cx="300.33" cy="563.66" r="1.35" fill="#fff" stroke="#1a1a1a" stroke-width="0.75"/>
<circle cx="297.01" cy="579.25" r="1.35" fill="#fff" stroke="#1a1a1a" stroke-width="0.75"/>
<circle cx="302.32" cy="584.51" r="1.35" fill="#fff" stroke="#1a1a1a" stroke-width="0.75"/>
<circle cx="288.62" cy="574.11" r="1.35" fill="#fff" stroke="#1a1a1a" stroke-width="0.75"/>
<circle cx="308.62" cy="574" r="1.35" fill="#fff" stroke="#1a1a1a" stroke-width="0.75"/>
<circle cx="295.14" cy="562.71" r="1.35" fill="#fff" stroke="#1a1a1a" stroke-width="0.75"/>
<circle cx="297.18" cy="588.84" r="1.35" fill="#fff" stroke="#1a1a1a" stroke-width="0.75"/>
<circle cx="306.15" cy="566.47" r="1.35" fill="#fff" stroke="#1a1a1a" stroke-width="0.75"/>
<circle cx="303.92" cy="562.82" r="1.35" fill="#fff" stroke="#1a1a1a" stroke-width="0.75"/>
<circle cx="292.5" cy="563.19" r="1.35" fill="#fff" stroke="#1a1a1a" stroke-width="0.75"/>
<circle cx="289.44" cy="580.13" r="1.35" fill="#fff" stroke="#1a1a1a" stroke-width="0.75"/>
<circle cx="294.02" cy="585.97" r="1.35" fill="#fff" stroke="#1a1a1a" stroke-width="0.75"/>
<circle cx="307.83" cy="567.69" r="1.35" fill="#fff" stroke="#1a1a1a" stroke-width="0.75"/>
<circle cx="289.08" cy="577.06" r="1.35" fill="#fff" stroke="#1a1a1a" stroke-width="0.75"/>
<circle cx="299.9" cy="576.97" r="1.35" fill="#fff" stroke="#1a1a1a" stroke-width="0.75"/>
<circle cx="293.93" cy="563.48" r="1.35" fill="#fff" stroke="#1a1a1a" stroke-width="0.75"/>
<circle cx="294.42" cy="580.99" r="1.35" fill="#fff" stroke="#1a1a1a" stroke-width="0.75"/>
<circle cx="300.69" cy="582.27" r="1.35" fill="#fff" stroke="#1a1a1a" stroke-width="0.75"/>
<circle cx="302.85" cy="597.49" r="1.35" fill="#fff" stroke="#1a1a1a" stroke-width="0.75"/>
<circle cx="297.95" cy="569.76" r="1.35" fill="#fff" stroke="#1a1a1a" stroke-width="0.75"/>
<circle cx="305.84" cy="574.97" r="1.35" fill="#fff" stroke="#1a1a1a" stroke-width="0.75"/>
<circle cx="298.14" cy="584.59" r="1.35" fill="#fff" stroke="#1a1a1a" stroke-width="0.75"/>
<circle cx="292.4" cy="578.35" r="1.35" fill="#fff" stroke="#1a1a1a" stroke-width="0.75"/>
<circle cx="287.12" cy="569.62" r="1.35" fill="#fff" stroke="#1a1a1a" stroke-width="0.75"/>
<circle cx="303.19" cy="577.44" r="1.35" fill="#fff" stroke="#1a1a1a" stroke-width="0.75"/>
<circle cx="306.17" cy="564.49" r="1.35" fill="#fff" stroke="#1a1a1a" stroke-width="0.75"/>
<circle cx="299.71" cy="578.89" r="1.35" fill="#fff" stroke="#1a1a1a" stroke-width="0.75"/>
<circle cx="292.66" cy="567.46" r="1.35" fill="#fff" stroke="#1a1a1a" stroke-width="0.75"/>
<circle cx="291.14" cy="562.78" r="1.35" fill="#fff" stroke="#1a1a1a" stroke-width="0.75"/>
<circle cx="300.05" cy="561.55" r="1.35" fill="#fff" stroke="#1a1a1a" stroke-width="0.75"/>
<circle cx="290.16" cy="585.22" r="1.35" fill="#fff" stroke="#1a1a1a" stroke-width="0.75"/>
<circle cx="289.58" cy="569.13" r="1.35" fill="#fff" stroke="#1a1a1a" stroke-width="0.75"/>
<circle cx="294.3" cy="597.72" r="1.35" fill="#fff" stroke="#1a1a1a" stroke-width="0.75"/>
<circle cx="292.33" cy="589.49" r="1.35" fill="#fff" stroke="#1a1a1a" stroke-width="0.75"/>
<circle cx="299.66" cy="598.62" r="1.35" fill="#fff" stroke="#1a1a1a" stroke-width="0.75"/>
<circle cx="301.56" cy="567.16" r="1.35" fill="#fff" stroke="#1a1a1a" stroke-width="0.75"/>
<circle cx="296.09" cy="591.03" r="1.35" fill="#fff" stroke="#1a1a1a" stroke-width="0.75"/>
<circle cx="295.26" cy="578.39" r="1.35" fill="#fff" stroke="#1a1a1a" stroke-width="0.75"/>
<circle cx="305.58" cy="580.25" r="1.35" fill="#fff" stroke="#1a1a1a" stroke-width="0.75"/>
<circle cx="290.82" cy="578.55" r="1.35" fill="#fff" stroke="#1a1a1a" stroke-width="0.75"/>
<circle cx="306.53" cy="584.39" r="1.35" fill="#fff" stroke="#1a1a1a" stroke-width="0.75"/>
<circle cx="301.48" cy="575.83" r="1.35" fill="#fff" stroke="#1a1a1a" stroke-width="0.75"/>
<circle cx="295.98" cy="559.67" r="1.35" fill="#fff" stroke="#1a1a1a" stroke-width="0.75"/>
<circle cx="298.84" cy="577.79" r="1.35" fill="#fff" stroke="#1a1a1a" stroke-width="0.75"/>
<circle cx="290.93" cy="572.75" r="1.35" fill="#fff" stroke="#1a1a1a" stroke-width="0.75"/>
<circle cx="294.41" cy="567.87" r="1.35" fill="#fff" stroke="#1a1a1a" stroke-width="0.75"/>
<circle cx="302.8" cy="580.31" r="1.35" fill="#fff" stroke="#1a1a1a" stroke-width="0.75"/>
<circle cx="301" cy="591.32" r="1.35" fill="#fff" stroke="#1a1a1a" stroke-width="0.75"/>
<circle cx="292.57" cy="584.02" r="1.35" fill="#fff" stroke="#1a1a1a" stroke-width="0.75"/>
<circle cx="304.5" cy="567.12" r="1.35" fill="#fff" stroke="#1a1a1a" stroke-width="0.75"/>
<circle cx="297.86" cy="595.33" r="1.35" fill="#fff" stroke="#1a1a1a" stroke-width="0.75"/>
<circle cx="295.92" cy="584.46" r="1.35" fill="#fff" stroke="#1a1a1a" stroke-width="0.75"/>
<circle cx="288.81" cy="567.8" r="1.35" fill="#fff" stroke="#1a1a1a" stroke-width="0.75"/>
<circle cx="295.67" cy="570.03" r="1.35" fill="#fff" stroke="#1a1a1a" stroke-width="0.75"/>
<circle cx="307.87" cy="578.17" r="1.35" fill="#fff" stroke="#1a1a1a" stroke-width="0.75"/>
<circle cx="304.46" cy="569.9" r="1.35" fill="#fff" stroke="#1a1a1a" stroke-width="0.75"/>
<circle cx="308.36" cy="576.53" r="1.35" fill="#fff" stroke="#1a1a1a" stroke-width="0.75"/>
<circle cx="305.6" cy="590.48" r="1.35" fill="#fff" stroke="#1a1a1a" stroke-width="0.75"/>
<circle cx="291.18" cy="594.48" r="1.35" fill="#fff" stroke="#1a1a1a" stroke-width="0.75"/>
<circle cx="300.12" cy="584.88" r="1.35" fill="#fff" stroke="#1a1a1a" stroke-width="0.75"/>
<circle cx="302.25" cy="568.68" r="1.35" fill="#fff" stroke="#1a1a1a" stroke-width="0.75"/>
<circle cx="291.02" cy="584.12" r="1.35" fill="#fff" stroke="#1a1a1a" stroke-width="0.75"/>
<circle cx="302.91" cy="587.62" r="1.35" fill="#fff" stroke="#1a1a1a" stroke-width="0.75"/>
<circle cx="305.45" cy="586.25" r="1.35" fill="#fff" stroke="#1a1a1a" stroke-width="0.75"/>
<circle cx="303.14" cy="594.14" r="1.35" fill="#fff" stroke="#1a1a1a" stroke-width="0.75"/>
<circle cx="304.06" cy="579.47" r="1.35" fill="#fff" stroke="#1a1a1a" stroke-width="0.75"/>
<circle cx="291.48" cy="590.49" r="1.35" fill="#fff" stroke="#1a1a1a" stroke-width="0.75"/>
<circle cx="293.53" cy="574.48" r="1.35" fill="#fff" stroke="#1a1a1a" stroke-width="0.75"/>
<circle cx="295.8" cy="574.85" r="1.35" fill="#fff" stroke="#1a1a1a" stroke-width="0.75"/>
<circle cx="304.09" cy="584.91" r="1.35" fill="#fff" stroke="#1a1a1a" stroke-width="0.75"/>
<circle cx="295.66" cy="598.4" r="1.35" fill="#fff" stroke="#1a1a1a" stroke-width="0.75"/>
<circle cx="308.67" cy="570.74" r="1.35" fill="#fff" stroke="#1a1a1a" stroke-width="0.75"/>
<circle cx="298.45" cy="581.11" r="1.35" fill="#fff" stroke="#1a1a1a" stroke-width="0.75"/>
<circle cx="301.49" cy="601.39" r="1.35" fill="#fff" stroke="#1a1a1a" stroke-width="0.75"/>
<circle cx="289.11" cy="587.33" r="1.35" fill="#fff" stroke="#1a1a1a" stroke-width="0.75"/>
<circle cx="299.77" cy="575.23" r="1.35" fill="#fff" stroke="#1a1a1a" stroke-width="0.75"/>
<circle cx="288.41" cy="583.01" r="1.35" fill="#fff" stroke="#1a1a1a" stroke-width="0.75"/>
<circle cx="294.34" cy="570.16" r="1.35" fill="#fff" stroke="#1a1a1a" stroke-width="0.75"/>
<circle cx="299.71" cy="570.5" r="1.35" fill="#fff" stroke="#1a1a1a" stroke-width="0.75"/>
<circle cx="305.55" cy="571.34" r="1.35" fill="#fff" stroke="#1a1a1a" stroke-width="0.75"/>
<circle cx="289.98" cy="574.87" r="1.35" fill="#fff" stroke="#1a1a1a" stroke-width="0.75"/>
<circle cx="304.42" cy="564.42" r="1.35" fill="#fff" stroke="#1a1a1a" stroke-width="0.75"/>
<circle cx="287.45" cy="571.41" r="1.35" fill="#fff" stroke="#1a1a1a" stroke-width="0.75"/>
<circle cx="303.11" cy="573.57" r="1.35" fill="#fff" stroke="#1a1a1a" stroke-width="0.75"/>
<circle cx="293.86" cy="599.87" r="1.35" fill="#fff" stroke="#1a1a1a" stroke-width="0.75"/>
<circle cx="291.44" cy="568.95" r="1.35" fill="#fff" stroke="#1a1a1a" stroke-width="0.75"/>
<circle cx="298.47" cy="564.67" r="1.35" fill="#fff" stroke="#1a1a1a" stroke-width="0.75"/>
<circle cx="306.76" cy="581.33" r="1.35" fill="#fff" stroke="#1a1a1a" stroke-width="0.75"/>
<circle cx="299.41" cy="583.12" r="1.35" fill="#fff" stroke="#1a1a1a" stroke-width="0.75"/>
<circle cx="303.02" cy="558.13" r="1.35" fill="#fff" stroke="#1a1a1a" stroke-width="0.75"/>
<circle cx="299.85" cy="596.49" r="1.35" fill="#fff" stroke="#1a1a1a" stroke-width="0.75"/>
<circle cx="296.8" cy="573.39" r="1.35" fill="#fff" stroke="#1a1a1a" stroke-width="0.75"/>
<circle cx="300.45" cy="553.11" r="1.35" fill="#fff" stroke="#1a1a1a" stroke-width="0.75"/>
<circle cx="298.32" cy="587.88" r="1.35" fill="#fff" stroke="#1a1a1a" stroke-width="0.75"/>
<circle cx="298.08" cy="571.1" r="1.35" fill="#fff" stroke="#1a1a1a" stroke-width="0.75"/>
<circle cx="293.04" cy="558.68" r="1.35" fill="#fff" stroke="#1a1a1a" stroke-width="0.75"/>
<circle cx="300.88" cy="579.5" r="1.35" fill="#fff" stroke="#1a1a1a" stroke-width="0.75"/>
<circle cx="301.38" cy="572.43" r="1.35" fill="#fff" stroke="#1a1a1a" stroke-width="0.75"/>
<circle cx="295.78" cy="568.89" r="1.35" fill="#fff" stroke="#1a1a1a" stroke-width="0.75"/>
<circle cx="295.49" cy="587.65" r="1.35" fill="#fff" stroke="#1a1a1a" stroke-width="0.75"/>
<circle cx="305.68" cy="579.18" r="1.35" fill="#fff" stroke="#1a1a1a" stroke-width="0.75"/>
<circle cx="287.08" cy="575.22" r="1.35" fill="#fff" stroke="#1a1a1a" stroke-width="0.75"/>
<circle cx="308.44" cy="569.69" r="1.35" fill="#fff" stroke="#1a1a1a" stroke-width="0.75"/>
<circle cx="288.99" cy="578.61" r="1.35" fill="#fff" stroke="#1a1a1a" stroke-width="0.75"/>
<circle cx="291.38" cy="580.28" r="1.35" fill="#fff" stroke="#1a1a1a" stroke-width="0.75"/>
<circle cx="301.38" cy="588.79" r="1.35" fill="#fff" stroke="#1a1a1a" stroke-width="0.75"/>
<circle cx="292.67" cy="581.98" r="1.35" fill="#fff" stroke="#1a1a1a" stroke-width="0.75"/>
<circle cx="306.49" cy="569" r="1.35" fill="#fff" stroke="#1a1a1a" stroke-width="0.75"/>
<circle cx="290.32" cy="577.2" r="1.35" fill="#fff" stroke="#1a1a1a" stroke-width="0.75"/>
<circle cx="297.11" cy="587.1" r="1.35" fill="#fff" stroke="#1a1a1a" stroke-width="0.75"/>
<circle cx="292.8" cy="586.98" r="1.35" fill="#fff" stroke="#1a1a1a" stroke-width="0.75"/>
<circle cx="299.93" cy="550.59" r="1.35" fill="#fff" stroke="#1a1a1a" stroke-width="0.75"/>
<circle cx="289.56" cy="566.43" r="1.35" fill="#fff" stroke="#1a1a1a" stroke-width="0.75"/>
<circle cx="294.24" cy="571.64" r="1.35" fill="#fff" stroke="#1a1a1a" stroke-width="0.75"/>
<circle cx="307.83" cy="571.81" r="1.35" fill="#fff" stroke="#1a1a1a" stroke-width="0.75"/>
<circle cx="304.63" cy="573.27" r="1.35" fill="#fff" stroke="#1a1a1a" stroke-width="0.75"/>
<circle cx="304.57" cy="560.78" r="1.35" fill="#fff" stroke="#1a1a1a" stroke-width="0.75"/>
<circle cx="300.12" cy="573.82" r="1.35" fill="#fff" stroke="#1a1a1a" stroke-width="0.75"/>
<circle cx="303.19" cy="578.95" r="1.35" fill="#fff" stroke="#1a1a1a" stroke-width="0.75"/>
<circle cx="295.19" cy="572.83" r="1.35" fill="#fff" stroke="#1a1a1a" stroke-width="0.75"/>
<circle cx="301.49" cy="598.42" r="1.35" fill="#fff" stroke="#1a1a1a" stroke-width="0.75"/>
<circle cx="305.49" cy="567.54" r="1.35" fill="#fff" stroke="#1a1a1a" stroke-width="0.75"/>
<circle cx="297.16" cy="574.88" r="1.35" fill="#fff" stroke="#1a1a1a" stroke-width="0.75"/>
<circle cx="299.15" cy="585.54" r="1.35" fill="#fff" stroke="#1a1a1a" stroke-width="0.75"/>
<circle cx="296.58" cy="564.5" r="1.35" fill="#fff" stroke="#1a1a1a" stroke-width="0.75"/>
<circle cx="300.78" cy="559.48" r="1.35" fill="#fff" stroke="#1a1a1a" stroke-width="0.75"/>
<circle cx="297.8" cy="592.8" r="1.35" fill="#fff" stroke="#1a1a1a" stroke-width="0.75"/>
<circle cx="291.92" cy="585.17" r="1.35" fill="#fff" stroke="#1a1a1a" stroke-width="0.75"/>
<circle cx="307.63" cy="575.23" r="1.35" fill="#fff" stroke="#1a1a1a" stroke-width="0.75"/>
<circle cx="292.61" cy="576.35" r="1.35" fill="#fff" stroke="#1a1a1a" stroke-width="0.75"/>
<circle cx="302.69" cy="582.39" r="1.35" fill="#fff" stroke="#1a1a1a" stroke-width="0.75"/>
<circle cx="290" cy="588.36" r="1.35" fill="#fff" stroke="#1a1a1a" stroke-width="0.75"/>
<circle cx="297.06" cy="556.26" r="1.35" fill="#fff" stroke="#1a1a1a" stroke-width="0.75"/>
<circle cx="297.89" cy="567.49" r="1.35" fill="#fff" stroke="#1a1a1a" stroke-width="0.75"/>
<circle cx="292.47" cy="590.64" r="1.35" fill="#fff" stroke="#1a1a1a" stroke-width="0.75"/>
<circle cx="290.37" cy="592.21" r="1.35" fill="#fff" stroke="#1a1a1a" stroke-width="0.75"/>
<circle cx="298.54" cy="560.59" r="1.35" fill="#fff" stroke="#1a1a1a" stroke-width="0.75"/>
<circle cx="298.84" cy="567.99" r="1.35" fill="#fff" stroke="#1a1a1a" stroke-width="0.75"/>
<circle cx="297.52" cy="559.36" r="1.35" fill="#fff" stroke="#1a1a1a" stroke-width="0.75"/>
<circle cx="290.37" cy="569.85" r="1.35" fill="#fff" stroke="#1a1a1a" stroke-width="0.75"/>
<circle cx="301.73" cy="587.3" r="1.35" fill="#fff" stroke="#1a1a1a" stroke-width="0.75"/>
<circle cx="288.21" cy="575.55" r="1.35" fill="#fff" stroke="#1a1a1a" stroke-width="0.75"/>
<circle cx="298.75" cy="600.66" r="1.35" fill="#fff" stroke="#1a1a1a" stroke-width="0.75"/>
<circle cx="295.8" cy="586.01" r="1.35" fill="#fff" stroke="#1a1a1a" stroke-width="0.75"/>
<circle cx="299.67" cy="546.14" r="1.35" fill="#fff" stroke="#1a1a1a" stroke-width="0.75"/>
<circle cx="295.55" cy="543.67" r="1.35" fill="#fff" stroke="#1a1a1a" stroke-width="0.75"/>
<circle cx="298.79" cy="542.98" r="1.35" fill="#fff" stroke="#1a1a1a" stroke-width="0.75"/>
<circle cx="333.62" cy="578.37" r="1.35" fill="#fff" stroke="#1a1a1a" stroke-width="0.75"/>
<circle cx="343.62" cy="572.34" r="1.35" fill="#fff" stroke="#1a1a1a" stroke-width="0.75"/>
<circle cx="343.34" cy="585.31" r="1.35" fill="#fff" stroke="#1a1a1a" stroke-width="0.75"/>
<circle cx="346.95" cy="579.05" r="1.35" fill="#fff" stroke="#1a1a1a" stroke-width="0.75"/>
<circle cx="328.35" cy="573" r="1.35" fill="#fff" stroke="#1a1a1a" stroke-width="0.75"/>
<circle cx="337.17" cy="573.85" r="1.35" fill="#fff" stroke="#1a1a1a" stroke-width="0.75"/>
<circle cx="333.21" cy="571.14" r="1.35" fill="#fff" stroke="#1a1a1a" stroke-width="0.75"/>
<circle cx="345.69" cy="575.59" r="1.35" fill="#fff" stroke="#1a1a1a" stroke-width="0.75"/>
<circle cx="338.88" cy="581.12" r="1.35" fill="#fff" stroke="#1a1a1a" stroke-width="0.75"/>
<circle cx="339.67" cy="569.57" r="1.35" fill="#fff" stroke="#1a1a1a" stroke-width="0.75"/>
<circle cx="328.87" cy="577.25" r="1.35" fill="#fff" stroke="#1a1a1a" stroke-width="0.75"/>
<circle cx="328.87" cy="586.33" r="1.35" fill="#fff" stroke="#1a1a1a" stroke-width="0.75"/>
<circle cx="333.97" cy="584.25" r="1.35" fill="#fff" stroke="#1a1a1a" stroke-width="0.75"/>
<circle cx="340.33" cy="577.76" r="1.35" fill="#fff" stroke="#1a1a1a" stroke-width="0.75"/>
<circle cx="325.61" cy="578.9" r="1.35" fill="#fff" stroke="#1a1a1a" stroke-width="0.75"/>
<circle cx="325.61" cy="576.13" r="1.35" fill="#fff" stroke="#1a1a1a" stroke-width="0.75"/>
<circle cx="343.54" cy="577.77" r="1.35" fill="#fff" stroke="#1a1a1a" stroke-width="0.75"/>
<circle cx="333.21" cy="575.94" r="1.35" fill="#fff" stroke="#1a1a1a" stroke-width="0.75"/>
<circle cx="336.36" cy="579.15" r="1.35" fill="#fff" stroke="#1a1a1a" stroke-width="0.75"/>
<circle cx="336" cy="590.81" r="1.35" fill="#fff" stroke="#1a1a1a" stroke-width="0.75"/>
<circle cx="339.87" cy="573.39" r="1.35" fill="#fff" stroke="#1a1a1a" stroke-width="0.75"/>
<circle cx="331.04" cy="566.83" r="1.35" fill="#fff" stroke="#1a1a1a" stroke-width="0.75"/>
<circle cx="332.85" cy="573.25" r="1.35" fill="#fff" stroke="#1a1a1a" stroke-width="0.75"/>
<circle cx="330.5" cy="579.72" r="1.35" fill="#fff" stroke="#1a1a1a" stroke-width="0.75"/>
<circle cx="346.62" cy="573.13" r="1.35" fill="#fff" stroke="#1a1a1a" stroke-width="0.75"/>
<circle cx="338.87" cy="587.78" r="1.35" fill="#fff" stroke="#1a1a1a" stroke-width="0.75"/>
<circle cx="339.82" cy="597.43" r="1.35" fill="#fff" stroke="#1a1a1a" stroke-width="0.75"/>
<circle cx="338.13" cy="577.14" r="1.35" fill="#fff" stroke="#1a1a1a" stroke-width="0.75"/>
<circle cx="334.47" cy="587.41" r="1.35" fill="#fff" stroke="#1a1a1a" stroke-width="0.75"/>
<circle cx="345.64" cy="570.08" r="1.35" fill="#fff" stroke="#1a1a1a" stroke-width="0.75"/>
<circle cx="331.9" cy="589.01" r="1.35" fill="#fff" stroke="#1a1a1a" stroke-width="0.75"/>
<circle cx="342.58" cy="588.54" r="1.35" fill="#fff" stroke="#1a1a1a" stroke-width="0.75"/>
<circle cx="338.18" cy="561.39" r="1.35" fill="#fff" stroke="#1a1a1a" stroke-width="0.75"/>
<circle cx="327.36" cy="581.72" r="1.35" fill="#fff" stroke="#1a1a1a" stroke-width="0.75"/>
<circle cx="340.06" cy="591.97" r="1.35" fill="#fff" stroke="#1a1a1a" stroke-width="0.75"/>
<circle cx="331.22" cy="585.68" r="1.35" fill="#fff" stroke="#1a1a1a" stroke-width="0.75"/>
<circle cx="334.81" cy="572.36" r="1.35" fill="#fff" stroke="#1a1a1a" stroke-width="0.75"/>
<circle cx="326.22" cy="572.61" r="1.35" fill="#fff" stroke="#1a1a1a" stroke-width="0.75"/>
<circle cx="330.46" cy="575.93" r="1.35" fill="#fff" stroke="#1a1a1a" stroke-width="0.75"/>
<circle cx="333.45" cy="562.37" r="1.35" fill="#fff" stroke="#1a1a1a" stroke-width="0.75"/>
<circle cx="328.96" cy="570.43" r="1.35" fill="#fff" stroke="#1a1a1a" stroke-width="0.75"/>
<circle cx="330.35" cy="577.98" r="1.35" fill="#fff" stroke="#1a1a1a" stroke-width="0.75"/>
<circle cx="341.35" cy="571.57" r="1.35" fill="#fff" stroke="#1a1a1a" stroke-width="0.75"/>
<circle cx="335.23" cy="560.6" r="1.35" fill="#fff" stroke="#1a1a1a" stroke-width="0.75"/>
<circle cx="336.82" cy="567.68" r="1.35" fill="#fff" stroke="#1a1a1a" stroke-width="0.75"/>
<circle cx="343.44" cy="567.14" r="1.35" fill="#fff" stroke="#1a1a1a" stroke-width="0.75"/>
<circle cx="329.46" cy="588.99" r="1.35" fill="#fff" stroke="#1a1a1a" stroke-width="0.75"/>
<circle cx="328.58" cy="579.3" r="1.35" fill="#fff" stroke="#1a1a1a" stroke-width="0.75"/>
<circle cx="337.17" cy="570.19" r="1.35" fill="#fff" stroke="#1a1a1a" stroke-width="0.75"/>
<circle cx="342.74" cy="580.84" r="1.35" fill="#fff" stroke="#1a1a1a" stroke-width="0.75"/>
<circle cx="339.73" cy="566.67" r="1.35" fill="#fff" stroke="#1a1a1a" stroke-width="0.75"/>
<circle cx="338.78" cy="571.57" r="1.35" fill="#fff" stroke="#1a1a1a" stroke-width="0.75"/>
<circle cx="332.76" cy="568.34" r="1.35" fill="#fff" stroke="#1a1a1a" stroke-width="0.75"/>
<circle cx="345.12" cy="579.96" r="1.35" fill="#fff" stroke="#1a1a1a" stroke-width="0.75"/>
<circle cx="338.47" cy="551.34" r="1.35" fill="#fff" stroke="#1a1a1a" stroke-width="0.75"/>
<circle cx="335.1" cy="564.9" r="1.35" fill="#fff" stroke="#1a1a1a" stroke-width="0.75"/>
<circle cx="340.91" cy="579.99" r="1.35" fill="#fff" stroke="#1a1a1a" stroke-width="0.75"/>
<circle cx="335.91" cy="576.82" r="1.35" fill="#fff" stroke="#1a1a1a" stroke-width="0.75"/>
<circle cx="334.59" cy="550.84" r="1.35" fill="#fff" stroke="#1a1a1a" stroke-width="0.75"/>
<circle cx="334.11" cy="581.32" r="1.35" fill="#fff" stroke="#1a1a1a" stroke-width="0.75"/>
<circle cx="327.87" cy="568.69" r="1.35" fill="#fff" stroke="#1a1a1a" stroke-width="0.75"/>
<circle cx="329.27" cy="567.59" r="1.35" fill="#fff" stroke="#1a1a1a" stroke-width="0.75"/>
<circle cx="327.18" cy="577.69" r="1.35" fill="#fff" stroke="#1a1a1a" stroke-width="0.75"/>
<circle cx="333.92" cy="589.87" r="1.35" fill="#fff" stroke="#1a1a1a" stroke-width="0.75"/>
<circle cx="341.92" cy="575.81" r="1.35" fill="#fff" stroke="#1a1a1a" stroke-width="0.75"/>
<circle cx="344.64" cy="574.03" r="1.35" fill="#fff" stroke="#1a1a1a" stroke-width="0.75"/>
<circle cx="341.72" cy="566.04" r="1.35" fill="#fff" stroke="#1a1a1a" stroke-width="0.75"/>
<circle cx="330.86" cy="569.64" r="1.35" fill="#fff" stroke="#1a1a1a" stroke-width="0.75"/>
<circle cx="345.88" cy="577.51" r="1.35" fill="#fff" stroke="#1a1a1a" stroke-width="0.75"/>
<circle cx="334.8" cy="568.9" r="1.35" fill="#fff" stroke="#1a1a1a" stroke-width="0.75"/>
<circle cx="330.76" cy="572.16" r="1.35" fill="#fff" stroke="#1a1a1a" stroke-width="0.75"/>
<circle cx="328.71" cy="575.62" r="1.35" fill="#fff" stroke="#1a1a1a" stroke-width="0.75"/>
<circle cx="331.94" cy="577.19" r="1.35" fill="#fff" stroke="#1a1a1a" stroke-width="0.75"/>
<circle cx="326.46" cy="580.28" r="1.35" fill="#fff" stroke="#1a1a1a" stroke-width="0.75"/>
<circle cx="342.85" cy="570.64" r="1.35" fill="#fff" stroke="#1a1a1a" stroke-width="0.75"/>
<circle cx="336.25" cy="588.7" r="1.35" fill="#fff" stroke="#1a1a1a" stroke-width="0.75"/>
<circle cx="340" cy="584.28" r="1.35" fill="#fff" stroke="#1a1a1a" stroke-width="0.75"/>
<circle cx="347.2" cy="577.71" r="1.35" fill="#fff" stroke="#1a1a1a" stroke-width="0.75"/>
<circle cx="331.48" cy="592.95" r="1.35" fill="#fff" stroke="#1a1a1a" stroke-width="0.75"/>
<circle cx="330.56" cy="582.28" r="1.35" fill="#fff" stroke="#1a1a1a" stroke-width="0.75"/>
<circle cx="336.55" cy="584.84" r="1.35" fill="#fff" stroke="#1a1a1a" stroke-width="0.75"/>
<circle cx="345.15" cy="571.86" r="1.35" fill="#fff" stroke="#1a1a1a" stroke-width="0.75"/>
<circle cx="329.33" cy="571.88" r="1.35" fill="#fff" stroke="#1a1a1a" stroke-width="0.75"/>
<circle cx="334.9" cy="578.33" r="1.35" fill="#fff" stroke="#1a1a1a" stroke-width="0.75"/>
<circle cx="331.91" cy="580.17" r="1.35" fill="#fff" stroke="#1a1a1a" stroke-width="0.75"/>
<circle cx="342.12" cy="592.46" r="1.35" fill="#fff" stroke="#1a1a1a" stroke-width="0.75"/>
<circle cx="339.3" cy="558.8" r="1.35" fill="#fff" stroke="#1a1a1a" stroke-width="0.75"/>
<circle cx="340.53" cy="572.41" r="1.35" fill="#fff" stroke="#1a1a1a" stroke-width="0.75"/>
<circle cx="333.62" cy="566.42" r="1.35" fill="#fff" stroke="#1a1a1a" stroke-width="0.75"/>
<circle cx="340.84" cy="586.91" r="1.35" fill="#fff" stroke="#1a1a1a" stroke-width="0.75"/>
<circle cx="338.11" cy="579.68" r="1.35" fill="#fff" stroke="#1a1a1a" stroke-width="0.75"/>
<circle cx="334.87" cy="596.64" r="1.35" fill="#fff" stroke="#1a1a1a" stroke-width="0.75"/>
<circle cx="338.53" cy="569.66" r="1.35" fill="#fff" stroke="#1a1a1a" stroke-width="0.75"/>
<circle cx="341.33" cy="568.06" r="1.35" fill="#fff" stroke="#1a1a1a" stroke-width="0.75"/>
<circle cx="337.16" cy="597.44" r="1.35" fill="#fff" stroke="#1a1a1a" stroke-width="0.75"/>
<circle cx="338.98" cy="578.3" r="1.35" fill="#fff" stroke="#1a1a1a" stroke-width="0.75"/>
<circle cx="327.04" cy="571.22" r="1.35" fill="#fff" stroke="#1a1a1a" stroke-width="0.75"/>
<circle cx="338.7" cy="596.04" r="1.35" fill="#fff" stroke="#1a1a1a" stroke-width="0.75"/>
<circle cx="332.43" cy="596.7" r="1.35" fill="#fff" stroke="#1a1a1a" stroke-width="0.75"/>
<circle cx="334.8" cy="588.81" r="1.35" fill="#fff" stroke="#1a1a1a" stroke-width="0.75"/>
<circle cx="327.88" cy="584.29" r="1.35" fill="#fff" stroke="#1a1a1a" stroke-width="0.75"/>
<circle cx="334.06" cy="592.31" r="1.35" fill="#fff" stroke="#1a1a1a" stroke-width="0.75"/>
<circle cx="344.85" cy="577.43" r="1.35" fill="#fff" stroke="#1a1a1a" stroke-width="0.75"/>
<circle cx="335.58" cy="575.17" r="1.35" fill="#fff" stroke="#1a1a1a" stroke-width="0.75"/>
<circle cx="335.31" cy="571.18" r="1.35" fill="#fff" stroke="#1a1a1a" stroke-width="0.75"/>
<circle cx="332.13" cy="570.48" r="1.35" fill="#fff" stroke="#1a1a1a" stroke-width="0.75"/>
<circle cx="340.58" cy="562.17" r="1.35" fill="#fff" stroke="#1a1a1a" stroke-width="0.75"/>
<circle cx="336.33" cy="565.68" r="1.35" fill="#fff" stroke="#1a1a1a" stroke-width="0.75"/>
<circle cx="338.05" cy="591.37" r="1.35" fill="#fff" stroke="#1a1a1a" stroke-width="0.75"/>
<circle cx="345.09" cy="583" r="1.35" fill="#fff" stroke="#1a1a1a" stroke-width="0.75"/>
<circle cx="340.69" cy="588.76" r="1.35" fill="#fff" stroke="#1a1a1a" stroke-width="0.75"/>
<circle cx="338.24" cy="588.93" r="1.35" fill="#fff" stroke="#1a1a1a" stroke-width="0.75"/>
<circle cx="345.79" cy="578.6" r="1.35" fill="#fff" stroke="#1a1a1a" stroke-width="0.75"/>
<circle cx="342.49" cy="577.7" r="1.35" fill="#fff" stroke="#1a1a1a" stroke-width="0.75"/>
<circle cx="342.09" cy="572.67" r="1.35" fill="#fff" stroke="#1a1a1a" stroke-width="0.75"/>
<circle cx="336.17" cy="594.22" r="1.35" fill="#fff" stroke="#1a1a1a" stroke-width="0.75"/>
<circle cx="332.14" cy="590.6" r="1.35" fill="#fff" stroke="#1a1a1a" stroke-width="0.75"/>
<circle cx="337.01" cy="578" r="1.35" fill="#fff" stroke="#1a1a1a" stroke-width="0.75"/>
<circle cx="333.77" cy="579.83" r="1.35" fill="#fff" stroke="#1a1a1a" stroke-width="0.75"/>
<circle cx="337.2" cy="580.99" r="1.35" fill="#fff" stroke="#1a1a1a" stroke-width="0.75"/>
<circle cx="341.35" cy="578.42" r="1.35" fill="#fff" stroke="#1a1a1a" stroke-width="0.75"/>
<circle cx="339.01" cy="585.64" r="1.35" fill="#fff" stroke="#1a1a1a" stroke-width="0.75"/>
<circle cx="340.74" cy="570.49" r="1.35" fill="#fff" stroke="#1a1a1a" stroke-width="0.75"/>
<circle cx="331.07" cy="574.08" r="1.35" fill="#fff" stroke="#1a1a1a" stroke-width="0.75"/>
<circle cx="332.18" cy="578.67" r="1.35" fill="#fff" stroke="#1a1a1a" stroke-width="0.75"/>
<circle cx="341.13" cy="584.73" r="1.35" fill="#fff" stroke="#1a1a1a" stroke-width="0.75"/>
<circle cx="343.33" cy="579.57" r="1.35" fill="#fff" stroke="#1a1a1a" stroke-width="0.75"/>
<circle cx="330.55" cy="587.94" r="1.35" fill="#fff" stroke="#1a1a1a" stroke-width="0.75"/>
<circle cx="339" cy="577.37" r="1.35" fill="#fff" stroke="#1a1a1a" stroke-width="0.75"/>
<circle cx="339.06" cy="593.36" r="1.35" fill="#fff" stroke="#1a1a1a" stroke-width="0.75"/>
<circle cx="340.34" cy="575.69" r="1.35" fill="#fff" stroke="#1a1a1a" stroke-width="0.75"/>
<circle cx="327.06" cy="576.23" r="1.35" fill="#fff" stroke="#1a1a1a" stroke-width="0.75"/>
<circle cx="330.36" cy="592.05" r="1.35" fill="#fff" stroke="#1a1a1a" stroke-width="0.75"/>
<circle cx="346.4" cy="580.36" r="1.35" fill="#fff" stroke="#1a1a1a" stroke-width="0.75"/>
<circle cx="328.99" cy="581.02" r="1.35" fill="#fff" stroke="#1a1a1a" stroke-width="0.75"/>
<circle cx="336.12" cy="572.99" r="1.35" fill="#fff" stroke="#1a1a1a" stroke-width="0.75"/>
<circle cx="336.55" cy="571.41" r="1.35" fill="#fff" stroke="#1a1a1a" stroke-width="0.75"/>
<circle cx="335.96" cy="578.14" r="1.35" fill="#fff" stroke="#1a1a1a" stroke-width="0.75"/>
<circle cx="337.79" cy="586.59" r="1.35" fill="#fff" stroke="#1a1a1a" stroke-width="0.75"/>
<circle cx="339.62" cy="579.26" r="1.35" fill="#fff" stroke="#1a1a1a" stroke-width="0.75"/>
<circle cx="327.42" cy="578.44" r="1.35" fill="#fff" stroke="#1a1a1a" stroke-width="0.75"/>
<circle cx="334.32" cy="570.14" r="1.35" fill="#fff" stroke="#1a1a1a" stroke-width="0.75"/>
<circle cx="333.87" cy="574.71" r="1.35" fill="#fff" stroke="#1a1a1a" stroke-width="0.75"/>
<circle cx="330.02" cy="585.26" r="1.35" fill="#fff" stroke="#1a1a1a" stroke-width="0.75"/>
<circle cx="332.92" cy="591.81" r="1.35" fill="#fff" stroke="#1a1a1a" stroke-width="0.75"/>
<circle cx="340.53" cy="581.63" r="1.35" fill="#fff" stroke="#1a1a1a" stroke-width="0.75"/>
<circle cx="334.85" cy="585.44" r="1.35" fill="#fff" stroke="#1a1a1a" stroke-width="0.75"/>
<circle cx="332.89" cy="589.29" r="1.35" fill="#fff" stroke="#1a1a1a" stroke-width="0.75"/>
<circle cx="342.18" cy="578.96" r="1.35" fill="#fff" stroke="#1a1a1a" stroke-width="0.75"/>
<circle cx="335.59" cy="582.85" r="1.35" fill="#fff" stroke="#1a1a1a" stroke-width="0.75"/>
<circle cx="340.94" cy="576.67" r="1.35" fill="#fff" stroke="#1a1a1a" stroke-width="0.75"/>
<circle cx="332.03" cy="572.33" r="1.35" fill="#fff" stroke="#1a1a1a" stroke-width="0.75"/>
<circle cx="337.91" cy="582.04" r="1.35" fill="#fff" stroke="#1a1a1a" stroke-width="0.75"/>
<circle cx="335.53" cy="553.65" r="1.35" fill="#fff" stroke="#1a1a1a" stroke-width="0.75"/>
<circle cx="344.8" cy="581.1" r="1.35" fill="#fff" stroke="#1a1a1a" stroke-width="0.75"/>
<circle cx="338.19" cy="566.33" r="1.35" fill="#fff" stroke="#1a1a1a" stroke-width="0.75"/>
<circle cx="343.57" cy="576.5" r="1.35" fill="#fff" stroke="#1a1a1a" stroke-width="0.75"/>
<circle cx="334.89" cy="566.18" r="1.35" fill="#fff" stroke="#1a1a1a" stroke-width="0.75"/>
<circle cx="333.56" cy="585.56" r="1.35" fill="#fff" stroke="#1a1a1a" stroke-width="0.75"/>
<circle cx="337.88" cy="575.2" r="1.35" fill="#fff" stroke="#1a1a1a" stroke-width="0.75"/>
<circle cx="340.15" cy="571.51" r="1.35" fill="#fff" stroke="#1a1a1a" stroke-width="0.75"/>
<circle cx="338.23" cy="553.52" r="1.35" fill="#fff" stroke="#1a1a1a" stroke-width="0.75"/>
<circle cx="326.41" cy="574.41" r="1.35" fill="#fff" stroke="#1a1a1a" stroke-width="0.75"/>
<circle cx="331.86" cy="564.48" r="1.35" fill="#fff" stroke="#1a1a1a" stroke-width="0.75"/>
<circle cx="335.91" cy="569.81" r="1.35" fill="#fff" stroke="#1a1a1a" stroke-width="0.75"/>
<circle cx="339.29" cy="567.93" r="1.35" fill="#fff" stroke="#1a1a1a" stroke-width="0.75"/>
<circle cx="337.59" cy="572.47" r="1.35" fill="#fff" stroke="#1a1a1a" stroke-width="0.75"/>
<circle cx="335.19" cy="579.38" r="1.35" fill="#fff" stroke="#1a1a1a" stroke-width="0.75"/>
<circle cx="327.57" cy="572.48" r="1.35" fill="#fff" stroke="#1a1a1a" stroke-width="0.75"/>
<circle cx="330.83" cy="588.94" r="1.35" fill="#fff" stroke="#1a1a1a" stroke-width="0.75"/>
<circle cx="339.21" cy="565.5" r="1.35" fill="#fff" stroke="#1a1a1a" stroke-width="0.75"/>
<circle cx="332.9" cy="588.31" r="1.35" fill="#fff" stroke="#1a1a1a" stroke-width="0.75"/>
<circle cx="332.07" cy="575.17" r="1.35" fill="#fff" stroke="#1a1a1a" stroke-width="0.75"/>
<circle cx="333.75" cy="555.76" r="1.35" fill="#fff" stroke="#1a1a1a" stroke-width="0.75"/>
<circle cx="337.02" cy="580.08" r="1.35" fill="#fff" stroke="#1a1a1a" stroke-width="0.75"/>
<circle cx="325.73" cy="577.56" r="1.35" fill="#fff" stroke="#1a1a1a" stroke-width="0.75"/>
<circle cx="343.17" cy="565.69" r="1.35" fill="#fff" stroke="#1a1a1a" stroke-width="0.75"/>
<circle cx="334.3" cy="577.49" r="1.35" fill="#fff" stroke="#1a1a1a" stroke-width="0.75"/>
<circle cx="336.89" cy="586.14" r="1.35" fill="#fff" stroke="#1a1a1a" stroke-width="0.75"/>
<circle cx="342.97" cy="575.08" r="1.35" fill="#fff" stroke="#1a1a1a" stroke-width="0.75"/>
<circle cx="346.06" cy="571.72" r="1.35" fill="#fff" stroke="#1a1a1a" stroke-width="0.75"/>
<circle cx="344.28" cy="570.39" r="1.35" fill="#fff" stroke="#1a1a1a" stroke-width="0.75"/>
<circle cx="340.24" cy="585.77" r="1.35" fill="#fff" stroke="#1a1a1a" stroke-width="0.75"/>
<circle cx="337.29" cy="559.58" r="1.35" fill="#fff" stroke="#1a1a1a" stroke-width="0.75"/>
<circle cx="332.71" cy="560.47" r="1.35" fill="#fff" stroke="#1a1a1a" stroke-width="0.75"/>
<circle cx="334.37" cy="601.97" r="1.35" fill="#fff" stroke="#1a1a1a" stroke-width="0.75"/>
<circle cx="337.06" cy="536.96" r="1.35" fill="#fff" stroke="#1a1a1a" stroke-width="0.75"/>
<line x1="246.7" y1="585.17" x2="270.2" y2="585.17" stroke="#a8241e" stroke-width="1.4"/>
<line x1="286.2" y1="580.13" x2="308.8" y2="580.13" stroke="#2f5aa8" stroke-width="1.4"/>
<line x1="325.6" y1="579.14" x2="347.4" y2="579.14" stroke="#2f5aa8" stroke-width="1.4"/>
<text x="387" y="489.35" font-size="15.5" font-weight="bold" stroke="#000">J</text>
<text x="544.8" y="495.33" font-size="9.3" text-anchor="middle" font-weight="bold" stroke="#000">H1299-A3C<tspan font-size="5.6" dy="-3.43">OE</tspan></text>
<line x1="410.2" y1="498.4" x2="676.9" y2="498.4" stroke="#000" stroke-width="0.8"/>
<line x1="410.7" y1="506.2" x2="423.8" y2="506.2" stroke="#000" stroke-width="0.8"/>
<circle cx="417.2" cy="506.2" r="2" fill="#000"/>
<text x="429.9" y="509.6" font-size="9.5" stroke="#000">Control shRNA</text>
<line x1="503.7" y1="506.2" x2="518" y2="506.2" stroke="#000" stroke-width="0.7"/>
<circle cx="510.8" cy="506.2" r="1.8" fill="#fff" stroke="#000" stroke-width="0.7"/>
<text x="523.4" y="509.6" font-size="9.5" stroke="#000"><tspan font-style="italic">A3C</tspan> shRNA#1</text>
<line x1="596.2" y1="506.2" x2="607.9" y2="506.2" stroke="#000" stroke-width="0.7"/>
<rect x="600.29" y="504.49" width="3.42" height="3.42" fill="#fff" stroke="#000" stroke-width="0.7"/>
<text x="616.1" y="509.6" font-size="9.5" stroke="#000"><tspan font-style="italic">A3C</tspan> shRNA#2</text>
<line x1="407.4" y1="523.2" x2="407.4" y2="607.2" stroke="#000" stroke-width="0.8"/>
<line x1="407.4" y1="607.2" x2="521" y2="607.2" stroke="#000" stroke-width="0.8"/>
<line x1="404.4" y1="607.2" x2="407.4" y2="607.2" stroke="#000" stroke-width="0.8"/>
<text x="402.9" y="610.64" font-size="9.6" text-anchor="end" stroke="#000">0</text>
<line x1="404.4" y1="593.2" x2="407.4" y2="593.2" stroke="#000" stroke-width="0.8"/>
<text x="402.9" y="596.64" font-size="9.6" text-anchor="end" stroke="#000">20</text>
<line x1="404.4" y1="579.2" x2="407.4" y2="579.2" stroke="#000" stroke-width="0.8"/>
<text x="402.9" y="582.64" font-size="9.6" text-anchor="end" stroke="#000">40</text>
<line x1="404.4" y1="565.2" x2="407.4" y2="565.2" stroke="#000" stroke-width="0.8"/>
<text x="402.9" y="568.64" font-size="9.6" text-anchor="end" stroke="#000">60</text>
<line x1="404.4" y1="551.2" x2="407.4" y2="551.2" stroke="#000" stroke-width="0.8"/>
<text x="402.9" y="554.64" font-size="9.6" text-anchor="end" stroke="#000">80</text>
<line x1="404.4" y1="537.2" x2="407.4" y2="537.2" stroke="#000" stroke-width="0.8"/>
<text x="402.9" y="540.64" font-size="9.6" text-anchor="end" stroke="#000">100</text>
<line x1="404.4" y1="523.2" x2="407.4" y2="523.2" stroke="#000" stroke-width="0.8"/>
<text x="402.9" y="526.64" font-size="9.6" text-anchor="end" stroke="#000">120</text>
<line x1="418.7" y1="607.2" x2="418.7" y2="610.2" stroke="#000" stroke-width="0.8"/>
<line x1="425.62" y1="607.2" x2="425.62" y2="608.8" stroke="#000" stroke-width="0.55"/>
<line x1="429.67" y1="607.2" x2="429.67" y2="608.8" stroke="#000" stroke-width="0.55"/>
<line x1="432.55" y1="607.2" x2="432.55" y2="608.8" stroke="#000" stroke-width="0.55"/>
<line x1="434.78" y1="607.2" x2="434.78" y2="608.8" stroke="#000" stroke-width="0.55"/>
<line x1="436.6" y1="607.2" x2="436.6" y2="608.8" stroke="#000" stroke-width="0.55"/>
<line x1="438.14" y1="607.2" x2="438.14" y2="608.8" stroke="#000" stroke-width="0.55"/>
<line x1="439.47" y1="607.2" x2="439.47" y2="608.8" stroke="#000" stroke-width="0.55"/>
<line x1="440.65" y1="607.2" x2="440.65" y2="608.8" stroke="#000" stroke-width="0.55"/>
<line x1="441.7" y1="607.2" x2="441.7" y2="610.2" stroke="#000" stroke-width="0.8"/>
<line x1="448.62" y1="607.2" x2="448.62" y2="608.8" stroke="#000" stroke-width="0.55"/>
<line x1="452.67" y1="607.2" x2="452.67" y2="608.8" stroke="#000" stroke-width="0.55"/>
<line x1="455.55" y1="607.2" x2="455.55" y2="608.8" stroke="#000" stroke-width="0.55"/>
<line x1="457.78" y1="607.2" x2="457.78" y2="608.8" stroke="#000" stroke-width="0.55"/>
<line x1="459.6" y1="607.2" x2="459.6" y2="608.8" stroke="#000" stroke-width="0.55"/>
<line x1="461.14" y1="607.2" x2="461.14" y2="608.8" stroke="#000" stroke-width="0.55"/>
<line x1="462.47" y1="607.2" x2="462.47" y2="608.8" stroke="#000" stroke-width="0.55"/>
<line x1="463.65" y1="607.2" x2="463.65" y2="608.8" stroke="#000" stroke-width="0.55"/>
<line x1="464.7" y1="607.2" x2="464.7" y2="610.2" stroke="#000" stroke-width="0.8"/>
<line x1="471.62" y1="607.2" x2="471.62" y2="608.8" stroke="#000" stroke-width="0.55"/>
<line x1="475.67" y1="607.2" x2="475.67" y2="608.8" stroke="#000" stroke-width="0.55"/>
<line x1="478.55" y1="607.2" x2="478.55" y2="608.8" stroke="#000" stroke-width="0.55"/>
<line x1="480.78" y1="607.2" x2="480.78" y2="608.8" stroke="#000" stroke-width="0.55"/>
<line x1="482.6" y1="607.2" x2="482.6" y2="608.8" stroke="#000" stroke-width="0.55"/>
<line x1="484.14" y1="607.2" x2="484.14" y2="608.8" stroke="#000" stroke-width="0.55"/>
<line x1="485.47" y1="607.2" x2="485.47" y2="608.8" stroke="#000" stroke-width="0.55"/>
<line x1="486.65" y1="607.2" x2="486.65" y2="608.8" stroke="#000" stroke-width="0.55"/>
<line x1="487.7" y1="607.2" x2="487.7" y2="610.2" stroke="#000" stroke-width="0.8"/>
<line x1="494.62" y1="607.2" x2="494.62" y2="608.8" stroke="#000" stroke-width="0.55"/>
<line x1="498.67" y1="607.2" x2="498.67" y2="608.8" stroke="#000" stroke-width="0.55"/>
<line x1="501.55" y1="607.2" x2="501.55" y2="608.8" stroke="#000" stroke-width="0.55"/>
<line x1="503.78" y1="607.2" x2="503.78" y2="608.8" stroke="#000" stroke-width="0.55"/>
<line x1="505.6" y1="607.2" x2="505.6" y2="608.8" stroke="#000" stroke-width="0.55"/>
<line x1="507.14" y1="607.2" x2="507.14" y2="608.8" stroke="#000" stroke-width="0.55"/>
<line x1="508.47" y1="607.2" x2="508.47" y2="608.8" stroke="#000" stroke-width="0.55"/>
<line x1="509.65" y1="607.2" x2="509.65" y2="608.8" stroke="#000" stroke-width="0.55"/>
<line x1="510.7" y1="607.2" x2="510.7" y2="610.2" stroke="#000" stroke-width="0.8"/>
<line x1="517.62" y1="607.2" x2="517.62" y2="608.8" stroke="#000" stroke-width="0.55"/>
<line x1="411.78" y1="607.2" x2="411.78" y2="608.8" stroke="#000" stroke-width="0.55"/>
<line x1="413.6" y1="607.2" x2="413.6" y2="608.8" stroke="#000" stroke-width="0.55"/>
<line x1="415.14" y1="607.2" x2="415.14" y2="608.8" stroke="#000" stroke-width="0.55"/>
<line x1="416.47" y1="607.2" x2="416.47" y2="608.8" stroke="#000" stroke-width="0.55"/>
<line x1="417.65" y1="607.2" x2="417.65" y2="608.8" stroke="#000" stroke-width="0.55"/>
<text x="418.7" y="622.64" font-size="9.6" text-anchor="middle" stroke="#000">0.01</text>
<text x="441.7" y="622.64" font-size="9.6" text-anchor="middle" stroke="#000">0.1</text>
<text x="464.7" y="622.64" font-size="9.6" text-anchor="middle" stroke="#000">1</text>
<text x="487.7" y="622.64" font-size="9.6" text-anchor="middle" stroke="#000">10</text>
<text x="510.7" y="622.64" font-size="9.6" text-anchor="middle" stroke="#000">100</text>
<text x="462.2" y="633.37" font-size="9.4" text-anchor="middle" stroke="#000">GEM  (<tspan font-style="italic">μ</tspan>M), 48 h</text>
<polyline points="418.7,535.11 419.85,535.11 421,535.12 422.15,535.12 423.3,535.12 424.45,535.13 425.6,535.13 426.75,535.14 427.9,535.14 429.05,535.15 430.2,535.16 431.35,535.16 432.5,535.18 433.65,535.19 434.8,535.2 435.95,535.22 437.1,535.24 438.25,535.26 439.4,535.28 440.55,535.31 441.7,535.35 442.85,535.39 444,535.43 445.15,535.49 446.3,535.55 447.45,535.62 448.6,535.7 449.75,535.8 450.9,535.91 452.05,536.03 453.2,536.18 454.35,536.35 455.5,536.54 456.65,536.76 457.8,537.01 458.95,537.29 460.1,537.62 461.25,537.98 462.4,538.4 463.55,538.86 464.7,539.38 465.85,539.96 467,540.61 468.15,541.31 469.3,542.08 470.45,542.92 471.6,543.81 472.75,544.77 473.9,545.77 475.05,546.83 476.2,547.91 477.35,549.03 478.5,550.15 479.65,551.27 480.8,552.39 481.95,553.47 483.1,554.53 484.25,555.53 485.4,556.49 486.55,557.38 487.7,558.22 488.85,558.99 490,559.69 491.15,560.34 492.3,560.92 493.45,561.44 494.6,561.9 495.75,562.32 496.9,562.68 498.05,563.01 499.2,563.29 500.35,563.54 501.5,563.76 502.65,563.95 503.8,564.12 504.95,564.27 506.1,564.39 507.25,564.5 508.4,564.6 509.55,564.68 510.7,564.75" fill="none" stroke="#000" stroke-width="0.75"/>
<polyline points="418.7,536.66 419.85,536.74 421,536.83 422.15,536.93 423.3,537.03 424.45,537.15 425.6,537.27 426.75,537.41 427.9,537.56 429.05,537.72 430.2,537.89 431.35,538.09 432.5,538.29 433.65,538.52 434.8,538.76 435.95,539.03 437.1,539.31 438.25,539.62 439.4,539.95 440.55,540.31 441.7,540.69 442.85,541.1 444,541.55 445.15,542.02 446.3,542.52 447.45,543.06 448.6,543.63 449.75,544.23 450.9,544.87 452.05,545.54 453.2,546.25 454.35,546.99 455.5,547.76 456.65,548.56 457.8,549.4 458.95,550.26 460.1,551.14 461.25,552.05 462.4,552.97 463.55,553.92 464.7,554.87 465.85,555.83 467,556.8 468.15,557.77 469.3,558.73 470.45,559.68 471.6,560.63 472.75,561.55 473.9,562.46 475.05,563.34 476.2,564.2 477.35,565.04 478.5,565.84 479.65,566.61 480.8,567.35 481.95,568.06 483.1,568.73 484.25,569.37 485.4,569.97 486.55,570.54 487.7,571.08 488.85,571.58 490,572.05 491.15,572.5 492.3,572.91 493.45,573.29 494.6,573.65 495.75,573.98 496.9,574.29 498.05,574.57 499.2,574.84 500.35,575.08 501.5,575.31 502.65,575.51 503.8,575.71 504.95,575.88 506.1,576.04 507.25,576.19 508.4,576.33 509.55,576.45 510.7,576.57" fill="none" stroke="#000" stroke-width="0.75"/>
<polyline points="418.7,536.2 419.85,536.24 421,536.29 422.15,536.34 423.3,536.4 424.45,536.47 425.6,536.54 426.75,536.62 427.9,536.7 429.05,536.8 430.2,536.9 431.35,537.02 432.5,537.15 433.65,537.29 434.8,537.45 435.95,537.62 437.1,537.81 438.25,538.01 439.4,538.24 440.55,538.49 441.7,538.76 442.85,539.05 444,539.37 445.15,539.72 446.3,540.1 447.45,540.52 448.6,540.96 449.75,541.44 450.9,541.96 452.05,542.52 453.2,543.11 454.35,543.74 455.5,544.42 456.65,545.13 457.8,545.88 458.95,546.67 460.1,547.5 461.25,548.36 462.4,549.25 463.55,550.17 464.7,551.12 465.85,552.08 467,553.06 468.15,554.05 469.3,555.05 470.45,556.05 471.6,557.04 472.75,558.02 473.9,558.98 475.05,559.93 476.2,560.85 477.35,561.74 478.5,562.6 479.65,563.43 480.8,564.22 481.95,564.97 483.1,565.68 484.25,566.36 485.4,566.99 486.55,567.58 487.7,568.14 488.85,568.66 490,569.14 491.15,569.58 492.3,570 493.45,570.38 494.6,570.73 495.75,571.05 496.9,571.34 498.05,571.61 499.2,571.86 500.35,572.09 501.5,572.29 502.65,572.48 503.8,572.65 504.95,572.81 506.1,572.95 507.25,573.08 508.4,573.2 509.55,573.3 510.7,573.4" fill="none" stroke="#000" stroke-width="0.75"/>
<line x1="418.7" y1="533.7" x2="418.7" y2="536.5" stroke="#000" stroke-width="0.7"/>
<line x1="416.9" y1="533.7" x2="420.5" y2="533.7" stroke="#000" stroke-width="0.7"/>
<line x1="416.9" y1="536.5" x2="420.5" y2="536.5" stroke="#000" stroke-width="0.7"/>
<line x1="441.7" y1="533.7" x2="441.7" y2="547.7" stroke="#000" stroke-width="0.7"/>
<line x1="439.9" y1="533.7" x2="443.5" y2="533.7" stroke="#000" stroke-width="0.7"/>
<line x1="439.9" y1="547.7" x2="443.5" y2="547.7" stroke="#000" stroke-width="0.7"/>
<line x1="464.7" y1="547.7" x2="464.7" y2="551.9" stroke="#000" stroke-width="0.7"/>
<line x1="462.9" y1="547.7" x2="466.5" y2="547.7" stroke="#000" stroke-width="0.7"/>
<line x1="462.9" y1="551.9" x2="466.5" y2="551.9" stroke="#000" stroke-width="0.7"/>
<line x1="480.78" y1="561.7" x2="480.78" y2="565.9" stroke="#000" stroke-width="0.7"/>
<line x1="478.98" y1="561.7" x2="482.58" y2="561.7" stroke="#000" stroke-width="0.7"/>
<line x1="478.98" y1="565.9" x2="482.58" y2="565.9" stroke="#000" stroke-width="0.7"/>
<line x1="487.7" y1="565.9" x2="487.7" y2="570.1" stroke="#000" stroke-width="0.7"/>
<line x1="485.9" y1="565.9" x2="489.5" y2="565.9" stroke="#000" stroke-width="0.7"/>
<line x1="485.9" y1="570.1" x2="489.5" y2="570.1" stroke="#000" stroke-width="0.7"/>
<line x1="503.78" y1="568.7" x2="503.78" y2="571.5" stroke="#000" stroke-width="0.7"/>
<line x1="501.98" y1="568.7" x2="505.58" y2="568.7" stroke="#000" stroke-width="0.7"/>
<line x1="501.98" y1="571.5" x2="505.58" y2="571.5" stroke="#000" stroke-width="0.7"/>
<line x1="510.7" y1="572.2" x2="510.7" y2="575" stroke="#000" stroke-width="0.7"/>
<line x1="508.9" y1="572.2" x2="512.5" y2="572.2" stroke="#000" stroke-width="0.7"/>
<line x1="508.9" y1="575" x2="512.5" y2="575" stroke="#000" stroke-width="0.7"/>
<line x1="418.7" y1="533" x2="418.7" y2="535.8" stroke="#000" stroke-width="0.7"/>
<line x1="416.9" y1="533" x2="420.5" y2="533" stroke="#000" stroke-width="0.7"/>
<line x1="416.9" y1="535.8" x2="420.5" y2="535.8" stroke="#000" stroke-width="0.7"/>
<line x1="441.7" y1="535.8" x2="441.7" y2="540" stroke="#000" stroke-width="0.7"/>
<line x1="439.9" y1="535.8" x2="443.5" y2="535.8" stroke="#000" stroke-width="0.7"/>
<line x1="439.9" y1="540" x2="443.5" y2="540" stroke="#000" stroke-width="0.7"/>
<line x1="464.7" y1="550.5" x2="464.7" y2="558.9" stroke="#000" stroke-width="0.7"/>
<line x1="462.9" y1="550.5" x2="466.5" y2="550.5" stroke="#000" stroke-width="0.7"/>
<line x1="462.9" y1="558.9" x2="466.5" y2="558.9" stroke="#000" stroke-width="0.7"/>
<line x1="480.78" y1="563.1" x2="480.78" y2="567.3" stroke="#000" stroke-width="0.7"/>
<line x1="478.98" y1="563.1" x2="482.58" y2="563.1" stroke="#000" stroke-width="0.7"/>
<line x1="478.98" y1="567.3" x2="482.58" y2="567.3" stroke="#000" stroke-width="0.7"/>
<line x1="487.7" y1="563.1" x2="487.7" y2="574.3" stroke="#000" stroke-width="0.7"/>
<line x1="485.9" y1="563.1" x2="489.5" y2="563.1" stroke="#000" stroke-width="0.7"/>
<line x1="485.9" y1="574.3" x2="489.5" y2="574.3" stroke="#000" stroke-width="0.7"/>
<line x1="503.78" y1="575.7" x2="503.78" y2="578.5" stroke="#000" stroke-width="0.7"/>
<line x1="501.98" y1="575.7" x2="505.58" y2="575.7" stroke="#000" stroke-width="0.7"/>
<line x1="501.98" y1="578.5" x2="505.58" y2="578.5" stroke="#000" stroke-width="0.7"/>
<line x1="510.7" y1="574.3" x2="510.7" y2="582.7" stroke="#000" stroke-width="0.7"/>
<line x1="508.9" y1="574.3" x2="512.5" y2="574.3" stroke="#000" stroke-width="0.7"/>
<line x1="508.9" y1="582.7" x2="512.5" y2="582.7" stroke="#000" stroke-width="0.7"/>
<line x1="418.7" y1="526" x2="418.7" y2="540" stroke="#000" stroke-width="0.7"/>
<line x1="416.9" y1="526" x2="420.5" y2="526" stroke="#000" stroke-width="0.7"/>
<line x1="416.9" y1="540" x2="420.5" y2="540" stroke="#000" stroke-width="0.7"/>
<line x1="441.7" y1="535.8" x2="441.7" y2="540" stroke="#000" stroke-width="0.7"/>
<line x1="439.9" y1="535.8" x2="443.5" y2="535.8" stroke="#000" stroke-width="0.7"/>
<line x1="439.9" y1="540" x2="443.5" y2="540" stroke="#000" stroke-width="0.7"/>
<line x1="464.7" y1="538.6" x2="464.7" y2="541.4" stroke="#000" stroke-width="0.7"/>
<line x1="462.9" y1="538.6" x2="466.5" y2="538.6" stroke="#000" stroke-width="0.7"/>
<line x1="462.9" y1="541.4" x2="466.5" y2="541.4" stroke="#000" stroke-width="0.7"/>
<line x1="480.78" y1="543.5" x2="480.78" y2="553.3" stroke="#000" stroke-width="0.7"/>
<line x1="478.98" y1="543.5" x2="482.58" y2="543.5" stroke="#000" stroke-width="0.7"/>
<line x1="478.98" y1="553.3" x2="482.58" y2="553.3" stroke="#000" stroke-width="0.7"/>
<line x1="487.7" y1="554" x2="487.7" y2="563.8" stroke="#000" stroke-width="0.7"/>
<line x1="485.9" y1="554" x2="489.5" y2="554" stroke="#000" stroke-width="0.7"/>
<line x1="485.9" y1="563.8" x2="489.5" y2="563.8" stroke="#000" stroke-width="0.7"/>
<line x1="503.78" y1="555.4" x2="503.78" y2="569.4" stroke="#000" stroke-width="0.7"/>
<line x1="501.98" y1="555.4" x2="505.58" y2="555.4" stroke="#000" stroke-width="0.7"/>
<line x1="501.98" y1="569.4" x2="505.58" y2="569.4" stroke="#000" stroke-width="0.7"/>
<line x1="510.7" y1="562.4" x2="510.7" y2="568" stroke="#000" stroke-width="0.7"/>
<line x1="508.9" y1="562.4" x2="512.5" y2="562.4" stroke="#000" stroke-width="0.7"/>
<line x1="508.9" y1="568" x2="512.5" y2="568" stroke="#000" stroke-width="0.7"/>
<rect x="416.76" y="533.17" width="3.87" height="3.87" fill="#fff" stroke="#000" stroke-width="0.7"/>
<rect x="439.76" y="538.77" width="3.87" height="3.87" fill="#fff" stroke="#000" stroke-width="0.7"/>
<rect x="462.76" y="547.87" width="3.87" height="3.87" fill="#fff" stroke="#000" stroke-width="0.7"/>
<rect x="478.84" y="561.87" width="3.87" height="3.87" fill="#fff" stroke="#000" stroke-width="0.7"/>
<rect x="485.76" y="566.07" width="3.87" height="3.87" fill="#fff" stroke="#000" stroke-width="0.7"/>
<rect x="501.84" y="568.17" width="3.87" height="3.87" fill="#fff" stroke="#000" stroke-width="0.7"/>
<rect x="508.76" y="571.67" width="3.87" height="3.87" fill="#fff" stroke="#000" stroke-width="0.7"/>
<circle cx="418.7" cy="534.4" r="2.04" fill="#fff" stroke="#000" stroke-width="0.7"/>
<circle cx="441.7" cy="537.9" r="2.04" fill="#fff" stroke="#000" stroke-width="0.7"/>
<circle cx="464.7" cy="554.7" r="2.04" fill="#fff" stroke="#000" stroke-width="0.7"/>
<circle cx="480.78" cy="565.2" r="2.04" fill="#fff" stroke="#000" stroke-width="0.7"/>
<circle cx="487.7" cy="568.7" r="2.04" fill="#fff" stroke="#000" stroke-width="0.7"/>
<circle cx="503.78" cy="577.1" r="2.04" fill="#fff" stroke="#000" stroke-width="0.7"/>
<circle cx="510.7" cy="578.5" r="2.04" fill="#fff" stroke="#000" stroke-width="0.7"/>
<circle cx="418.7" cy="533" r="2.15" fill="#000"/>
<circle cx="441.7" cy="537.9" r="2.15" fill="#000"/>
<circle cx="464.7" cy="540" r="2.15" fill="#000"/>
<circle cx="480.78" cy="548.4" r="2.15" fill="#000"/>
<circle cx="487.7" cy="558.9" r="2.15" fill="#000"/>
<circle cx="503.78" cy="562.4" r="2.15" fill="#000"/>
<circle cx="510.7" cy="565.2" r="2.15" fill="#000"/>
<line x1="562.4" y1="522.6" x2="562.4" y2="606.6" stroke="#000" stroke-width="0.8"/>
<line x1="562.4" y1="606.6" x2="678" y2="606.6" stroke="#000" stroke-width="0.8"/>
<line x1="559.4" y1="606.6" x2="562.4" y2="606.6" stroke="#000" stroke-width="0.8"/>
<text x="557.9" y="610.04" font-size="9.6" text-anchor="end" stroke="#000">0</text>
<line x1="559.4" y1="592.6" x2="562.4" y2="592.6" stroke="#000" stroke-width="0.8"/>
<text x="557.9" y="596.04" font-size="9.6" text-anchor="end" stroke="#000">20</text>
<line x1="559.4" y1="578.6" x2="562.4" y2="578.6" stroke="#000" stroke-width="0.8"/>
<text x="557.9" y="582.04" font-size="9.6" text-anchor="end" stroke="#000">40</text>
<line x1="559.4" y1="564.6" x2="562.4" y2="564.6" stroke="#000" stroke-width="0.8"/>
<text x="557.9" y="568.04" font-size="9.6" text-anchor="end" stroke="#000">60</text>
<line x1="559.4" y1="550.6" x2="562.4" y2="550.6" stroke="#000" stroke-width="0.8"/>
<text x="557.9" y="554.04" font-size="9.6" text-anchor="end" stroke="#000">80</text>
<line x1="559.4" y1="536.6" x2="562.4" y2="536.6" stroke="#000" stroke-width="0.8"/>
<text x="557.9" y="540.04" font-size="9.6" text-anchor="end" stroke="#000">100</text>
<line x1="559.4" y1="522.6" x2="562.4" y2="522.6" stroke="#000" stroke-width="0.8"/>
<text x="557.9" y="526.04" font-size="9.6" text-anchor="end" stroke="#000">120</text>
<line x1="574.2" y1="606.6" x2="574.2" y2="609.6" stroke="#000" stroke-width="0.8"/>
<line x1="581.21" y1="606.6" x2="581.21" y2="608.2" stroke="#000" stroke-width="0.55"/>
<line x1="585.32" y1="606.6" x2="585.32" y2="608.2" stroke="#000" stroke-width="0.55"/>
<line x1="588.23" y1="606.6" x2="588.23" y2="608.2" stroke="#000" stroke-width="0.55"/>
<line x1="590.49" y1="606.6" x2="590.49" y2="608.2" stroke="#000" stroke-width="0.55"/>
<line x1="592.33" y1="606.6" x2="592.33" y2="608.2" stroke="#000" stroke-width="0.55"/>
<line x1="593.89" y1="606.6" x2="593.89" y2="608.2" stroke="#000" stroke-width="0.55"/>
<line x1="595.24" y1="606.6" x2="595.24" y2="608.2" stroke="#000" stroke-width="0.55"/>
<line x1="596.43" y1="606.6" x2="596.43" y2="608.2" stroke="#000" stroke-width="0.55"/>
<line x1="597.5" y1="606.6" x2="597.5" y2="609.6" stroke="#000" stroke-width="0.8"/>
<line x1="604.51" y1="606.6" x2="604.51" y2="608.2" stroke="#000" stroke-width="0.55"/>
<line x1="608.62" y1="606.6" x2="608.62" y2="608.2" stroke="#000" stroke-width="0.55"/>
<line x1="611.53" y1="606.6" x2="611.53" y2="608.2" stroke="#000" stroke-width="0.55"/>
<line x1="613.79" y1="606.6" x2="613.79" y2="608.2" stroke="#000" stroke-width="0.55"/>
<line x1="615.63" y1="606.6" x2="615.63" y2="608.2" stroke="#000" stroke-width="0.55"/>
<line x1="617.19" y1="606.6" x2="617.19" y2="608.2" stroke="#000" stroke-width="0.55"/>
<line x1="618.54" y1="606.6" x2="618.54" y2="608.2" stroke="#000" stroke-width="0.55"/>
<line x1="619.73" y1="606.6" x2="619.73" y2="608.2" stroke="#000" stroke-width="0.55"/>
<line x1="620.8" y1="606.6" x2="620.8" y2="609.6" stroke="#000" stroke-width="0.8"/>
<line x1="627.81" y1="606.6" x2="627.81" y2="608.2" stroke="#000" stroke-width="0.55"/>
<line x1="631.92" y1="606.6" x2="631.92" y2="608.2" stroke="#000" stroke-width="0.55"/>
<line x1="634.83" y1="606.6" x2="634.83" y2="608.2" stroke="#000" stroke-width="0.55"/>
<line x1="637.09" y1="606.6" x2="637.09" y2="608.2" stroke="#000" stroke-width="0.55"/>
<line x1="638.93" y1="606.6" x2="638.93" y2="608.2" stroke="#000" stroke-width="0.55"/>
<line x1="640.49" y1="606.6" x2="640.49" y2="608.2" stroke="#000" stroke-width="0.55"/>
<line x1="641.84" y1="606.6" x2="641.84" y2="608.2" stroke="#000" stroke-width="0.55"/>
<line x1="643.03" y1="606.6" x2="643.03" y2="608.2" stroke="#000" stroke-width="0.55"/>
<line x1="644.1" y1="606.6" x2="644.1" y2="609.6" stroke="#000" stroke-width="0.8"/>
<line x1="651.11" y1="606.6" x2="651.11" y2="608.2" stroke="#000" stroke-width="0.55"/>
<line x1="655.22" y1="606.6" x2="655.22" y2="608.2" stroke="#000" stroke-width="0.55"/>
<line x1="658.13" y1="606.6" x2="658.13" y2="608.2" stroke="#000" stroke-width="0.55"/>
<line x1="660.39" y1="606.6" x2="660.39" y2="608.2" stroke="#000" stroke-width="0.55"/>
<line x1="662.23" y1="606.6" x2="662.23" y2="608.2" stroke="#000" stroke-width="0.55"/>
<line x1="663.79" y1="606.6" x2="663.79" y2="608.2" stroke="#000" stroke-width="0.55"/>
<line x1="665.14" y1="606.6" x2="665.14" y2="608.2" stroke="#000" stroke-width="0.55"/>
<line x1="666.33" y1="606.6" x2="666.33" y2="608.2" stroke="#000" stroke-width="0.55"/>
<line x1="667.4" y1="606.6" x2="667.4" y2="609.6" stroke="#000" stroke-width="0.8"/>
<line x1="674.41" y1="606.6" x2="674.41" y2="608.2" stroke="#000" stroke-width="0.55"/>
<line x1="567.19" y1="606.6" x2="567.19" y2="608.2" stroke="#000" stroke-width="0.55"/>
<line x1="569.03" y1="606.6" x2="569.03" y2="608.2" stroke="#000" stroke-width="0.55"/>
<line x1="570.59" y1="606.6" x2="570.59" y2="608.2" stroke="#000" stroke-width="0.55"/>
<line x1="571.94" y1="606.6" x2="571.94" y2="608.2" stroke="#000" stroke-width="0.55"/>
<line x1="573.13" y1="606.6" x2="573.13" y2="608.2" stroke="#000" stroke-width="0.55"/>
<text x="574.2" y="622.04" font-size="9.6" text-anchor="middle" stroke="#000">0.01</text>
<text x="597.5" y="622.04" font-size="9.6" text-anchor="middle" stroke="#000">0.1</text>
<text x="620.8" y="622.04" font-size="9.6" text-anchor="middle" stroke="#000">1</text>
<text x="644.1" y="622.04" font-size="9.6" text-anchor="middle" stroke="#000">10</text>
<text x="667.4" y="622.04" font-size="9.6" text-anchor="middle" stroke="#000">100</text>
<text x="621.3" y="632.77" font-size="9.4" text-anchor="middle" stroke="#000">GEM  (<tspan font-style="italic">μ</tspan>M), 72h</text>
<polyline points="574.2,535.99 575.37,536 576.53,536.01 577.69,536.02 578.86,536.03 580.02,536.05 581.19,536.07 582.35,536.09 583.52,536.11 584.68,536.14 585.85,536.17 587.01,536.2 588.18,536.24 589.34,536.28 590.51,536.32 591.67,536.37 592.84,536.43 594,536.49 595.17,536.57 596.33,536.65 597.5,536.74 598.66,536.84 599.83,536.95 601,537.07 602.16,537.21 603.32,537.36 604.49,537.53 605.65,537.73 606.82,537.94 607.98,538.17 609.15,538.43 610.31,538.72 611.48,539.04 612.64,539.39 613.81,539.78 614.97,540.21 616.14,540.67 617.3,541.19 618.47,541.74 619.63,542.35 620.8,543 621.96,543.71 623.13,544.47 624.29,545.29 625.46,546.16 626.62,547.08 627.79,548.06 628.95,549.08 630.12,550.16 631.28,551.27 632.45,552.42 633.61,553.6 634.78,554.8 635.94,556.02 637.11,557.25 638.27,558.48 639.44,559.7 640.6,560.9 641.77,562.08 642.93,563.23 644.1,564.34 645.26,565.42 646.43,566.44 647.59,567.42 648.76,568.34 649.92,569.21 651.09,570.03 652.25,570.79 653.42,571.5 654.58,572.15 655.75,572.76 656.91,573.31 658.08,573.83 659.25,574.29 660.41,574.72 661.57,575.11 662.74,575.46 663.9,575.78 665.07,576.07 666.23,576.33 667.4,576.56" fill="none" stroke="#000" stroke-width="0.75"/>
<polyline points="574.2,534.79 575.37,534.9 576.53,535.03 577.69,535.18 578.86,535.34 580.02,535.53 581.19,535.73 582.35,535.96 583.52,536.21 584.68,536.48 585.85,536.79 587.01,537.13 588.18,537.51 589.34,537.92 590.51,538.38 591.67,538.88 592.84,539.44 594,540.04 595.17,540.7 596.33,541.41 597.5,542.18 598.66,543.02 599.83,543.92 601,544.88 602.16,545.91 603.32,547 604.49,548.15 605.65,549.36 606.82,550.63 607.98,551.94 609.15,553.3 610.31,554.69 611.48,556.11 612.64,557.55 613.81,559 614.97,560.45 616.14,561.89 617.3,563.31 618.47,564.7 619.63,566.06 620.8,567.37 621.96,568.64 623.13,569.85 624.29,571 625.46,572.09 626.62,573.12 627.79,574.08 628.95,574.98 630.12,575.82 631.28,576.59 632.45,577.3 633.61,577.96 634.78,578.56 635.94,579.12 637.11,579.62 638.27,580.08 639.44,580.49 640.6,580.87 641.77,581.21 642.93,581.52 644.1,581.79 645.26,582.04 646.43,582.27 647.59,582.47 648.76,582.66 649.92,582.82 651.09,582.97 652.25,583.1 653.42,583.21 654.58,583.32 655.75,583.41 656.91,583.5 658.08,583.57 659.25,583.64 660.41,583.7 661.57,583.75 662.74,583.8 663.9,583.85 665.07,583.88 666.23,583.92 667.4,583.95" fill="none" stroke="#000" stroke-width="0.75"/>
<polyline points="574.2,534.6 575.37,534.68 576.53,534.78 577.69,534.88 578.86,535 580.02,535.12 581.19,535.26 582.35,535.42 583.52,535.59 584.68,535.78 585.85,535.98 587.01,536.21 588.18,536.46 589.34,536.74 590.51,537.04 591.67,537.36 592.84,537.72 594,538.12 595.17,538.54 596.33,539.01 597.5,539.51 598.66,540.06 599.83,540.65 601,541.29 602.16,541.98 603.32,542.72 604.49,543.5 605.65,544.34 606.82,545.24 607.98,546.18 609.15,547.18 610.31,548.23 611.48,549.33 612.64,550.47 613.81,551.65 614.97,552.88 616.14,554.13 617.3,555.41 618.47,556.71 619.63,558.03 620.8,559.35 621.96,560.67 623.13,561.99 624.29,563.29 625.46,564.57 626.62,565.82 627.79,567.05 628.95,568.23 630.12,569.37 631.28,570.47 632.45,571.52 633.61,572.52 634.78,573.46 635.94,574.36 637.11,575.2 638.27,575.98 639.44,576.72 640.6,577.41 641.77,578.05 642.93,578.64 644.1,579.19 645.26,579.69 646.43,580.16 647.59,580.58 648.76,580.98 649.92,581.34 651.09,581.66 652.25,581.96 653.42,582.24 654.58,582.49 655.75,582.72 656.91,582.92 658.08,583.11 659.25,583.28 660.41,583.44 661.57,583.58 662.74,583.7 663.9,583.82 665.07,583.92 666.23,584.02 667.4,584.1" fill="none" stroke="#000" stroke-width="0.75"/>
<line x1="574.2" y1="530.3" x2="574.2" y2="535.9" stroke="#000" stroke-width="0.7"/>
<line x1="572.4" y1="530.3" x2="576" y2="530.3" stroke="#000" stroke-width="0.7"/>
<line x1="572.4" y1="535.9" x2="576" y2="535.9" stroke="#000" stroke-width="0.7"/>
<line x1="597.5" y1="538.7" x2="597.5" y2="549.9" stroke="#000" stroke-width="0.7"/>
<line x1="595.7" y1="538.7" x2="599.3" y2="538.7" stroke="#000" stroke-width="0.7"/>
<line x1="595.7" y1="549.9" x2="599.3" y2="549.9" stroke="#000" stroke-width="0.7"/>
<line x1="620.8" y1="559.7" x2="620.8" y2="562.5" stroke="#000" stroke-width="0.7"/>
<line x1="619" y1="559.7" x2="622.6" y2="559.7" stroke="#000" stroke-width="0.7"/>
<line x1="619" y1="562.5" x2="622.6" y2="562.5" stroke="#000" stroke-width="0.7"/>
<line x1="637.09" y1="569.5" x2="637.09" y2="575.1" stroke="#000" stroke-width="0.7"/>
<line x1="635.29" y1="569.5" x2="638.89" y2="569.5" stroke="#000" stroke-width="0.7"/>
<line x1="635.29" y1="575.1" x2="638.89" y2="575.1" stroke="#000" stroke-width="0.7"/>
<line x1="644.1" y1="576.5" x2="644.1" y2="584.9" stroke="#000" stroke-width="0.7"/>
<line x1="642.3" y1="576.5" x2="645.9" y2="576.5" stroke="#000" stroke-width="0.7"/>
<line x1="642.3" y1="584.9" x2="645.9" y2="584.9" stroke="#000" stroke-width="0.7"/>
<line x1="660.39" y1="584.2" x2="660.39" y2="587" stroke="#000" stroke-width="0.7"/>
<line x1="658.59" y1="584.2" x2="662.19" y2="584.2" stroke="#000" stroke-width="0.7"/>
<line x1="658.59" y1="587" x2="662.19" y2="587" stroke="#000" stroke-width="0.7"/>
<line x1="667.4" y1="583.5" x2="667.4" y2="586.3" stroke="#000" stroke-width="0.7"/>
<line x1="665.6" y1="583.5" x2="669.2" y2="583.5" stroke="#000" stroke-width="0.7"/>
<line x1="665.6" y1="586.3" x2="669.2" y2="586.3" stroke="#000" stroke-width="0.7"/>
<line x1="574.2" y1="531" x2="574.2" y2="536.6" stroke="#000" stroke-width="0.7"/>
<line x1="572.4" y1="531" x2="576" y2="531" stroke="#000" stroke-width="0.7"/>
<line x1="572.4" y1="536.6" x2="576" y2="536.6" stroke="#000" stroke-width="0.7"/>
<line x1="597.5" y1="542.9" x2="597.5" y2="548.5" stroke="#000" stroke-width="0.7"/>
<line x1="595.7" y1="542.9" x2="599.3" y2="542.9" stroke="#000" stroke-width="0.7"/>
<line x1="595.7" y1="548.5" x2="599.3" y2="548.5" stroke="#000" stroke-width="0.7"/>
<line x1="620.8" y1="568.1" x2="620.8" y2="570.9" stroke="#000" stroke-width="0.7"/>
<line x1="619" y1="568.1" x2="622.6" y2="568.1" stroke="#000" stroke-width="0.7"/>
<line x1="619" y1="570.9" x2="622.6" y2="570.9" stroke="#000" stroke-width="0.7"/>
<line x1="637.09" y1="570.2" x2="637.09" y2="580" stroke="#000" stroke-width="0.7"/>
<line x1="635.29" y1="570.2" x2="638.89" y2="570.2" stroke="#000" stroke-width="0.7"/>
<line x1="635.29" y1="580" x2="638.89" y2="580" stroke="#000" stroke-width="0.7"/>
<line x1="644.1" y1="575.1" x2="644.1" y2="577.9" stroke="#000" stroke-width="0.7"/>
<line x1="642.3" y1="575.1" x2="645.9" y2="575.1" stroke="#000" stroke-width="0.7"/>
<line x1="642.3" y1="577.9" x2="645.9" y2="577.9" stroke="#000" stroke-width="0.7"/>
<line x1="660.39" y1="582.8" x2="660.39" y2="585.6" stroke="#000" stroke-width="0.7"/>
<line x1="658.59" y1="582.8" x2="662.19" y2="582.8" stroke="#000" stroke-width="0.7"/>
<line x1="658.59" y1="585.6" x2="662.19" y2="585.6" stroke="#000" stroke-width="0.7"/>
<line x1="667.4" y1="582.1" x2="667.4" y2="584.9" stroke="#000" stroke-width="0.7"/>
<line x1="665.6" y1="582.1" x2="669.2" y2="582.1" stroke="#000" stroke-width="0.7"/>
<line x1="665.6" y1="584.9" x2="669.2" y2="584.9" stroke="#000" stroke-width="0.7"/>
<line x1="574.2" y1="523.3" x2="574.2" y2="547.1" stroke="#000" stroke-width="0.7"/>
<line x1="572.4" y1="523.3" x2="576" y2="523.3" stroke="#000" stroke-width="0.7"/>
<line x1="572.4" y1="547.1" x2="576" y2="547.1" stroke="#000" stroke-width="0.7"/>
<line x1="597.5" y1="533.8" x2="597.5" y2="539.4" stroke="#000" stroke-width="0.7"/>
<line x1="595.7" y1="533.8" x2="599.3" y2="533.8" stroke="#000" stroke-width="0.7"/>
<line x1="595.7" y1="539.4" x2="599.3" y2="539.4" stroke="#000" stroke-width="0.7"/>
<line x1="620.8" y1="537.3" x2="620.8" y2="548.5" stroke="#000" stroke-width="0.7"/>
<line x1="619" y1="537.3" x2="622.6" y2="537.3" stroke="#000" stroke-width="0.7"/>
<line x1="619" y1="548.5" x2="622.6" y2="548.5" stroke="#000" stroke-width="0.7"/>
<line x1="637.09" y1="558.3" x2="637.09" y2="561.1" stroke="#000" stroke-width="0.7"/>
<line x1="635.29" y1="558.3" x2="638.89" y2="558.3" stroke="#000" stroke-width="0.7"/>
<line x1="635.29" y1="561.1" x2="638.89" y2="561.1" stroke="#000" stroke-width="0.7"/>
<line x1="644.1" y1="561.8" x2="644.1" y2="564.6" stroke="#000" stroke-width="0.7"/>
<line x1="642.3" y1="561.8" x2="645.9" y2="561.8" stroke="#000" stroke-width="0.7"/>
<line x1="642.3" y1="564.6" x2="645.9" y2="564.6" stroke="#000" stroke-width="0.7"/>
<line x1="660.39" y1="571.6" x2="660.39" y2="574.4" stroke="#000" stroke-width="0.7"/>
<line x1="658.59" y1="571.6" x2="662.19" y2="571.6" stroke="#000" stroke-width="0.7"/>
<line x1="658.59" y1="574.4" x2="662.19" y2="574.4" stroke="#000" stroke-width="0.7"/>
<line x1="667.4" y1="574.4" x2="667.4" y2="577.2" stroke="#000" stroke-width="0.7"/>
<line x1="665.6" y1="574.4" x2="669.2" y2="574.4" stroke="#000" stroke-width="0.7"/>
<line x1="665.6" y1="577.2" x2="669.2" y2="577.2" stroke="#000" stroke-width="0.7"/>
<rect x="572.26" y="531.17" width="3.87" height="3.87" fill="#fff" stroke="#000" stroke-width="0.7"/>
<rect x="595.57" y="542.37" width="3.87" height="3.87" fill="#fff" stroke="#000" stroke-width="0.7"/>
<rect x="618.87" y="559.17" width="3.87" height="3.87" fill="#fff" stroke="#000" stroke-width="0.7"/>
<rect x="635.15" y="570.37" width="3.87" height="3.87" fill="#fff" stroke="#000" stroke-width="0.7"/>
<rect x="642.16" y="578.77" width="3.87" height="3.87" fill="#fff" stroke="#000" stroke-width="0.7"/>
<rect x="658.45" y="583.67" width="3.87" height="3.87" fill="#fff" stroke="#000" stroke-width="0.7"/>
<rect x="665.47" y="582.97" width="3.87" height="3.87" fill="#fff" stroke="#000" stroke-width="0.7"/>
<circle cx="574.2" cy="533.8" r="2.04" fill="#fff" stroke="#000" stroke-width="0.7"/>
<circle cx="597.5" cy="545.7" r="2.04" fill="#fff" stroke="#000" stroke-width="0.7"/>
<circle cx="620.8" cy="569.5" r="2.04" fill="#fff" stroke="#000" stroke-width="0.7"/>
<circle cx="637.09" cy="575.1" r="2.04" fill="#fff" stroke="#000" stroke-width="0.7"/>
<circle cx="644.1" cy="576.5" r="2.04" fill="#fff" stroke="#000" stroke-width="0.7"/>
<circle cx="660.39" cy="584.2" r="2.04" fill="#fff" stroke="#000" stroke-width="0.7"/>
<circle cx="667.4" cy="583.5" r="2.04" fill="#fff" stroke="#000" stroke-width="0.7"/>
<circle cx="574.2" cy="535.2" r="2.15" fill="#000"/>
<circle cx="597.5" cy="536.6" r="2.15" fill="#000"/>
<circle cx="620.8" cy="542.9" r="2.15" fill="#000"/>
<circle cx="637.09" cy="559.7" r="2.15" fill="#000"/>
<circle cx="644.1" cy="563.2" r="2.15" fill="#000"/>
<circle cx="660.39" cy="573" r="2.15" fill="#000"/>
<circle cx="667.4" cy="575.8" r="2.15" fill="#000"/>
<text x="380" y="556.1" font-size="9.5" text-anchor="middle" stroke="#000" transform="rotate(-90 380 552.7)">Viability (% )</text>
<text x="534.6" y="561.7" font-size="9.5" text-anchor="middle" stroke="#000" transform="rotate(-90 534.6 558.3)">Viability (% )</text>
</svg>
</body></html>
